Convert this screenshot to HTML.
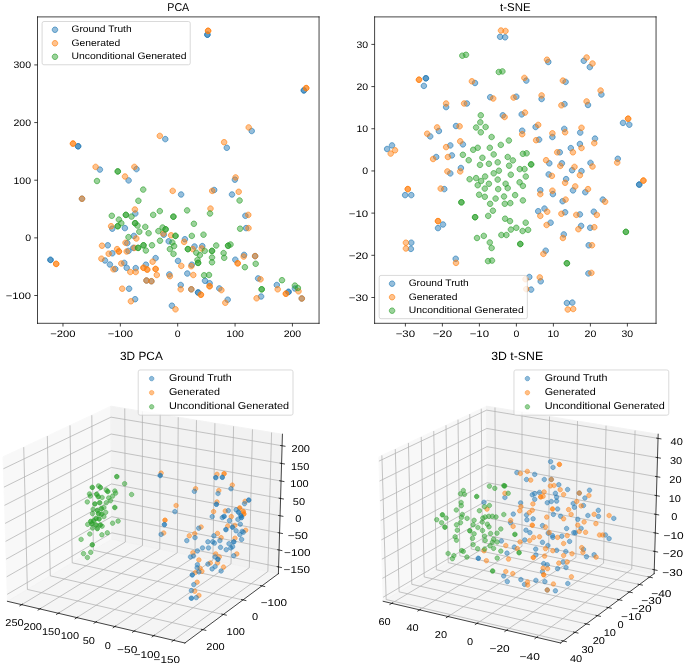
<!DOCTYPE html>
<html><head><meta charset="utf-8"><title>PCA / t-SNE</title>
<style>html,body{margin:0;padding:0;background:#fff;overflow:hidden}svg{display:block;will-change:transform}</style>
</head><body>
<svg width="685" height="665" viewBox="0 0 744.565217 722.826087">
 
 <defs>
  <style type="text/css">*{stroke-linejoin: round; stroke-linecap: butt}</style>
 </defs>
 <g id="figure_1">
  <g id="patch_1">
   <path d="M 0 722.826087 
L 744.565217 722.826087 
L 744.565217 0 
L 0 0 
z
" style="fill: #ffffff"/>
  </g>
  <g id="axes_1">
   <g id="patch_2">
    <path d="M 40.76087 351.413043 
L 346.793478 351.413043 
L 346.793478 18.369565 
L 40.76087 18.369565 
z
" style="fill: #ffffff"/>
   </g>
   <g id="PathCollection_1">
    <defs>
     <path id="m3ec760572e" d="M 0 3 
C 0.795609 3 1.55874 2.683901 2.12132 2.12132 
C 2.683901 1.55874 3 0.795609 3 0 
C 3 -0.795609 2.683901 -1.55874 2.12132 -2.12132 
C 1.55874 -2.683901 0.795609 -3 0 -3 
C -0.795609 -3 -1.55874 -2.683901 -2.12132 -2.12132 
C -2.683901 -1.55874 -3 -0.795609 -3 0 
C -3 0.795609 -2.683901 1.55874 -2.12132 2.12132 
C -1.55874 2.683901 -0.795609 3 0 3 
z
"/>
    </defs>
    <g clip-path="url(#p00e8a8040b)">
     <use href="#m3ec760572e" x="225.434783" y="37.717391" style="fill: #1f77b4; fill-opacity: 0.475; stroke: #1f77b4; stroke-opacity: 0.700; stroke-width: 1.00"/>
     <use href="#m3ec760572e" x="225.434783" y="37.717391" style="fill: #1f77b4; fill-opacity: 0.475; stroke: #1f77b4; stroke-opacity: 0.700; stroke-width: 1.00"/>
     <use href="#m3ec760572e" x="330.326087" y="98.26087" style="fill: #1f77b4; fill-opacity: 0.475; stroke: #1f77b4; stroke-opacity: 0.700; stroke-width: 1.00"/>
     <use href="#m3ec760572e" x="330.326087" y="98.26087" style="fill: #1f77b4; fill-opacity: 0.475; stroke: #1f77b4; stroke-opacity: 0.700; stroke-width: 1.00"/>
     <use href="#m3ec760572e" x="84.891304" y="159.021739" style="fill: #1f77b4; fill-opacity: 0.475; stroke: #1f77b4; stroke-opacity: 0.700; stroke-width: 1.00"/>
     <use href="#m3ec760572e" x="84.891304" y="159.021739" style="fill: #1f77b4; fill-opacity: 0.475; stroke: #1f77b4; stroke-opacity: 0.700; stroke-width: 1.00"/>
     <use href="#m3ec760572e" x="108.586957" y="184.347826" style="fill: #1f77b4; fill-opacity: 0.475; stroke: #1f77b4; stroke-opacity: 0.700; stroke-width: 1.00"/>
     <use href="#m3ec760572e" x="148.369565" y="183.804348" style="fill: #1f77b4; fill-opacity: 0.475; stroke: #1f77b4; stroke-opacity: 0.700; stroke-width: 1.00"/>
     <use href="#m3ec760572e" x="139.782609" y="196.086957" style="fill: #1f77b4; fill-opacity: 0.475; stroke: #1f77b4; stroke-opacity: 0.700; stroke-width: 1.00"/>
     <use href="#m3ec760572e" x="89.130435" y="215.978261" style="fill: #1f77b4; fill-opacity: 0.475; stroke: #1f77b4; stroke-opacity: 0.700; stroke-width: 1.00"/>
     <use href="#m3ec760572e" x="147.065217" y="232.065217" style="fill: #1f77b4; fill-opacity: 0.475; stroke: #1f77b4; stroke-opacity: 0.700; stroke-width: 1.00"/>
     <use href="#m3ec760572e" x="179.673913" y="151.195652" style="fill: #1f77b4; fill-opacity: 0.475; stroke: #1f77b4; stroke-opacity: 0.700; stroke-width: 1.00"/>
     <use href="#m3ec760572e" x="246.521739" y="160.652174" style="fill: #1f77b4; fill-opacity: 0.475; stroke: #1f77b4; stroke-opacity: 0.700; stroke-width: 1.00"/>
     <use href="#m3ec760572e" x="196.847826" y="211.413043" style="fill: #1f77b4; fill-opacity: 0.475; stroke: #1f77b4; stroke-opacity: 0.700; stroke-width: 1.00"/>
     <use href="#m3ec760572e" x="232.826087" y="206.521739" style="fill: #1f77b4; fill-opacity: 0.475; stroke: #1f77b4; stroke-opacity: 0.700; stroke-width: 1.00"/>
     <use href="#m3ec760572e" x="255.326087" y="195.326087" style="fill: #1f77b4; fill-opacity: 0.475; stroke: #1f77b4; stroke-opacity: 0.700; stroke-width: 1.00"/>
     <use href="#m3ec760572e" x="252.173913" y="211.413043" style="fill: #1f77b4; fill-opacity: 0.475; stroke: #1f77b4; stroke-opacity: 0.700; stroke-width: 1.00"/>
     <use href="#m3ec760572e" x="273.586957" y="142.391304" style="fill: #1f77b4; fill-opacity: 0.475; stroke: #1f77b4; stroke-opacity: 0.700; stroke-width: 1.00"/>
     <use href="#m3ec760572e" x="266.73913" y="234.565217" style="fill: #1f77b4; fill-opacity: 0.475; stroke: #1f77b4; stroke-opacity: 0.700; stroke-width: 1.00"/>
     <use href="#m3ec760572e" x="54.891304" y="282.5" style="fill: #1f77b4; fill-opacity: 0.475; stroke: #1f77b4; stroke-opacity: 0.700; stroke-width: 1.00"/>
     <use href="#m3ec760572e" x="54.891304" y="282.5" style="fill: #1f77b4; fill-opacity: 0.475; stroke: #1f77b4; stroke-opacity: 0.700; stroke-width: 1.00"/>
     <use href="#m3ec760572e" x="122.065217" y="248.586957" style="fill: #1f77b4; fill-opacity: 0.475; stroke: #1f77b4; stroke-opacity: 0.700; stroke-width: 1.00"/>
     <use href="#m3ec760572e" x="135.76087" y="247.934783" style="fill: #1f77b4; fill-opacity: 0.475; stroke: #1f77b4; stroke-opacity: 0.700; stroke-width: 1.00"/>
     <use href="#m3ec760572e" x="145.543478" y="256.413043" style="fill: #1f77b4; fill-opacity: 0.475; stroke: #1f77b4; stroke-opacity: 0.700; stroke-width: 1.00"/>
     <use href="#m3ec760572e" x="117.173913" y="266.630435" style="fill: #1f77b4; fill-opacity: 0.475; stroke: #1f77b4; stroke-opacity: 0.700; stroke-width: 1.00"/>
     <use href="#m3ec760572e" x="138.369565" y="264.23913" style="fill: #1f77b4; fill-opacity: 0.475; stroke: #1f77b4; stroke-opacity: 0.700; stroke-width: 1.00"/>
     <use href="#m3ec760572e" x="122.065217" y="275.326087" style="fill: #1f77b4; fill-opacity: 0.475; stroke: #1f77b4; stroke-opacity: 0.700; stroke-width: 1.00"/>
     <use href="#m3ec760572e" x="139.673913" y="272.717391" style="fill: #1f77b4; fill-opacity: 0.475; stroke: #1f77b4; stroke-opacity: 0.700; stroke-width: 1.00"/>
     <use href="#m3ec760572e" x="144.891304" y="269.456522" style="fill: #1f77b4; fill-opacity: 0.475; stroke: #1f77b4; stroke-opacity: 0.700; stroke-width: 1.00"/>
     <use href="#m3ec760572e" x="114.130435" y="283.152174" style="fill: #1f77b4; fill-opacity: 0.475; stroke: #1f77b4; stroke-opacity: 0.700; stroke-width: 1.00"/>
     <use href="#m3ec760572e" x="119.456522" y="287.5" style="fill: #1f77b4; fill-opacity: 0.475; stroke: #1f77b4; stroke-opacity: 0.700; stroke-width: 1.00"/>
     <use href="#m3ec760572e" x="125.326087" y="292.391304" style="fill: #1f77b4; fill-opacity: 0.475; stroke: #1f77b4; stroke-opacity: 0.700; stroke-width: 1.00"/>
     <use href="#m3ec760572e" x="135.108696" y="285.76087" style="fill: #1f77b4; fill-opacity: 0.475; stroke: #1f77b4; stroke-opacity: 0.700; stroke-width: 1.00"/>
     <use href="#m3ec760572e" x="137.717391" y="291.086957" style="fill: #1f77b4; fill-opacity: 0.475; stroke: #1f77b4; stroke-opacity: 0.700; stroke-width: 1.00"/>
     <use href="#m3ec760572e" x="147.5" y="291.413043" style="fill: #1f77b4; fill-opacity: 0.475; stroke: #1f77b4; stroke-opacity: 0.700; stroke-width: 1.00"/>
     <use href="#m3ec760572e" x="158.586957" y="287.717391" style="fill: #1f77b4; fill-opacity: 0.475; stroke: #1f77b4; stroke-opacity: 0.700; stroke-width: 1.00"/>
     <use href="#m3ec760572e" x="169.130435" y="280.543478" style="fill: #1f77b4; fill-opacity: 0.475; stroke: #1f77b4; stroke-opacity: 0.700; stroke-width: 1.00"/>
     <use href="#m3ec760572e" x="178.043478" y="255.108696" style="fill: #1f77b4; fill-opacity: 0.475; stroke: #1f77b4; stroke-opacity: 0.700; stroke-width: 1.00"/>
     <use href="#m3ec760572e" x="183.369565" y="262.282609" style="fill: #1f77b4; fill-opacity: 0.475; stroke: #1f77b4; stroke-opacity: 0.700; stroke-width: 1.00"/>
     <use href="#m3ec760572e" x="200.978261" y="260" style="fill: #1f77b4; fill-opacity: 0.475; stroke: #1f77b4; stroke-opacity: 0.700; stroke-width: 1.00"/>
     <use href="#m3ec760572e" x="211.413043" y="267.934783" style="fill: #1f77b4; fill-opacity: 0.475; stroke: #1f77b4; stroke-opacity: 0.700; stroke-width: 1.00"/>
     <use href="#m3ec760572e" x="219.891304" y="267.5" style="fill: #1f77b4; fill-opacity: 0.475; stroke: #1f77b4; stroke-opacity: 0.700; stroke-width: 1.00"/>
     <use href="#m3ec760572e" x="193.478261" y="283.586957" style="fill: #1f77b4; fill-opacity: 0.475; stroke: #1f77b4; stroke-opacity: 0.700; stroke-width: 1.00"/>
     <use href="#m3ec760572e" x="208.478261" y="287.717391" style="fill: #1f77b4; fill-opacity: 0.475; stroke: #1f77b4; stroke-opacity: 0.700; stroke-width: 1.00"/>
     <use href="#m3ec760572e" x="203.586957" y="297.282609" style="fill: #1f77b4; fill-opacity: 0.475; stroke: #1f77b4; stroke-opacity: 0.700; stroke-width: 1.00"/>
     <use href="#m3ec760572e" x="184.021739" y="298.26087" style="fill: #1f77b4; fill-opacity: 0.475; stroke: #1f77b4; stroke-opacity: 0.700; stroke-width: 1.00"/>
     <use href="#m3ec760572e" x="267.5" y="247.934783" style="fill: #1f77b4; fill-opacity: 0.475; stroke: #1f77b4; stroke-opacity: 0.700; stroke-width: 1.00"/>
     <use href="#m3ec760572e" x="255.76087" y="282.282609" style="fill: #1f77b4; fill-opacity: 0.475; stroke: #1f77b4; stroke-opacity: 0.700; stroke-width: 1.00"/>
     <use href="#m3ec760572e" x="265.326087" y="277.065217" style="fill: #1f77b4; fill-opacity: 0.475; stroke: #1f77b4; stroke-opacity: 0.700; stroke-width: 1.00"/>
     <use href="#m3ec760572e" x="277.282609" y="278.369565" style="fill: #1f77b4; fill-opacity: 0.475; stroke: #1f77b4; stroke-opacity: 0.700; stroke-width: 1.00"/>
     <use href="#m3ec760572e" x="159.23913" y="304.891304" style="fill: #1f77b4; fill-opacity: 0.475; stroke: #1f77b4; stroke-opacity: 0.700; stroke-width: 1.00"/>
     <use href="#m3ec760572e" x="164.565217" y="305.652174" style="fill: #1f77b4; fill-opacity: 0.475; stroke: #1f77b4; stroke-opacity: 0.700; stroke-width: 1.00"/>
     <use href="#m3ec760572e" x="140.326087" y="313.804348" style="fill: #1f77b4; fill-opacity: 0.475; stroke: #1f77b4; stroke-opacity: 0.700; stroke-width: 1.00"/>
     <use href="#m3ec760572e" x="146.847826" y="325.217391" style="fill: #1f77b4; fill-opacity: 0.475; stroke: #1f77b4; stroke-opacity: 0.700; stroke-width: 1.00"/>
     <use href="#m3ec760572e" x="222.826087" y="305.217391" style="fill: #1f77b4; fill-opacity: 0.475; stroke: #1f77b4; stroke-opacity: 0.700; stroke-width: 1.00"/>
     <use href="#m3ec760572e" x="227.826087" y="307.826087" style="fill: #1f77b4; fill-opacity: 0.475; stroke: #1f77b4; stroke-opacity: 0.700; stroke-width: 1.00"/>
     <use href="#m3ec760572e" x="196.413043" y="309.782609" style="fill: #1f77b4; fill-opacity: 0.475; stroke: #1f77b4; stroke-opacity: 0.700; stroke-width: 1.00"/>
     <use href="#m3ec760572e" x="207.934783" y="314.456522" style="fill: #1f77b4; fill-opacity: 0.475; stroke: #1f77b4; stroke-opacity: 0.700; stroke-width: 1.00"/>
     <use href="#m3ec760572e" x="215.326087" y="317.934783" style="fill: #1f77b4; fill-opacity: 0.475; stroke: #1f77b4; stroke-opacity: 0.700; stroke-width: 1.00"/>
     <use href="#m3ec760572e" x="215.326087" y="317.934783" style="fill: #1f77b4; fill-opacity: 0.475; stroke: #1f77b4; stroke-opacity: 0.700; stroke-width: 1.00"/>
     <use href="#m3ec760572e" x="186.847826" y="332.282609" style="fill: #1f77b4; fill-opacity: 0.475; stroke: #1f77b4; stroke-opacity: 0.700; stroke-width: 1.00"/>
     <use href="#m3ec760572e" x="238.369565" y="313.478261" style="fill: #1f77b4; fill-opacity: 0.475; stroke: #1f77b4; stroke-opacity: 0.700; stroke-width: 1.00"/>
     <use href="#m3ec760572e" x="247.5" y="325.76087" style="fill: #1f77b4; fill-opacity: 0.475; stroke: #1f77b4; stroke-opacity: 0.700; stroke-width: 1.00"/>
     <use href="#m3ec760572e" x="280.543478" y="302.608696" style="fill: #1f77b4; fill-opacity: 0.475; stroke: #1f77b4; stroke-opacity: 0.700; stroke-width: 1.00"/>
     <use href="#m3ec760572e" x="283.804348" y="322.282609" style="fill: #1f77b4; fill-opacity: 0.475; stroke: #1f77b4; stroke-opacity: 0.700; stroke-width: 1.00"/>
     <use href="#m3ec760572e" x="300.869565" y="309.782609" style="fill: #1f77b4; fill-opacity: 0.475; stroke: #1f77b4; stroke-opacity: 0.700; stroke-width: 1.00"/>
     <use href="#m3ec760572e" x="313.586957" y="317.282609" style="fill: #1f77b4; fill-opacity: 0.475; stroke: #1f77b4; stroke-opacity: 0.700; stroke-width: 1.00"/>
     <use href="#m3ec760572e" x="313.586957" y="317.282609" style="fill: #1f77b4; fill-opacity: 0.475; stroke: #1f77b4; stroke-opacity: 0.700; stroke-width: 1.00"/>
     <use href="#m3ec760572e" x="320.543478" y="313.586957" style="fill: #1f77b4; fill-opacity: 0.475; stroke: #1f77b4; stroke-opacity: 0.700; stroke-width: 1.00"/>
     <use href="#m3ec760572e" x="328.043478" y="324.456522" style="fill: #1f77b4; fill-opacity: 0.475; stroke: #1f77b4; stroke-opacity: 0.700; stroke-width: 1.00"/>
    </g>
   </g>
   <g id="PathCollection_2">
    <defs>
     <path id="m0b2cd70437" d="M 0 3 
C 0.795609 3 1.55874 2.683901 2.12132 2.12132 
C 2.683901 1.55874 3 0.795609 3 0 
C 3 -0.795609 2.683901 -1.55874 2.12132 -2.12132 
C 1.55874 -2.683901 0.795609 -3 0 -3 
C -0.795609 -3 -1.55874 -2.683901 -2.12132 -2.12132 
C -2.683901 -1.55874 -3 -0.795609 -3 0 
C -3 0.795609 -2.683901 1.55874 -2.12132 2.12132 
C -1.55874 2.683901 -0.795609 3 0 3 
z
"/>
    </defs>
    <g clip-path="url(#p00e8a8040b)">
     <use href="#m0b2cd70437" x="226.195652" y="33.478261" style="fill: #ff7f0e; fill-opacity: 0.475; stroke: #ff7f0e; stroke-opacity: 0.700; stroke-width: 1.00"/>
     <use href="#m0b2cd70437" x="226.195652" y="33.478261" style="fill: #ff7f0e; fill-opacity: 0.475; stroke: #ff7f0e; stroke-opacity: 0.700; stroke-width: 1.00"/>
     <use href="#m0b2cd70437" x="332.826087" y="95.76087" style="fill: #ff7f0e; fill-opacity: 0.475; stroke: #ff7f0e; stroke-opacity: 0.700; stroke-width: 1.00"/>
     <use href="#m0b2cd70437" x="332.826087" y="95.76087" style="fill: #ff7f0e; fill-opacity: 0.475; stroke: #ff7f0e; stroke-opacity: 0.700; stroke-width: 1.00"/>
     <use href="#m0b2cd70437" x="79.347826" y="156.086957" style="fill: #ff7f0e; fill-opacity: 0.475; stroke: #ff7f0e; stroke-opacity: 0.700; stroke-width: 1.00"/>
     <use href="#m0b2cd70437" x="79.347826" y="156.086957" style="fill: #ff7f0e; fill-opacity: 0.475; stroke: #ff7f0e; stroke-opacity: 0.700; stroke-width: 1.00"/>
     <use href="#m0b2cd70437" x="103.913043" y="181.413043" style="fill: #ff7f0e; fill-opacity: 0.475; stroke: #ff7f0e; stroke-opacity: 0.700; stroke-width: 1.00"/>
     <use href="#m0b2cd70437" x="146.086957" y="181.413043" style="fill: #ff7f0e; fill-opacity: 0.475; stroke: #ff7f0e; stroke-opacity: 0.700; stroke-width: 1.00"/>
     <use href="#m0b2cd70437" x="135.869565" y="191.847826" style="fill: #ff7f0e; fill-opacity: 0.475; stroke: #ff7f0e; stroke-opacity: 0.700; stroke-width: 1.00"/>
     <use href="#m0b2cd70437" x="89.130435" y="215.978261" style="fill: #ff7f0e; fill-opacity: 0.475; stroke: #ff7f0e; stroke-opacity: 0.700; stroke-width: 1.00"/>
     <use href="#m0b2cd70437" x="146.630435" y="227.717391" style="fill: #ff7f0e; fill-opacity: 0.475; stroke: #ff7f0e; stroke-opacity: 0.700; stroke-width: 1.00"/>
     <use href="#m0b2cd70437" x="173.695652" y="147.717391" style="fill: #ff7f0e; fill-opacity: 0.475; stroke: #ff7f0e; stroke-opacity: 0.700; stroke-width: 1.00"/>
     <use href="#m0b2cd70437" x="243.586957" y="154.565217" style="fill: #ff7f0e; fill-opacity: 0.475; stroke: #ff7f0e; stroke-opacity: 0.700; stroke-width: 1.00"/>
     <use href="#m0b2cd70437" x="187.717391" y="207.5" style="fill: #ff7f0e; fill-opacity: 0.475; stroke: #ff7f0e; stroke-opacity: 0.700; stroke-width: 1.00"/>
     <use href="#m0b2cd70437" x="230.652174" y="207.5" style="fill: #ff7f0e; fill-opacity: 0.475; stroke: #ff7f0e; stroke-opacity: 0.700; stroke-width: 1.00"/>
     <use href="#m0b2cd70437" x="256.086957" y="192.826087" style="fill: #ff7f0e; fill-opacity: 0.475; stroke: #ff7f0e; stroke-opacity: 0.700; stroke-width: 1.00"/>
     <use href="#m0b2cd70437" x="228.804348" y="226.73913" style="fill: #ff7f0e; fill-opacity: 0.475; stroke: #ff7f0e; stroke-opacity: 0.700; stroke-width: 1.00"/>
     <use href="#m0b2cd70437" x="270.326087" y="138.478261" style="fill: #ff7f0e; fill-opacity: 0.475; stroke: #ff7f0e; stroke-opacity: 0.700; stroke-width: 1.00"/>
     <use href="#m0b2cd70437" x="259.456522" y="208.478261" style="fill: #ff7f0e; fill-opacity: 0.475; stroke: #ff7f0e; stroke-opacity: 0.700; stroke-width: 1.00"/>
     <use href="#m0b2cd70437" x="269.891304" y="233.586957" style="fill: #ff7f0e; fill-opacity: 0.475; stroke: #ff7f0e; stroke-opacity: 0.700; stroke-width: 1.00"/>
     <use href="#m0b2cd70437" x="61.086957" y="286.847826" style="fill: #ff7f0e; fill-opacity: 0.475; stroke: #ff7f0e; stroke-opacity: 0.700; stroke-width: 1.00"/>
     <use href="#m0b2cd70437" x="61.086957" y="286.847826" style="fill: #ff7f0e; fill-opacity: 0.475; stroke: #ff7f0e; stroke-opacity: 0.700; stroke-width: 1.00"/>
     <use href="#m0b2cd70437" x="120.76087" y="245.869565" style="fill: #ff7f0e; fill-opacity: 0.475; stroke: #ff7f0e; stroke-opacity: 0.700; stroke-width: 1.00"/>
     <use href="#m0b2cd70437" x="148.152174" y="259.23913" style="fill: #ff7f0e; fill-opacity: 0.475; stroke: #ff7f0e; stroke-opacity: 0.700; stroke-width: 1.00"/>
     <use href="#m0b2cd70437" x="110.869565" y="267.065217" style="fill: #ff7f0e; fill-opacity: 0.475; stroke: #ff7f0e; stroke-opacity: 0.700; stroke-width: 1.00"/>
     <use href="#m0b2cd70437" x="136.413043" y="263.913043" style="fill: #ff7f0e; fill-opacity: 0.475; stroke: #ff7f0e; stroke-opacity: 0.700; stroke-width: 1.00"/>
     <use href="#m0b2cd70437" x="127.282609" y="270.76087" style="fill: #ff7f0e; fill-opacity: 0.475; stroke: #ff7f0e; stroke-opacity: 0.700; stroke-width: 1.00"/>
     <use href="#m0b2cd70437" x="129.23913" y="273.369565" style="fill: #ff7f0e; fill-opacity: 0.475; stroke: #ff7f0e; stroke-opacity: 0.700; stroke-width: 1.00"/>
     <use href="#m0b2cd70437" x="129.23913" y="273.369565" style="fill: #ff7f0e; fill-opacity: 0.475; stroke: #ff7f0e; stroke-opacity: 0.700; stroke-width: 1.00"/>
     <use href="#m0b2cd70437" x="118.152174" y="275.76087" style="fill: #ff7f0e; fill-opacity: 0.475; stroke: #ff7f0e; stroke-opacity: 0.700; stroke-width: 1.00"/>
     <use href="#m0b2cd70437" x="137.717391" y="273.369565" style="fill: #ff7f0e; fill-opacity: 0.475; stroke: #ff7f0e; stroke-opacity: 0.700; stroke-width: 1.00"/>
     <use href="#m0b2cd70437" x="146.195652" y="269.456522" style="fill: #ff7f0e; fill-opacity: 0.475; stroke: #ff7f0e; stroke-opacity: 0.700; stroke-width: 1.00"/>
     <use href="#m0b2cd70437" x="110.217391" y="281.195652" style="fill: #ff7f0e; fill-opacity: 0.475; stroke: #ff7f0e; stroke-opacity: 0.700; stroke-width: 1.00"/>
     <use href="#m0b2cd70437" x="123.369565" y="292.717391" style="fill: #ff7f0e; fill-opacity: 0.475; stroke: #ff7f0e; stroke-opacity: 0.700; stroke-width: 1.00"/>
     <use href="#m0b2cd70437" x="131.847826" y="286.413043" style="fill: #ff7f0e; fill-opacity: 0.475; stroke: #ff7f0e; stroke-opacity: 0.700; stroke-width: 1.00"/>
     <use href="#m0b2cd70437" x="141.630435" y="295.652174" style="fill: #ff7f0e; fill-opacity: 0.475; stroke: #ff7f0e; stroke-opacity: 0.700; stroke-width: 1.00"/>
     <use href="#m0b2cd70437" x="147.5" y="295.652174" style="fill: #ff7f0e; fill-opacity: 0.475; stroke: #ff7f0e; stroke-opacity: 0.700; stroke-width: 1.00"/>
     <use href="#m0b2cd70437" x="155.978261" y="291.086957" style="fill: #ff7f0e; fill-opacity: 0.475; stroke: #ff7f0e; stroke-opacity: 0.700; stroke-width: 1.00"/>
     <use href="#m0b2cd70437" x="155.978261" y="291.086957" style="fill: #ff7f0e; fill-opacity: 0.475; stroke: #ff7f0e; stroke-opacity: 0.700; stroke-width: 1.00"/>
     <use href="#m0b2cd70437" x="160" y="293.043478" style="fill: #ff7f0e; fill-opacity: 0.475; stroke: #ff7f0e; stroke-opacity: 0.700; stroke-width: 1.00"/>
     <use href="#m0b2cd70437" x="160" y="293.043478" style="fill: #ff7f0e; fill-opacity: 0.475; stroke: #ff7f0e; stroke-opacity: 0.700; stroke-width: 1.00"/>
     <use href="#m0b2cd70437" x="165.869565" y="284.456522" style="fill: #ff7f0e; fill-opacity: 0.475; stroke: #ff7f0e; stroke-opacity: 0.700; stroke-width: 1.00"/>
     <use href="#m0b2cd70437" x="169.130435" y="292.391304" style="fill: #ff7f0e; fill-opacity: 0.475; stroke: #ff7f0e; stroke-opacity: 0.700; stroke-width: 1.00"/>
     <use href="#m0b2cd70437" x="169.130435" y="292.391304" style="fill: #ff7f0e; fill-opacity: 0.475; stroke: #ff7f0e; stroke-opacity: 0.700; stroke-width: 1.00"/>
     <use href="#m0b2cd70437" x="170.434783" y="298.913043" style="fill: #ff7f0e; fill-opacity: 0.475; stroke: #ff7f0e; stroke-opacity: 0.700; stroke-width: 1.00"/>
     <use href="#m0b2cd70437" x="177.391304" y="253.804348" style="fill: #ff7f0e; fill-opacity: 0.475; stroke: #ff7f0e; stroke-opacity: 0.700; stroke-width: 1.00"/>
     <use href="#m0b2cd70437" x="185.978261" y="255.76087" style="fill: #ff7f0e; fill-opacity: 0.475; stroke: #ff7f0e; stroke-opacity: 0.700; stroke-width: 1.00"/>
     <use href="#m0b2cd70437" x="200.108696" y="262.934783" style="fill: #ff7f0e; fill-opacity: 0.475; stroke: #ff7f0e; stroke-opacity: 0.700; stroke-width: 1.00"/>
     <use href="#m0b2cd70437" x="209.456522" y="270.76087" style="fill: #ff7f0e; fill-opacity: 0.475; stroke: #ff7f0e; stroke-opacity: 0.700; stroke-width: 1.00"/>
     <use href="#m0b2cd70437" x="219.23913" y="270.108696" style="fill: #ff7f0e; fill-opacity: 0.475; stroke: #ff7f0e; stroke-opacity: 0.700; stroke-width: 1.00"/>
     <use href="#m0b2cd70437" x="197.065217" y="289.021739" style="fill: #ff7f0e; fill-opacity: 0.475; stroke: #ff7f0e; stroke-opacity: 0.700; stroke-width: 1.00"/>
     <use href="#m0b2cd70437" x="207.934783" y="289.347826" style="fill: #ff7f0e; fill-opacity: 0.475; stroke: #ff7f0e; stroke-opacity: 0.700; stroke-width: 1.00"/>
     <use href="#m0b2cd70437" x="210.108696" y="298.913043" style="fill: #ff7f0e; fill-opacity: 0.475; stroke: #ff7f0e; stroke-opacity: 0.700; stroke-width: 1.00"/>
     <use href="#m0b2cd70437" x="184.673913" y="300.217391" style="fill: #ff7f0e; fill-opacity: 0.475; stroke: #ff7f0e; stroke-opacity: 0.700; stroke-width: 1.00"/>
     <use href="#m0b2cd70437" x="270.108696" y="247.934783" style="fill: #ff7f0e; fill-opacity: 0.475; stroke: #ff7f0e; stroke-opacity: 0.700; stroke-width: 1.00"/>
     <use href="#m0b2cd70437" x="258.369565" y="286.195652" style="fill: #ff7f0e; fill-opacity: 0.475; stroke: #ff7f0e; stroke-opacity: 0.700; stroke-width: 1.00"/>
     <use href="#m0b2cd70437" x="258.369565" y="286.195652" style="fill: #ff7f0e; fill-opacity: 0.475; stroke: #ff7f0e; stroke-opacity: 0.700; stroke-width: 1.00"/>
     <use href="#m0b2cd70437" x="264.891304" y="278.913043" style="fill: #ff7f0e; fill-opacity: 0.475; stroke: #ff7f0e; stroke-opacity: 0.700; stroke-width: 1.00"/>
     <use href="#m0b2cd70437" x="277.282609" y="278.369565" style="fill: #ff7f0e; fill-opacity: 0.475; stroke: #ff7f0e; stroke-opacity: 0.700; stroke-width: 1.00"/>
     <use href="#m0b2cd70437" x="159.23913" y="304.891304" style="fill: #ff7f0e; fill-opacity: 0.475; stroke: #ff7f0e; stroke-opacity: 0.700; stroke-width: 1.00"/>
     <use href="#m0b2cd70437" x="164.565217" y="305.652174" style="fill: #ff7f0e; fill-opacity: 0.475; stroke: #ff7f0e; stroke-opacity: 0.700; stroke-width: 1.00"/>
     <use href="#m0b2cd70437" x="132.826087" y="313.804348" style="fill: #ff7f0e; fill-opacity: 0.475; stroke: #ff7f0e; stroke-opacity: 0.700; stroke-width: 1.00"/>
     <use href="#m0b2cd70437" x="142.282609" y="327.5" style="fill: #ff7f0e; fill-opacity: 0.475; stroke: #ff7f0e; stroke-opacity: 0.700; stroke-width: 1.00"/>
     <use href="#m0b2cd70437" x="227.826087" y="311.086957" style="fill: #ff7f0e; fill-opacity: 0.475; stroke: #ff7f0e; stroke-opacity: 0.700; stroke-width: 1.00"/>
     <use href="#m0b2cd70437" x="227.826087" y="311.086957" style="fill: #ff7f0e; fill-opacity: 0.475; stroke: #ff7f0e; stroke-opacity: 0.700; stroke-width: 1.00"/>
     <use href="#m0b2cd70437" x="196.413043" y="314.456522" style="fill: #ff7f0e; fill-opacity: 0.475; stroke: #ff7f0e; stroke-opacity: 0.700; stroke-width: 1.00"/>
     <use href="#m0b2cd70437" x="207.934783" y="314.456522" style="fill: #ff7f0e; fill-opacity: 0.475; stroke: #ff7f0e; stroke-opacity: 0.700; stroke-width: 1.00"/>
     <use href="#m0b2cd70437" x="218.369565" y="320.326087" style="fill: #ff7f0e; fill-opacity: 0.475; stroke: #ff7f0e; stroke-opacity: 0.700; stroke-width: 1.00"/>
     <use href="#m0b2cd70437" x="218.369565" y="320.326087" style="fill: #ff7f0e; fill-opacity: 0.475; stroke: #ff7f0e; stroke-opacity: 0.700; stroke-width: 1.00"/>
     <use href="#m0b2cd70437" x="190.76087" y="336.195652" style="fill: #ff7f0e; fill-opacity: 0.475; stroke: #ff7f0e; stroke-opacity: 0.700; stroke-width: 1.00"/>
     <use href="#m0b2cd70437" x="240.652174" y="315.326087" style="fill: #ff7f0e; fill-opacity: 0.475; stroke: #ff7f0e; stroke-opacity: 0.700; stroke-width: 1.00"/>
     <use href="#m0b2cd70437" x="244.891304" y="329.130435" style="fill: #ff7f0e; fill-opacity: 0.475; stroke: #ff7f0e; stroke-opacity: 0.700; stroke-width: 1.00"/>
     <use href="#m0b2cd70437" x="283.152174" y="303.586957" style="fill: #ff7f0e; fill-opacity: 0.475; stroke: #ff7f0e; stroke-opacity: 0.700; stroke-width: 1.00"/>
     <use href="#m0b2cd70437" x="278.913043" y="324.23913" style="fill: #ff7f0e; fill-opacity: 0.475; stroke: #ff7f0e; stroke-opacity: 0.700; stroke-width: 1.00"/>
     <use href="#m0b2cd70437" x="301.847826" y="314.456522" style="fill: #ff7f0e; fill-opacity: 0.475; stroke: #ff7f0e; stroke-opacity: 0.700; stroke-width: 1.00"/>
     <use href="#m0b2cd70437" x="310.76087" y="319.23913" style="fill: #ff7f0e; fill-opacity: 0.475; stroke: #ff7f0e; stroke-opacity: 0.700; stroke-width: 1.00"/>
     <use href="#m0b2cd70437" x="310.76087" y="319.23913" style="fill: #ff7f0e; fill-opacity: 0.475; stroke: #ff7f0e; stroke-opacity: 0.700; stroke-width: 1.00"/>
     <use href="#m0b2cd70437" x="324.456522" y="316.630435" style="fill: #ff7f0e; fill-opacity: 0.475; stroke: #ff7f0e; stroke-opacity: 0.700; stroke-width: 1.00"/>
     <use href="#m0b2cd70437" x="328.043478" y="324.456522" style="fill: #ff7f0e; fill-opacity: 0.475; stroke: #ff7f0e; stroke-opacity: 0.700; stroke-width: 1.00"/>
    </g>
   </g>
   <g id="PathCollection_3">
    <defs>
     <path id="m2f730badc8" d="M 0 3 
C 0.795609 3 1.55874 2.683901 2.12132 2.12132 
C 2.683901 1.55874 3 0.795609 3 0 
C 3 -0.795609 2.683901 -1.55874 2.12132 -2.12132 
C 1.55874 -2.683901 0.795609 -3 0 -3 
C -0.795609 -3 -1.55874 -2.683901 -2.12132 -2.12132 
C -2.683901 -1.55874 -3 -0.795609 -3 0 
C -3 0.795609 -2.683901 1.55874 -2.12132 2.12132 
C -1.55874 2.683901 -0.795609 3 0 3 
z
"/>
    </defs>
    <g clip-path="url(#p00e8a8040b)">
     <use href="#m2f730badc8" x="128.043478" y="186.304348" style="fill: #2ca02c; fill-opacity: 0.475; stroke: #2ca02c; stroke-opacity: 0.700; stroke-width: 1.00"/>
     <use href="#m2f730badc8" x="128.043478" y="186.304348" style="fill: #2ca02c; fill-opacity: 0.475; stroke: #2ca02c; stroke-opacity: 0.700; stroke-width: 1.00"/>
     <use href="#m2f730badc8" x="105.434783" y="196.73913" style="fill: #2ca02c; fill-opacity: 0.475; stroke: #2ca02c; stroke-opacity: 0.700; stroke-width: 1.00"/>
     <use href="#m2f730badc8" x="121.521739" y="234.565217" style="fill: #2ca02c; fill-opacity: 0.475; stroke: #2ca02c; stroke-opacity: 0.700; stroke-width: 1.00"/>
     <use href="#m2f730badc8" x="136.847826" y="233.586957" style="fill: #2ca02c; fill-opacity: 0.475; stroke: #2ca02c; stroke-opacity: 0.700; stroke-width: 1.00"/>
     <use href="#m2f730badc8" x="136.847826" y="233.586957" style="fill: #2ca02c; fill-opacity: 0.475; stroke: #2ca02c; stroke-opacity: 0.700; stroke-width: 1.00"/>
     <use href="#m2f730badc8" x="155.652174" y="206.086957" style="fill: #2ca02c; fill-opacity: 0.475; stroke: #2ca02c; stroke-opacity: 0.700; stroke-width: 1.00"/>
     <use href="#m2f730badc8" x="150.434783" y="218.26087" style="fill: #2ca02c; fill-opacity: 0.475; stroke: #2ca02c; stroke-opacity: 0.700; stroke-width: 1.00"/>
     <use href="#m2f730badc8" x="173.695652" y="229.456522" style="fill: #2ca02c; fill-opacity: 0.475; stroke: #2ca02c; stroke-opacity: 0.700; stroke-width: 1.00"/>
     <use href="#m2f730badc8" x="166.521739" y="233.586957" style="fill: #2ca02c; fill-opacity: 0.475; stroke: #2ca02c; stroke-opacity: 0.700; stroke-width: 1.00"/>
     <use href="#m2f730badc8" x="203.369565" y="228.695652" style="fill: #2ca02c; fill-opacity: 0.475; stroke: #2ca02c; stroke-opacity: 0.700; stroke-width: 1.00"/>
     <use href="#m2f730badc8" x="188.478261" y="235.543478" style="fill: #2ca02c; fill-opacity: 0.475; stroke: #2ca02c; stroke-opacity: 0.700; stroke-width: 1.00"/>
     <use href="#m2f730badc8" x="188.478261" y="235.543478" style="fill: #2ca02c; fill-opacity: 0.475; stroke: #2ca02c; stroke-opacity: 0.700; stroke-width: 1.00"/>
     <use href="#m2f730badc8" x="228.26087" y="232.065217" style="fill: #2ca02c; fill-opacity: 0.475; stroke: #2ca02c; stroke-opacity: 0.700; stroke-width: 1.00"/>
     <use href="#m2f730badc8" x="260.434783" y="217.934783" style="fill: #2ca02c; fill-opacity: 0.475; stroke: #2ca02c; stroke-opacity: 0.700; stroke-width: 1.00"/>
     <use href="#m2f730badc8" x="142.934783" y="235.434783" style="fill: #2ca02c; fill-opacity: 0.475; stroke: #2ca02c; stroke-opacity: 0.700; stroke-width: 1.00"/>
     <use href="#m2f730badc8" x="129.23913" y="238.695652" style="fill: #2ca02c; fill-opacity: 0.475; stroke: #2ca02c; stroke-opacity: 0.700; stroke-width: 1.00"/>
     <use href="#m2f730badc8" x="127.934783" y="245.869565" style="fill: #2ca02c; fill-opacity: 0.475; stroke: #2ca02c; stroke-opacity: 0.700; stroke-width: 1.00"/>
     <use href="#m2f730badc8" x="127.934783" y="245.869565" style="fill: #2ca02c; fill-opacity: 0.475; stroke: #2ca02c; stroke-opacity: 0.700; stroke-width: 1.00"/>
     <use href="#m2f730badc8" x="131.847826" y="242.608696" style="fill: #2ca02c; fill-opacity: 0.475; stroke: #2ca02c; stroke-opacity: 0.700; stroke-width: 1.00"/>
     <use href="#m2f730badc8" x="146.847826" y="242.608696" style="fill: #2ca02c; fill-opacity: 0.475; stroke: #2ca02c; stroke-opacity: 0.700; stroke-width: 1.00"/>
     <use href="#m2f730badc8" x="146.847826" y="242.608696" style="fill: #2ca02c; fill-opacity: 0.475; stroke: #2ca02c; stroke-opacity: 0.700; stroke-width: 1.00"/>
     <use href="#m2f730badc8" x="149.456522" y="245.217391" style="fill: #2ca02c; fill-opacity: 0.475; stroke: #2ca02c; stroke-opacity: 0.700; stroke-width: 1.00"/>
     <use href="#m2f730badc8" x="157.934783" y="246.630435" style="fill: #2ca02c; fill-opacity: 0.475; stroke: #2ca02c; stroke-opacity: 0.700; stroke-width: 1.00"/>
     <use href="#m2f730badc8" x="151.413043" y="251.847826" style="fill: #2ca02c; fill-opacity: 0.475; stroke: #2ca02c; stroke-opacity: 0.700; stroke-width: 1.00"/>
     <use href="#m2f730badc8" x="161.521739" y="253.478261" style="fill: #2ca02c; fill-opacity: 0.475; stroke: #2ca02c; stroke-opacity: 0.700; stroke-width: 1.00"/>
     <use href="#m2f730badc8" x="139.673913" y="257.717391" style="fill: #2ca02c; fill-opacity: 0.475; stroke: #2ca02c; stroke-opacity: 0.700; stroke-width: 1.00"/>
     <use href="#m2f730badc8" x="150.108696" y="269.456522" style="fill: #2ca02c; fill-opacity: 0.475; stroke: #2ca02c; stroke-opacity: 0.700; stroke-width: 1.00"/>
     <use href="#m2f730badc8" x="150.108696" y="269.456522" style="fill: #2ca02c; fill-opacity: 0.475; stroke: #2ca02c; stroke-opacity: 0.700; stroke-width: 1.00"/>
     <use href="#m2f730badc8" x="155.978261" y="266.630435" style="fill: #2ca02c; fill-opacity: 0.475; stroke: #2ca02c; stroke-opacity: 0.700; stroke-width: 1.00"/>
     <use href="#m2f730badc8" x="155.978261" y="266.630435" style="fill: #2ca02c; fill-opacity: 0.475; stroke: #2ca02c; stroke-opacity: 0.700; stroke-width: 1.00"/>
     <use href="#m2f730badc8" x="158.586957" y="272.282609" style="fill: #2ca02c; fill-opacity: 0.475; stroke: #2ca02c; stroke-opacity: 0.700; stroke-width: 1.00"/>
     <use href="#m2f730badc8" x="165.217391" y="266.630435" style="fill: #2ca02c; fill-opacity: 0.475; stroke: #2ca02c; stroke-opacity: 0.700; stroke-width: 1.00"/>
     <use href="#m2f730badc8" x="210.76087" y="243.26087" style="fill: #2ca02c; fill-opacity: 0.475; stroke: #2ca02c; stroke-opacity: 0.700; stroke-width: 1.00"/>
     <use href="#m2f730badc8" x="176.73913" y="247.282609" style="fill: #2ca02c; fill-opacity: 0.475; stroke: #2ca02c; stroke-opacity: 0.700; stroke-width: 1.00"/>
     <use href="#m2f730badc8" x="180" y="249.23913" style="fill: #2ca02c; fill-opacity: 0.475; stroke: #2ca02c; stroke-opacity: 0.700; stroke-width: 1.00"/>
     <use href="#m2f730badc8" x="180" y="249.23913" style="fill: #2ca02c; fill-opacity: 0.475; stroke: #2ca02c; stroke-opacity: 0.700; stroke-width: 1.00"/>
     <use href="#m2f730badc8" x="172.173913" y="251.195652" style="fill: #2ca02c; fill-opacity: 0.475; stroke: #2ca02c; stroke-opacity: 0.700; stroke-width: 1.00"/>
     <use href="#m2f730badc8" x="190.76087" y="256.413043" style="fill: #2ca02c; fill-opacity: 0.475; stroke: #2ca02c; stroke-opacity: 0.700; stroke-width: 1.00"/>
     <use href="#m2f730badc8" x="190.76087" y="256.413043" style="fill: #2ca02c; fill-opacity: 0.475; stroke: #2ca02c; stroke-opacity: 0.700; stroke-width: 1.00"/>
     <use href="#m2f730badc8" x="173.913043" y="261.630435" style="fill: #2ca02c; fill-opacity: 0.475; stroke: #2ca02c; stroke-opacity: 0.700; stroke-width: 1.00"/>
     <use href="#m2f730badc8" x="187.282609" y="263.586957" style="fill: #2ca02c; fill-opacity: 0.475; stroke: #2ca02c; stroke-opacity: 0.700; stroke-width: 1.00"/>
     <use href="#m2f730badc8" x="189.23913" y="267.5" style="fill: #2ca02c; fill-opacity: 0.475; stroke: #2ca02c; stroke-opacity: 0.700; stroke-width: 1.00"/>
     <use href="#m2f730badc8" x="184.673913" y="270.76087" style="fill: #2ca02c; fill-opacity: 0.475; stroke: #2ca02c; stroke-opacity: 0.700; stroke-width: 1.00"/>
     <use href="#m2f730badc8" x="188.586957" y="275.978261" style="fill: #2ca02c; fill-opacity: 0.475; stroke: #2ca02c; stroke-opacity: 0.700; stroke-width: 1.00"/>
     <use href="#m2f730badc8" x="208.478261" y="256.413043" style="fill: #2ca02c; fill-opacity: 0.475; stroke: #2ca02c; stroke-opacity: 0.700; stroke-width: 1.00"/>
     <use href="#m2f730badc8" x="221.195652" y="255.108696" style="fill: #2ca02c; fill-opacity: 0.475; stroke: #2ca02c; stroke-opacity: 0.700; stroke-width: 1.00"/>
     <use href="#m2f730badc8" x="204.23913" y="270.76087" style="fill: #2ca02c; fill-opacity: 0.475; stroke: #2ca02c; stroke-opacity: 0.700; stroke-width: 1.00"/>
     <use href="#m2f730badc8" x="204.23913" y="270.76087" style="fill: #2ca02c; fill-opacity: 0.475; stroke: #2ca02c; stroke-opacity: 0.700; stroke-width: 1.00"/>
     <use href="#m2f730badc8" x="222.5" y="272.717391" style="fill: #2ca02c; fill-opacity: 0.475; stroke: #2ca02c; stroke-opacity: 0.700; stroke-width: 1.00"/>
     <use href="#m2f730badc8" x="213.369565" y="274.673913" style="fill: #2ca02c; fill-opacity: 0.475; stroke: #2ca02c; stroke-opacity: 0.700; stroke-width: 1.00"/>
     <use href="#m2f730badc8" x="217.282609" y="277.282609" style="fill: #2ca02c; fill-opacity: 0.475; stroke: #2ca02c; stroke-opacity: 0.700; stroke-width: 1.00"/>
     <use href="#m2f730badc8" x="214.673913" y="282.5" style="fill: #2ca02c; fill-opacity: 0.475; stroke: #2ca02c; stroke-opacity: 0.700; stroke-width: 1.00"/>
     <use href="#m2f730badc8" x="215.326087" y="285.76087" style="fill: #2ca02c; fill-opacity: 0.475; stroke: #2ca02c; stroke-opacity: 0.700; stroke-width: 1.00"/>
     <use href="#m2f730badc8" x="215.326087" y="285.76087" style="fill: #2ca02c; fill-opacity: 0.475; stroke: #2ca02c; stroke-opacity: 0.700; stroke-width: 1.00"/>
     <use href="#m2f730badc8" x="230.434783" y="272.717391" style="fill: #2ca02c; fill-opacity: 0.475; stroke: #2ca02c; stroke-opacity: 0.700; stroke-width: 1.00"/>
     <use href="#m2f730badc8" x="230.434783" y="272.717391" style="fill: #2ca02c; fill-opacity: 0.475; stroke: #2ca02c; stroke-opacity: 0.700; stroke-width: 1.00"/>
     <use href="#m2f730badc8" x="235" y="266.847826" style="fill: #2ca02c; fill-opacity: 0.475; stroke: #2ca02c; stroke-opacity: 0.700; stroke-width: 1.00"/>
     <use href="#m2f730badc8" x="230.434783" y="279.891304" style="fill: #2ca02c; fill-opacity: 0.475; stroke: #2ca02c; stroke-opacity: 0.700; stroke-width: 1.00"/>
     <use href="#m2f730badc8" x="230.434783" y="285.108696" style="fill: #2ca02c; fill-opacity: 0.475; stroke: #2ca02c; stroke-opacity: 0.700; stroke-width: 1.00"/>
     <use href="#m2f730badc8" x="221.847826" y="299.23913" style="fill: #2ca02c; fill-opacity: 0.475; stroke: #2ca02c; stroke-opacity: 0.700; stroke-width: 1.00"/>
     <use href="#m2f730badc8" x="227.173913" y="298.913043" style="fill: #2ca02c; fill-opacity: 0.475; stroke: #2ca02c; stroke-opacity: 0.700; stroke-width: 1.00"/>
     <use href="#m2f730badc8" x="260.978261" y="248.586957" style="fill: #2ca02c; fill-opacity: 0.475; stroke: #2ca02c; stroke-opacity: 0.700; stroke-width: 1.00"/>
     <use href="#m2f730badc8" x="247.934783" y="267.065217" style="fill: #2ca02c; fill-opacity: 0.475; stroke: #2ca02c; stroke-opacity: 0.700; stroke-width: 1.00"/>
     <use href="#m2f730badc8" x="247.934783" y="267.065217" style="fill: #2ca02c; fill-opacity: 0.475; stroke: #2ca02c; stroke-opacity: 0.700; stroke-width: 1.00"/>
     <use href="#m2f730badc8" x="250.543478" y="265.76087" style="fill: #2ca02c; fill-opacity: 0.475; stroke: #2ca02c; stroke-opacity: 0.700; stroke-width: 1.00"/>
     <use href="#m2f730badc8" x="243.043478" y="275.108696" style="fill: #2ca02c; fill-opacity: 0.475; stroke: #2ca02c; stroke-opacity: 0.700; stroke-width: 1.00"/>
     <use href="#m2f730badc8" x="243.695652" y="280.217391" style="fill: #2ca02c; fill-opacity: 0.475; stroke: #2ca02c; stroke-opacity: 0.700; stroke-width: 1.00"/>
     <use href="#m2f730badc8" x="277.934783" y="286.73913" style="fill: #2ca02c; fill-opacity: 0.475; stroke: #2ca02c; stroke-opacity: 0.700; stroke-width: 1.00"/>
     <use href="#m2f730badc8" x="266.195652" y="290.434783" style="fill: #2ca02c; fill-opacity: 0.475; stroke: #2ca02c; stroke-opacity: 0.700; stroke-width: 1.00"/>
     <use href="#m2f730badc8" x="284.456522" y="314.456522" style="fill: #2ca02c; fill-opacity: 0.475; stroke: #2ca02c; stroke-opacity: 0.700; stroke-width: 1.00"/>
     <use href="#m2f730badc8" x="284.456522" y="314.456522" style="fill: #2ca02c; fill-opacity: 0.475; stroke: #2ca02c; stroke-opacity: 0.700; stroke-width: 1.00"/>
     <use href="#m2f730badc8" x="306.521739" y="304.565217" style="fill: #2ca02c; fill-opacity: 0.475; stroke: #2ca02c; stroke-opacity: 0.700; stroke-width: 1.00"/>
     <use href="#m2f730badc8" x="320.543478" y="310.434783" style="fill: #2ca02c; fill-opacity: 0.475; stroke: #2ca02c; stroke-opacity: 0.700; stroke-width: 1.00"/>
     <use href="#m2f730badc8" x="323.804348" y="313.043478" style="fill: #2ca02c; fill-opacity: 0.475; stroke: #2ca02c; stroke-opacity: 0.700; stroke-width: 1.00"/>
    </g>
   </g>
   <g id="matplotlib.axis_1">
    <g id="xtick_1">
     <g id="line2d_1">
      <defs>
       <path id="m1504cfccaf" d="M 0 0 
L 0 3.5 
" style="stroke: #000000; stroke-width: 0.8"/>
      </defs>
      <g>
       <use href="#m1504cfccaf" x="68.445971" y="351.413043" style="stroke: #000000; stroke-width: 0.8"/>
      </g>
     </g>
     <g id="text_1">
      <text x="68.446" y="366.011" style="font-size:10.300px;font-family:'Liberation Sans',sans-serif;text-rendering:geometricPrecision;text-anchor:middle" textLength="27.467" lengthAdjust="spacingAndGlyphs">−200</text>
     </g>
    </g>
    <g id="xtick_2">
     <g id="line2d_2">
      <g>
       <use href="#m1504cfccaf" x="130.799803" y="351.413043" style="stroke: #000000; stroke-width: 0.8"/>
      </g>
     </g>
     <g id="text_2">
      <text x="130.800" y="366.011" style="font-size:10.300px;font-family:'Liberation Sans',sans-serif;text-rendering:geometricPrecision;text-anchor:middle" textLength="27.467" lengthAdjust="spacingAndGlyphs">−100</text>
     </g>
    </g>
    <g id="xtick_3">
     <g id="line2d_3">
      <g>
       <use href="#m1504cfccaf" x="193.153636" y="351.413043" style="stroke: #000000; stroke-width: 0.8"/>
      </g>
     </g>
     <g id="text_3">
      <text x="193.154" y="366.011" style="font-size:10.300px;font-family:'Liberation Sans',sans-serif;text-rendering:geometricPrecision;text-anchor:middle" textLength="6.363" lengthAdjust="spacingAndGlyphs">0</text>
     </g>
    </g>
    <g id="xtick_4">
     <g id="line2d_4">
      <g>
       <use href="#m1504cfccaf" x="255.507468" y="351.413043" style="stroke: #000000; stroke-width: 0.8"/>
      </g>
     </g>
     <g id="text_4">
      <text x="255.507" y="366.011" style="font-size:10.300px;font-family:'Liberation Sans',sans-serif;text-rendering:geometricPrecision;text-anchor:middle" textLength="19.088" lengthAdjust="spacingAndGlyphs">100</text>
     </g>
    </g>
    <g id="xtick_5">
     <g id="line2d_5">
      <g>
       <use href="#m1504cfccaf" x="317.8613" y="351.413043" style="stroke: #000000; stroke-width: 0.8"/>
      </g>
     </g>
     <g id="text_5">
      <text x="317.861" y="366.011" style="font-size:10.300px;font-family:'Liberation Sans',sans-serif;text-rendering:geometricPrecision;text-anchor:middle" textLength="19.088" lengthAdjust="spacingAndGlyphs">200</text>
     </g>
    </g>
   </g>
   <g id="matplotlib.axis_2">
    <g id="ytick_1">
     <g id="line2d_6">
      <defs>
       <path id="m5d545ce8f8" d="M 0 0 
L -3.5 0 
" style="stroke: #000000; stroke-width: 0.8"/>
      </defs>
      <g>
       <use href="#m5d545ce8f8" x="40.76087" y="321.210418" style="stroke: #000000; stroke-width: 0.8"/>
      </g>
     </g>
     <g id="text_6">
      <text x="33.761" y="325.010" style="font-size:10.300px;font-family:'Liberation Sans',sans-serif;text-rendering:geometricPrecision;text-anchor:end" textLength="27.467" lengthAdjust="spacingAndGlyphs">−100</text>
     </g>
    </g>
    <g id="ytick_2">
     <g id="line2d_7">
      <g>
       <use href="#m5d545ce8f8" x="40.76087" y="258.549368" style="stroke: #000000; stroke-width: 0.8"/>
      </g>
     </g>
     <g id="text_7">
      <text x="33.761" y="262.349" style="font-size:10.300px;font-family:'Liberation Sans',sans-serif;text-rendering:geometricPrecision;text-anchor:end" textLength="6.363" lengthAdjust="spacingAndGlyphs">0</text>
     </g>
    </g>
    <g id="ytick_3">
     <g id="line2d_8">
      <g>
       <use href="#m5d545ce8f8" x="40.76087" y="195.888319" style="stroke: #000000; stroke-width: 0.8"/>
      </g>
     </g>
     <g id="text_8">
      <text x="33.761" y="199.688" style="font-size:10.300px;font-family:'Liberation Sans',sans-serif;text-rendering:geometricPrecision;text-anchor:end" textLength="19.088" lengthAdjust="spacingAndGlyphs">100</text>
     </g>
    </g>
    <g id="ytick_4">
     <g id="line2d_9">
      <g>
       <use href="#m5d545ce8f8" x="40.76087" y="133.227269" style="stroke: #000000; stroke-width: 0.8"/>
      </g>
     </g>
     <g id="text_9">
      <text x="33.761" y="137.026" style="font-size:10.300px;font-family:'Liberation Sans',sans-serif;text-rendering:geometricPrecision;text-anchor:end" textLength="19.088" lengthAdjust="spacingAndGlyphs">200</text>
     </g>
    </g>
    <g id="ytick_5">
     <g id="line2d_10">
      <g>
       <use href="#m5d545ce8f8" x="40.76087" y="70.566219" style="stroke: #000000; stroke-width: 0.8"/>
      </g>
     </g>
     <g id="text_10">
      <text x="33.761" y="74.365" style="font-size:10.300px;font-family:'Liberation Sans',sans-serif;text-rendering:geometricPrecision;text-anchor:end" textLength="19.088" lengthAdjust="spacingAndGlyphs">300</text>
     </g>
    </g>
   </g>
   <g id="patch_3">
    <path d="M 40.76087 351.413043 
L 40.76087 18.369565 
" style="fill: none; stroke: #000000; stroke-width: 0.8; stroke-linejoin: miter; stroke-linecap: square"/>
   </g>
   <g id="patch_4">
    <path d="M 346.793478 351.413043 
L 346.793478 18.369565 
" style="fill: none; stroke: #000000; stroke-width: 0.8; stroke-linejoin: miter; stroke-linecap: square"/>
   </g>
   <g id="patch_5">
    <path d="M 40.76087 351.413043 
L 346.793478 351.413043 
" style="fill: none; stroke: #000000; stroke-width: 0.8; stroke-linejoin: miter; stroke-linecap: square"/>
   </g>
   <g id="patch_6">
    <path d="M 40.76087 18.369565 
L 346.793478 18.369565 
" style="fill: none; stroke: #000000; stroke-width: 0.8; stroke-linejoin: miter; stroke-linecap: square"/>
   </g>
   <g id="text_11">
    <text x="193.777" y="12.370" style="font-size:12.360px;font-family:'Liberation Sans',sans-serif;text-rendering:geometricPrecision;text-anchor:middle" textLength="23.824" lengthAdjust="spacingAndGlyphs">PCA</text>
   </g>
   <g id="legend_1">
    <g id="patch_7">
     <path d="M 47.76087 70.40394 
L 204.790557 70.40394 
Q 206.790557 70.40394 206.790557 68.40394 
L 206.790557 25.369565 
Q 206.790557 23.369565 204.790557 23.369565 
L 47.76087 23.369565 
Q 45.76087 23.369565 45.76087 25.369565 
L 45.76087 68.40394 
Q 45.76087 70.40394 47.76087 70.40394 
z
" style="fill: #ffffff; opacity: 0.8; stroke: #cccccc; stroke-linejoin: miter"/>
    </g>
    <g id="PathCollection_4">
     <g>
      <use href="#m3ec760572e" x="59.76087" y="32.343003" style="fill: #1f77b4; fill-opacity: 0.475; stroke: #1f77b4; stroke-opacity: 0.700; stroke-width: 1.00"/>
     </g>
    </g>
    <g id="text_12">
     <text x="77.761" y="34.968" style="font-size:10.300px;font-family:'Liberation Sans',sans-serif;text-rendering:geometricPrecision;text-anchor:start" textLength="65.294" lengthAdjust="spacingAndGlyphs">Ground Truth</text>
    </g>
    <g id="PathCollection_5">
     <g>
      <use href="#m0b2cd70437" x="59.76087" y="47.021128" style="fill: #ff7f0e; fill-opacity: 0.475; stroke: #ff7f0e; stroke-opacity: 0.700; stroke-width: 1.00"/>
     </g>
    </g>
    <g id="text_13">
     <text x="77.761" y="49.646" style="font-size:10.300px;font-family:'Liberation Sans',sans-serif;text-rendering:geometricPrecision;text-anchor:start" textLength="53.053" lengthAdjust="spacingAndGlyphs">Generated</text>
    </g>
    <g id="PathCollection_6">
     <g>
      <use href="#m2f730badc8" x="59.76087" y="61.699253" style="fill: #2ca02c; fill-opacity: 0.475; stroke: #2ca02c; stroke-opacity: 0.700; stroke-width: 1.00"/>
     </g>
    </g>
    <g id="text_14">
     <text x="77.761" y="64.324" style="font-size:10.300px;font-family:'Liberation Sans',sans-serif;text-rendering:geometricPrecision;text-anchor:start" textLength="125.030" lengthAdjust="spacingAndGlyphs">Unconditional Generated</text>
    </g>
   </g>
  </g>
  <g id="axes_2">
   <g id="patch_8">
    <path d="M 407.173913 351.413043 
L 713.108696 351.413043 
L 713.108696 18.369565 
L 407.173913 18.369565 
z
" style="fill: #ffffff"/>
   </g>
   <g id="PathCollection_7">
    <g clip-path="url(#pc8015aed4d)">
     <use href="#m3ec760572e" x="462.934783" y="85.108696" style="fill: #1f77b4; fill-opacity: 0.475; stroke: #1f77b4; stroke-opacity: 0.700; stroke-width: 1.00"/>
     <use href="#m3ec760572e" x="462.934783" y="85.108696" style="fill: #1f77b4; fill-opacity: 0.475; stroke: #1f77b4; stroke-opacity: 0.700; stroke-width: 1.00"/>
     <use href="#m3ec760572e" x="460.76087" y="93.369565" style="fill: #1f77b4; fill-opacity: 0.475; stroke: #1f77b4; stroke-opacity: 0.700; stroke-width: 1.00"/>
     <use href="#m3ec760572e" x="516.304348" y="90.217391" style="fill: #1f77b4; fill-opacity: 0.475; stroke: #1f77b4; stroke-opacity: 0.700; stroke-width: 1.00"/>
     <use href="#m3ec760572e" x="484.891304" y="116.413043" style="fill: #1f77b4; fill-opacity: 0.475; stroke: #1f77b4; stroke-opacity: 0.700; stroke-width: 1.00"/>
     <use href="#m3ec760572e" x="507.5" y="112.5" style="fill: #1f77b4; fill-opacity: 0.475; stroke: #1f77b4; stroke-opacity: 0.700; stroke-width: 1.00"/>
     <use href="#m3ec760572e" x="543.586957" y="40" style="fill: #1f77b4; fill-opacity: 0.475; stroke: #1f77b4; stroke-opacity: 0.700; stroke-width: 1.00"/>
     <use href="#m3ec760572e" x="549.021739" y="40.543478" style="fill: #1f77b4; fill-opacity: 0.475; stroke: #1f77b4; stroke-opacity: 0.700; stroke-width: 1.00"/>
     <use href="#m3ec760572e" x="572.065217" y="87.608696" style="fill: #1f77b4; fill-opacity: 0.475; stroke: #1f77b4; stroke-opacity: 0.700; stroke-width: 1.00"/>
     <use href="#m3ec760572e" x="595.978261" y="67.391304" style="fill: #1f77b4; fill-opacity: 0.475; stroke: #1f77b4; stroke-opacity: 0.700; stroke-width: 1.00"/>
     <use href="#m3ec760572e" x="614.782609" y="89.021739" style="fill: #1f77b4; fill-opacity: 0.475; stroke: #1f77b4; stroke-opacity: 0.700; stroke-width: 1.00"/>
     <use href="#m3ec760572e" x="532.826087" y="105.652174" style="fill: #1f77b4; fill-opacity: 0.475; stroke: #1f77b4; stroke-opacity: 0.700; stroke-width: 1.00"/>
     <use href="#m3ec760572e" x="561.195652" y="105.108696" style="fill: #1f77b4; fill-opacity: 0.475; stroke: #1f77b4; stroke-opacity: 0.700; stroke-width: 1.00"/>
     <use href="#m3ec760572e" x="588.695652" y="107.608696" style="fill: #1f77b4; fill-opacity: 0.475; stroke: #1f77b4; stroke-opacity: 0.700; stroke-width: 1.00"/>
     <use href="#m3ec760572e" x="613.586957" y="113.152174" style="fill: #1f77b4; fill-opacity: 0.475; stroke: #1f77b4; stroke-opacity: 0.700; stroke-width: 1.00"/>
     <use href="#m3ec760572e" x="546.521739" y="125.326087" style="fill: #1f77b4; fill-opacity: 0.475; stroke: #1f77b4; stroke-opacity: 0.700; stroke-width: 1.00"/>
     <use href="#m3ec760572e" x="567.065217" y="124.347826" style="fill: #1f77b4; fill-opacity: 0.475; stroke: #1f77b4; stroke-opacity: 0.700; stroke-width: 1.00"/>
     <use href="#m3ec760572e" x="634.565217" y="66.086957" style="fill: #1f77b4; fill-opacity: 0.475; stroke: #1f77b4; stroke-opacity: 0.700; stroke-width: 1.00"/>
     <use href="#m3ec760572e" x="641.086957" y="72.934783" style="fill: #1f77b4; fill-opacity: 0.475; stroke: #1f77b4; stroke-opacity: 0.700; stroke-width: 1.00"/>
     <use href="#m3ec760572e" x="653.695652" y="102.717391" style="fill: #1f77b4; fill-opacity: 0.475; stroke: #1f77b4; stroke-opacity: 0.700; stroke-width: 1.00"/>
     <use href="#m3ec760572e" x="639.130435" y="114.130435" style="fill: #1f77b4; fill-opacity: 0.475; stroke: #1f77b4; stroke-opacity: 0.700; stroke-width: 1.00"/>
     <use href="#m3ec760572e" x="420.76087" y="161.956522" style="fill: #1f77b4; fill-opacity: 0.475; stroke: #1f77b4; stroke-opacity: 0.700; stroke-width: 1.00"/>
     <use href="#m3ec760572e" x="426.086957" y="158.043478" style="fill: #1f77b4; fill-opacity: 0.475; stroke: #1f77b4; stroke-opacity: 0.700; stroke-width: 1.00"/>
     <use href="#m3ec760572e" x="467.608696" y="148.26087" style="fill: #1f77b4; fill-opacity: 0.475; stroke: #1f77b4; stroke-opacity: 0.700; stroke-width: 1.00"/>
     <use href="#m3ec760572e" x="477.065217" y="142.391304" style="fill: #1f77b4; fill-opacity: 0.475; stroke: #1f77b4; stroke-opacity: 0.700; stroke-width: 1.00"/>
     <use href="#m3ec760572e" x="495.652174" y="136.956522" style="fill: #1f77b4; fill-opacity: 0.475; stroke: #1f77b4; stroke-opacity: 0.700; stroke-width: 1.00"/>
     <use href="#m3ec760572e" x="503.152174" y="156.956522" style="fill: #1f77b4; fill-opacity: 0.475; stroke: #1f77b4; stroke-opacity: 0.700; stroke-width: 1.00"/>
     <use href="#m3ec760572e" x="489.456522" y="158.043478" style="fill: #1f77b4; fill-opacity: 0.475; stroke: #1f77b4; stroke-opacity: 0.700; stroke-width: 1.00"/>
     <use href="#m3ec760572e" x="474.130435" y="170.652174" style="fill: #1f77b4; fill-opacity: 0.475; stroke: #1f77b4; stroke-opacity: 0.700; stroke-width: 1.00"/>
     <use href="#m3ec760572e" x="491.195652" y="168.913043" style="fill: #1f77b4; fill-opacity: 0.475; stroke: #1f77b4; stroke-opacity: 0.700; stroke-width: 1.00"/>
     <use href="#m3ec760572e" x="489.456522" y="188.478261" style="fill: #1f77b4; fill-opacity: 0.475; stroke: #1f77b4; stroke-opacity: 0.700; stroke-width: 1.00"/>
     <use href="#m3ec760572e" x="500.978261" y="182.608696" style="fill: #1f77b4; fill-opacity: 0.475; stroke: #1f77b4; stroke-opacity: 0.700; stroke-width: 1.00"/>
     <use href="#m3ec760572e" x="482.934783" y="205.543478" style="fill: #1f77b4; fill-opacity: 0.475; stroke: #1f77b4; stroke-opacity: 0.700; stroke-width: 1.00"/>
     <use href="#m3ec760572e" x="440.326087" y="212.065217" style="fill: #1f77b4; fill-opacity: 0.475; stroke: #1f77b4; stroke-opacity: 0.700; stroke-width: 1.00"/>
     <use href="#m3ec760572e" x="447.065217" y="212.065217" style="fill: #1f77b4; fill-opacity: 0.475; stroke: #1f77b4; stroke-opacity: 0.700; stroke-width: 1.00"/>
     <use href="#m3ec760572e" x="567.608696" y="142.065217" style="fill: #1f77b4; fill-opacity: 0.475; stroke: #1f77b4; stroke-opacity: 0.700; stroke-width: 1.00"/>
     <use href="#m3ec760572e" x="582.173913" y="138.043478" style="fill: #1f77b4; fill-opacity: 0.475; stroke: #1f77b4; stroke-opacity: 0.700; stroke-width: 1.00"/>
     <use href="#m3ec760572e" x="613.369565" y="140.108696" style="fill: #1f77b4; fill-opacity: 0.475; stroke: #1f77b4; stroke-opacity: 0.700; stroke-width: 1.00"/>
     <use href="#m3ec760572e" x="600.434783" y="148.913043" style="fill: #1f77b4; fill-opacity: 0.475; stroke: #1f77b4; stroke-opacity: 0.700; stroke-width: 1.00"/>
     <use href="#m3ec760572e" x="585.978261" y="151.73913" style="fill: #1f77b4; fill-opacity: 0.475; stroke: #1f77b4; stroke-opacity: 0.700; stroke-width: 1.00"/>
     <use href="#m3ec760572e" x="608.478261" y="165.543478" style="fill: #1f77b4; fill-opacity: 0.475; stroke: #1f77b4; stroke-opacity: 0.700; stroke-width: 1.00"/>
     <use href="#m3ec760572e" x="620.434783" y="160.978261" style="fill: #1f77b4; fill-opacity: 0.475; stroke: #1f77b4; stroke-opacity: 0.700; stroke-width: 1.00"/>
     <use href="#m3ec760572e" x="597.065217" y="177.5" style="fill: #1f77b4; fill-opacity: 0.475; stroke: #1f77b4; stroke-opacity: 0.700; stroke-width: 1.00"/>
     <use href="#m3ec760572e" x="610.76087" y="177.5" style="fill: #1f77b4; fill-opacity: 0.475; stroke: #1f77b4; stroke-opacity: 0.700; stroke-width: 1.00"/>
     <use href="#m3ec760572e" x="596.413043" y="189.565217" style="fill: #1f77b4; fill-opacity: 0.475; stroke: #1f77b4; stroke-opacity: 0.700; stroke-width: 1.00"/>
     <use href="#m3ec760572e" x="615.326087" y="194.673913" style="fill: #1f77b4; fill-opacity: 0.475; stroke: #1f77b4; stroke-opacity: 0.700; stroke-width: 1.00"/>
     <use href="#m3ec760572e" x="587.282609" y="206.73913" style="fill: #1f77b4; fill-opacity: 0.475; stroke: #1f77b4; stroke-opacity: 0.700; stroke-width: 1.00"/>
     <use href="#m3ec760572e" x="600.978261" y="210.978261" style="fill: #1f77b4; fill-opacity: 0.475; stroke: #1f77b4; stroke-opacity: 0.700; stroke-width: 1.00"/>
     <use href="#m3ec760572e" x="611.521739" y="218.695652" style="fill: #1f77b4; fill-opacity: 0.475; stroke: #1f77b4; stroke-opacity: 0.700; stroke-width: 1.00"/>
     <use href="#m3ec760572e" x="585" y="229.565217" style="fill: #1f77b4; fill-opacity: 0.475; stroke: #1f77b4; stroke-opacity: 0.700; stroke-width: 1.00"/>
     <use href="#m3ec760572e" x="591.847826" y="226.73913" style="fill: #1f77b4; fill-opacity: 0.475; stroke: #1f77b4; stroke-opacity: 0.700; stroke-width: 1.00"/>
     <use href="#m3ec760572e" x="614.23913" y="230.76087" style="fill: #1f77b4; fill-opacity: 0.475; stroke: #1f77b4; stroke-opacity: 0.700; stroke-width: 1.00"/>
     <use href="#m3ec760572e" x="677.173913" y="133.586957" style="fill: #1f77b4; fill-opacity: 0.475; stroke: #1f77b4; stroke-opacity: 0.700; stroke-width: 1.00"/>
     <use href="#m3ec760572e" x="684.021739" y="135.543478" style="fill: #1f77b4; fill-opacity: 0.475; stroke: #1f77b4; stroke-opacity: 0.700; stroke-width: 1.00"/>
     <use href="#m3ec760572e" x="630.652174" y="144.130435" style="fill: #1f77b4; fill-opacity: 0.475; stroke: #1f77b4; stroke-opacity: 0.700; stroke-width: 1.00"/>
     <use href="#m3ec760572e" x="646.73913" y="150.652174" style="fill: #1f77b4; fill-opacity: 0.475; stroke: #1f77b4; stroke-opacity: 0.700; stroke-width: 1.00"/>
     <use href="#m3ec760572e" x="630.326087" y="156.521739" style="fill: #1f77b4; fill-opacity: 0.475; stroke: #1f77b4; stroke-opacity: 0.700; stroke-width: 1.00"/>
     <use href="#m3ec760572e" x="671.521739" y="172.608696" style="fill: #1f77b4; fill-opacity: 0.475; stroke: #1f77b4; stroke-opacity: 0.700; stroke-width: 1.00"/>
     <use href="#m3ec760572e" x="641.847826" y="177.065217" style="fill: #1f77b4; fill-opacity: 0.475; stroke: #1f77b4; stroke-opacity: 0.700; stroke-width: 1.00"/>
     <use href="#m3ec760572e" x="621.847826" y="185" style="fill: #1f77b4; fill-opacity: 0.475; stroke: #1f77b4; stroke-opacity: 0.700; stroke-width: 1.00"/>
     <use href="#m3ec760572e" x="632.065217" y="185.978261" style="fill: #1f77b4; fill-opacity: 0.475; stroke: #1f77b4; stroke-opacity: 0.700; stroke-width: 1.00"/>
     <use href="#m3ec760572e" x="622.826087" y="206.956522" style="fill: #1f77b4; fill-opacity: 0.475; stroke: #1f77b4; stroke-opacity: 0.700; stroke-width: 1.00"/>
     <use href="#m3ec760572e" x="636.195652" y="208.913043" style="fill: #1f77b4; fill-opacity: 0.475; stroke: #1f77b4; stroke-opacity: 0.700; stroke-width: 1.00"/>
     <use href="#m3ec760572e" x="694.782609" y="200.652174" style="fill: #1f77b4; fill-opacity: 0.475; stroke: #1f77b4; stroke-opacity: 0.700; stroke-width: 1.00"/>
     <use href="#m3ec760572e" x="694.782609" y="200.652174" style="fill: #1f77b4; fill-opacity: 0.475; stroke: #1f77b4; stroke-opacity: 0.700; stroke-width: 1.00"/>
     <use href="#m3ec760572e" x="655.217391" y="216.956522" style="fill: #1f77b4; fill-opacity: 0.475; stroke: #1f77b4; stroke-opacity: 0.700; stroke-width: 1.00"/>
     <use href="#m3ec760572e" x="630.326087" y="233.043478" style="fill: #1f77b4; fill-opacity: 0.475; stroke: #1f77b4; stroke-opacity: 0.700; stroke-width: 1.00"/>
     <use href="#m3ec760572e" x="645.434783" y="230.108696" style="fill: #1f77b4; fill-opacity: 0.475; stroke: #1f77b4; stroke-opacity: 0.700; stroke-width: 1.00"/>
     <use href="#m3ec760572e" x="481.521739" y="244.021739" style="fill: #1f77b4; fill-opacity: 0.475; stroke: #1f77b4; stroke-opacity: 0.700; stroke-width: 1.00"/>
     <use href="#m3ec760572e" x="476.086957" y="247.934783" style="fill: #1f77b4; fill-opacity: 0.475; stroke: #1f77b4; stroke-opacity: 0.700; stroke-width: 1.00"/>
     <use href="#m3ec760572e" x="447.065217" y="263.804348" style="fill: #1f77b4; fill-opacity: 0.475; stroke: #1f77b4; stroke-opacity: 0.700; stroke-width: 1.00"/>
     <use href="#m3ec760572e" x="446.630435" y="270.543478" style="fill: #1f77b4; fill-opacity: 0.475; stroke: #1f77b4; stroke-opacity: 0.700; stroke-width: 1.00"/>
     <use href="#m3ec760572e" x="495.326087" y="281.304348" style="fill: #1f77b4; fill-opacity: 0.475; stroke: #1f77b4; stroke-opacity: 0.700; stroke-width: 1.00"/>
     <use href="#m3ec760572e" x="598.478261" y="242.065217" style="fill: #1f77b4; fill-opacity: 0.475; stroke: #1f77b4; stroke-opacity: 0.700; stroke-width: 1.00"/>
     <use href="#m3ec760572e" x="612.826087" y="254.782609" style="fill: #1f77b4; fill-opacity: 0.475; stroke: #1f77b4; stroke-opacity: 0.700; stroke-width: 1.00"/>
     <use href="#m3ec760572e" x="593.152174" y="272.5" style="fill: #1f77b4; fill-opacity: 0.475; stroke: #1f77b4; stroke-opacity: 0.700; stroke-width: 1.00"/>
     <use href="#m3ec760572e" x="575.326087" y="301.086957" style="fill: #1f77b4; fill-opacity: 0.475; stroke: #1f77b4; stroke-opacity: 0.700; stroke-width: 1.00"/>
     <use href="#m3ec760572e" x="587.717391" y="305.76087" style="fill: #1f77b4; fill-opacity: 0.475; stroke: #1f77b4; stroke-opacity: 0.700; stroke-width: 1.00"/>
     <use href="#m3ec760572e" x="577.282609" y="314.782609" style="fill: #1f77b4; fill-opacity: 0.475; stroke: #1f77b4; stroke-opacity: 0.700; stroke-width: 1.00"/>
     <use href="#m3ec760572e" x="616.195652" y="329.347826" style="fill: #1f77b4; fill-opacity: 0.475; stroke: #1f77b4; stroke-opacity: 0.700; stroke-width: 1.00"/>
     <use href="#m3ec760572e" x="622.065217" y="328.913043" style="fill: #1f77b4; fill-opacity: 0.475; stroke: #1f77b4; stroke-opacity: 0.700; stroke-width: 1.00"/>
     <use href="#m3ec760572e" x="631.630435" y="245.543478" style="fill: #1f77b4; fill-opacity: 0.475; stroke: #1f77b4; stroke-opacity: 0.700; stroke-width: 1.00"/>
     <use href="#m3ec760572e" x="641.521739" y="247.608696" style="fill: #1f77b4; fill-opacity: 0.475; stroke: #1f77b4; stroke-opacity: 0.700; stroke-width: 1.00"/>
     <use href="#m3ec760572e" x="639.891304" y="266.630435" style="fill: #1f77b4; fill-opacity: 0.475; stroke: #1f77b4; stroke-opacity: 0.700; stroke-width: 1.00"/>
     <use href="#m3ec760572e" x="639.565217" y="297.173913" style="fill: #1f77b4; fill-opacity: 0.475; stroke: #1f77b4; stroke-opacity: 0.700; stroke-width: 1.00"/>
    </g>
   </g>
   <g id="PathCollection_8">
    <g clip-path="url(#pc8015aed4d)">
     <use href="#m0b2cd70437" x="455.434783" y="86.630435" style="fill: #ff7f0e; fill-opacity: 0.475; stroke: #ff7f0e; stroke-opacity: 0.700; stroke-width: 1.00"/>
     <use href="#m0b2cd70437" x="455.434783" y="86.630435" style="fill: #ff7f0e; fill-opacity: 0.475; stroke: #ff7f0e; stroke-opacity: 0.700; stroke-width: 1.00"/>
     <use href="#m0b2cd70437" x="512.934783" y="88.369565" style="fill: #ff7f0e; fill-opacity: 0.475; stroke: #ff7f0e; stroke-opacity: 0.700; stroke-width: 1.00"/>
     <use href="#m0b2cd70437" x="484.891304" y="112.5" style="fill: #ff7f0e; fill-opacity: 0.475; stroke: #ff7f0e; stroke-opacity: 0.700; stroke-width: 1.00"/>
     <use href="#m0b2cd70437" x="504.456522" y="112.5" style="fill: #ff7f0e; fill-opacity: 0.475; stroke: #ff7f0e; stroke-opacity: 0.700; stroke-width: 1.00"/>
     <use href="#m0b2cd70437" x="544.565217" y="33.152174" style="fill: #ff7f0e; fill-opacity: 0.475; stroke: #ff7f0e; stroke-opacity: 0.700; stroke-width: 1.00"/>
     <use href="#m0b2cd70437" x="549.456522" y="33.695652" style="fill: #ff7f0e; fill-opacity: 0.475; stroke: #ff7f0e; stroke-opacity: 0.700; stroke-width: 1.00"/>
     <use href="#m0b2cd70437" x="570" y="84.673913" style="fill: #ff7f0e; fill-opacity: 0.475; stroke: #ff7f0e; stroke-opacity: 0.700; stroke-width: 1.00"/>
     <use href="#m0b2cd70437" x="594.565217" y="64.891304" style="fill: #ff7f0e; fill-opacity: 0.475; stroke: #ff7f0e; stroke-opacity: 0.700; stroke-width: 1.00"/>
     <use href="#m0b2cd70437" x="611.847826" y="87.608696" style="fill: #ff7f0e; fill-opacity: 0.475; stroke: #ff7f0e; stroke-opacity: 0.700; stroke-width: 1.00"/>
     <use href="#m0b2cd70437" x="536.086957" y="107.065217" style="fill: #ff7f0e; fill-opacity: 0.475; stroke: #ff7f0e; stroke-opacity: 0.700; stroke-width: 1.00"/>
     <use href="#m0b2cd70437" x="558.26087" y="106.086957" style="fill: #ff7f0e; fill-opacity: 0.475; stroke: #ff7f0e; stroke-opacity: 0.700; stroke-width: 1.00"/>
     <use href="#m0b2cd70437" x="588.695652" y="103.695652" style="fill: #ff7f0e; fill-opacity: 0.475; stroke: #ff7f0e; stroke-opacity: 0.700; stroke-width: 1.00"/>
     <use href="#m0b2cd70437" x="610.217391" y="114.456522" style="fill: #ff7f0e; fill-opacity: 0.475; stroke: #ff7f0e; stroke-opacity: 0.700; stroke-width: 1.00"/>
     <use href="#m0b2cd70437" x="548.478261" y="127.173913" style="fill: #ff7f0e; fill-opacity: 0.475; stroke: #ff7f0e; stroke-opacity: 0.700; stroke-width: 1.00"/>
     <use href="#m0b2cd70437" x="570.652174" y="122.391304" style="fill: #ff7f0e; fill-opacity: 0.475; stroke: #ff7f0e; stroke-opacity: 0.700; stroke-width: 1.00"/>
     <use href="#m0b2cd70437" x="637.608696" y="62.5" style="fill: #ff7f0e; fill-opacity: 0.475; stroke: #ff7f0e; stroke-opacity: 0.700; stroke-width: 1.00"/>
     <use href="#m0b2cd70437" x="644.021739" y="69.021739" style="fill: #ff7f0e; fill-opacity: 0.475; stroke: #ff7f0e; stroke-opacity: 0.700; stroke-width: 1.00"/>
     <use href="#m0b2cd70437" x="652.826087" y="98.369565" style="fill: #ff7f0e; fill-opacity: 0.475; stroke: #ff7f0e; stroke-opacity: 0.700; stroke-width: 1.00"/>
     <use href="#m0b2cd70437" x="637.608696" y="110.217391" style="fill: #ff7f0e; fill-opacity: 0.475; stroke: #ff7f0e; stroke-opacity: 0.700; stroke-width: 1.00"/>
     <use href="#m0b2cd70437" x="429.347826" y="163.369565" style="fill: #ff7f0e; fill-opacity: 0.475; stroke: #ff7f0e; stroke-opacity: 0.700; stroke-width: 1.00"/>
     <use href="#m0b2cd70437" x="424.673913" y="166.956522" style="fill: #ff7f0e; fill-opacity: 0.475; stroke: #ff7f0e; stroke-opacity: 0.700; stroke-width: 1.00"/>
     <use href="#m0b2cd70437" x="464.347826" y="145.326087" style="fill: #ff7f0e; fill-opacity: 0.475; stroke: #ff7f0e; stroke-opacity: 0.700; stroke-width: 1.00"/>
     <use href="#m0b2cd70437" x="475.108696" y="138.478261" style="fill: #ff7f0e; fill-opacity: 0.475; stroke: #ff7f0e; stroke-opacity: 0.700; stroke-width: 1.00"/>
     <use href="#m0b2cd70437" x="499.565217" y="137.282609" style="fill: #ff7f0e; fill-opacity: 0.475; stroke: #ff7f0e; stroke-opacity: 0.700; stroke-width: 1.00"/>
     <use href="#m0b2cd70437" x="500.217391" y="153.586957" style="fill: #ff7f0e; fill-opacity: 0.475; stroke: #ff7f0e; stroke-opacity: 0.700; stroke-width: 1.00"/>
     <use href="#m0b2cd70437" x="484.891304" y="159.891304" style="fill: #ff7f0e; fill-opacity: 0.475; stroke: #ff7f0e; stroke-opacity: 0.700; stroke-width: 1.00"/>
     <use href="#m0b2cd70437" x="470.76087" y="172.826087" style="fill: #ff7f0e; fill-opacity: 0.475; stroke: #ff7f0e; stroke-opacity: 0.700; stroke-width: 1.00"/>
     <use href="#m0b2cd70437" x="486.847826" y="170.652174" style="fill: #ff7f0e; fill-opacity: 0.475; stroke: #ff7f0e; stroke-opacity: 0.700; stroke-width: 1.00"/>
     <use href="#m0b2cd70437" x="486.304348" y="186.304348" style="fill: #ff7f0e; fill-opacity: 0.475; stroke: #ff7f0e; stroke-opacity: 0.700; stroke-width: 1.00"/>
     <use href="#m0b2cd70437" x="500.217391" y="186.304348" style="fill: #ff7f0e; fill-opacity: 0.475; stroke: #ff7f0e; stroke-opacity: 0.700; stroke-width: 1.00"/>
     <use href="#m0b2cd70437" x="479.021739" y="205" style="fill: #ff7f0e; fill-opacity: 0.475; stroke: #ff7f0e; stroke-opacity: 0.700; stroke-width: 1.00"/>
     <use href="#m0b2cd70437" x="443.26087" y="205.543478" style="fill: #ff7f0e; fill-opacity: 0.475; stroke: #ff7f0e; stroke-opacity: 0.700; stroke-width: 1.00"/>
     <use href="#m0b2cd70437" x="443.26087" y="205.543478" style="fill: #ff7f0e; fill-opacity: 0.475; stroke: #ff7f0e; stroke-opacity: 0.700; stroke-width: 1.00"/>
     <use href="#m0b2cd70437" x="567.608696" y="145.869565" style="fill: #ff7f0e; fill-opacity: 0.475; stroke: #ff7f0e; stroke-opacity: 0.700; stroke-width: 1.00"/>
     <use href="#m0b2cd70437" x="585" y="135.76087" style="fill: #ff7f0e; fill-opacity: 0.475; stroke: #ff7f0e; stroke-opacity: 0.700; stroke-width: 1.00"/>
     <use href="#m0b2cd70437" x="614.23913" y="143.804348" style="fill: #ff7f0e; fill-opacity: 0.475; stroke: #ff7f0e; stroke-opacity: 0.700; stroke-width: 1.00"/>
     <use href="#m0b2cd70437" x="600.434783" y="144.891304" style="fill: #ff7f0e; fill-opacity: 0.475; stroke: #ff7f0e; stroke-opacity: 0.700; stroke-width: 1.00"/>
     <use href="#m0b2cd70437" x="582.717391" y="152.391304" style="fill: #ff7f0e; fill-opacity: 0.475; stroke: #ff7f0e; stroke-opacity: 0.700; stroke-width: 1.00"/>
     <use href="#m0b2cd70437" x="605.652174" y="165.543478" style="fill: #ff7f0e; fill-opacity: 0.475; stroke: #ff7f0e; stroke-opacity: 0.700; stroke-width: 1.00"/>
     <use href="#m0b2cd70437" x="622.717391" y="165.543478" style="fill: #ff7f0e; fill-opacity: 0.475; stroke: #ff7f0e; stroke-opacity: 0.700; stroke-width: 1.00"/>
     <use href="#m0b2cd70437" x="593.586957" y="174.130435" style="fill: #ff7f0e; fill-opacity: 0.475; stroke: #ff7f0e; stroke-opacity: 0.700; stroke-width: 1.00"/>
     <use href="#m0b2cd70437" x="609.021739" y="180.326087" style="fill: #ff7f0e; fill-opacity: 0.475; stroke: #ff7f0e; stroke-opacity: 0.700; stroke-width: 1.00"/>
     <use href="#m0b2cd70437" x="599.891304" y="191.195652" style="fill: #ff7f0e; fill-opacity: 0.475; stroke: #ff7f0e; stroke-opacity: 0.700; stroke-width: 1.00"/>
     <use href="#m0b2cd70437" x="614.23913" y="198.695652" style="fill: #ff7f0e; fill-opacity: 0.475; stroke: #ff7f0e; stroke-opacity: 0.700; stroke-width: 1.00"/>
     <use href="#m0b2cd70437" x="587.282609" y="210.978261" style="fill: #ff7f0e; fill-opacity: 0.475; stroke: #ff7f0e; stroke-opacity: 0.700; stroke-width: 1.00"/>
     <use href="#m0b2cd70437" x="600.434783" y="207.282609" style="fill: #ff7f0e; fill-opacity: 0.475; stroke: #ff7f0e; stroke-opacity: 0.700; stroke-width: 1.00"/>
     <use href="#m0b2cd70437" x="614.782609" y="216.956522" style="fill: #ff7f0e; fill-opacity: 0.475; stroke: #ff7f0e; stroke-opacity: 0.700; stroke-width: 1.00"/>
     <use href="#m0b2cd70437" x="594.782609" y="230.108696" style="fill: #ff7f0e; fill-opacity: 0.475; stroke: #ff7f0e; stroke-opacity: 0.700; stroke-width: 1.00"/>
     <use href="#m0b2cd70437" x="587.282609" y="234.673913" style="fill: #ff7f0e; fill-opacity: 0.475; stroke: #ff7f0e; stroke-opacity: 0.700; stroke-width: 1.00"/>
     <use href="#m0b2cd70437" x="610.217391" y="232.391304" style="fill: #ff7f0e; fill-opacity: 0.475; stroke: #ff7f0e; stroke-opacity: 0.700; stroke-width: 1.00"/>
     <use href="#m0b2cd70437" x="682.717391" y="129.021739" style="fill: #ff7f0e; fill-opacity: 0.475; stroke: #ff7f0e; stroke-opacity: 0.700; stroke-width: 1.00"/>
     <use href="#m0b2cd70437" x="682.717391" y="129.021739" style="fill: #ff7f0e; fill-opacity: 0.475; stroke: #ff7f0e; stroke-opacity: 0.700; stroke-width: 1.00"/>
     <use href="#m0b2cd70437" x="632.065217" y="138.913043" style="fill: #ff7f0e; fill-opacity: 0.475; stroke: #ff7f0e; stroke-opacity: 0.700; stroke-width: 1.00"/>
     <use href="#m0b2cd70437" x="645.978261" y="155.543478" style="fill: #ff7f0e; fill-opacity: 0.475; stroke: #ff7f0e; stroke-opacity: 0.700; stroke-width: 1.00"/>
     <use href="#m0b2cd70437" x="632.065217" y="160.869565" style="fill: #ff7f0e; fill-opacity: 0.475; stroke: #ff7f0e; stroke-opacity: 0.700; stroke-width: 1.00"/>
     <use href="#m0b2cd70437" x="670.869565" y="176.73913" style="fill: #ff7f0e; fill-opacity: 0.475; stroke: #ff7f0e; stroke-opacity: 0.700; stroke-width: 1.00"/>
     <use href="#m0b2cd70437" x="644.021739" y="180.978261" style="fill: #ff7f0e; fill-opacity: 0.475; stroke: #ff7f0e; stroke-opacity: 0.700; stroke-width: 1.00"/>
     <use href="#m0b2cd70437" x="624.456522" y="181.413043" style="fill: #ff7f0e; fill-opacity: 0.475; stroke: #ff7f0e; stroke-opacity: 0.700; stroke-width: 1.00"/>
     <use href="#m0b2cd70437" x="630.326087" y="190.434783" style="fill: #ff7f0e; fill-opacity: 0.475; stroke: #ff7f0e; stroke-opacity: 0.700; stroke-width: 1.00"/>
     <use href="#m0b2cd70437" x="625.217391" y="202.608696" style="fill: #ff7f0e; fill-opacity: 0.475; stroke: #ff7f0e; stroke-opacity: 0.700; stroke-width: 1.00"/>
     <use href="#m0b2cd70437" x="639.130435" y="205.543478" style="fill: #ff7f0e; fill-opacity: 0.475; stroke: #ff7f0e; stroke-opacity: 0.700; stroke-width: 1.00"/>
     <use href="#m0b2cd70437" x="699.347826" y="196.304348" style="fill: #ff7f0e; fill-opacity: 0.475; stroke: #ff7f0e; stroke-opacity: 0.700; stroke-width: 1.00"/>
     <use href="#m0b2cd70437" x="699.347826" y="196.304348" style="fill: #ff7f0e; fill-opacity: 0.475; stroke: #ff7f0e; stroke-opacity: 0.700; stroke-width: 1.00"/>
     <use href="#m0b2cd70437" x="657.717391" y="219.23913" style="fill: #ff7f0e; fill-opacity: 0.475; stroke: #ff7f0e; stroke-opacity: 0.700; stroke-width: 1.00"/>
     <use href="#m0b2cd70437" x="626.413043" y="233.586957" style="fill: #ff7f0e; fill-opacity: 0.475; stroke: #ff7f0e; stroke-opacity: 0.700; stroke-width: 1.00"/>
     <use href="#m0b2cd70437" x="648.695652" y="233.586957" style="fill: #ff7f0e; fill-opacity: 0.475; stroke: #ff7f0e; stroke-opacity: 0.700; stroke-width: 1.00"/>
     <use href="#m0b2cd70437" x="476.086957" y="240.326087" style="fill: #ff7f0e; fill-opacity: 0.475; stroke: #ff7f0e; stroke-opacity: 0.700; stroke-width: 1.00"/>
     <use href="#m0b2cd70437" x="476.086957" y="240.326087" style="fill: #ff7f0e; fill-opacity: 0.475; stroke: #ff7f0e; stroke-opacity: 0.700; stroke-width: 1.00"/>
     <use href="#m0b2cd70437" x="441.195652" y="263.804348" style="fill: #ff7f0e; fill-opacity: 0.475; stroke: #ff7f0e; stroke-opacity: 0.700; stroke-width: 1.00"/>
     <use href="#m0b2cd70437" x="441.195652" y="270.108696" style="fill: #ff7f0e; fill-opacity: 0.475; stroke: #ff7f0e; stroke-opacity: 0.700; stroke-width: 1.00"/>
     <use href="#m0b2cd70437" x="495.652174" y="285.76087" style="fill: #ff7f0e; fill-opacity: 0.475; stroke: #ff7f0e; stroke-opacity: 0.700; stroke-width: 1.00"/>
     <use href="#m0b2cd70437" x="594.130435" y="244.565217" style="fill: #ff7f0e; fill-opacity: 0.475; stroke: #ff7f0e; stroke-opacity: 0.700; stroke-width: 1.00"/>
     <use href="#m0b2cd70437" x="611.847826" y="258.695652" style="fill: #ff7f0e; fill-opacity: 0.475; stroke: #ff7f0e; stroke-opacity: 0.700; stroke-width: 1.00"/>
     <use href="#m0b2cd70437" x="590.652174" y="275.978261" style="fill: #ff7f0e; fill-opacity: 0.475; stroke: #ff7f0e; stroke-opacity: 0.700; stroke-width: 1.00"/>
     <use href="#m0b2cd70437" x="571.195652" y="303.478261" style="fill: #ff7f0e; fill-opacity: 0.475; stroke: #ff7f0e; stroke-opacity: 0.700; stroke-width: 1.00"/>
     <use href="#m0b2cd70437" x="586.73913" y="301.521739" style="fill: #ff7f0e; fill-opacity: 0.475; stroke: #ff7f0e; stroke-opacity: 0.700; stroke-width: 1.00"/>
     <use href="#m0b2cd70437" x="572.065217" y="314.23913" style="fill: #ff7f0e; fill-opacity: 0.475; stroke: #ff7f0e; stroke-opacity: 0.700; stroke-width: 1.00"/>
     <use href="#m0b2cd70437" x="617.173913" y="336.413043" style="fill: #ff7f0e; fill-opacity: 0.475; stroke: #ff7f0e; stroke-opacity: 0.700; stroke-width: 1.00"/>
     <use href="#m0b2cd70437" x="623.043478" y="335.869565" style="fill: #ff7f0e; fill-opacity: 0.475; stroke: #ff7f0e; stroke-opacity: 0.700; stroke-width: 1.00"/>
     <use href="#m0b2cd70437" x="628.695652" y="249.130435" style="fill: #ff7f0e; fill-opacity: 0.475; stroke: #ff7f0e; stroke-opacity: 0.700; stroke-width: 1.00"/>
     <use href="#m0b2cd70437" x="645.978261" y="246.956522" style="fill: #ff7f0e; fill-opacity: 0.475; stroke: #ff7f0e; stroke-opacity: 0.700; stroke-width: 1.00"/>
     <use href="#m0b2cd70437" x="643.478261" y="266.630435" style="fill: #ff7f0e; fill-opacity: 0.475; stroke: #ff7f0e; stroke-opacity: 0.700; stroke-width: 1.00"/>
     <use href="#m0b2cd70437" x="642.826087" y="296.630435" style="fill: #ff7f0e; fill-opacity: 0.475; stroke: #ff7f0e; stroke-opacity: 0.700; stroke-width: 1.00"/>
    </g>
   </g>
   <g id="PathCollection_9">
    <g clip-path="url(#pc8015aed4d)">
     <use href="#m2f730badc8" x="502.5" y="60.543478" style="fill: #2ca02c; fill-opacity: 0.475; stroke: #2ca02c; stroke-opacity: 0.700; stroke-width: 1.00"/>
     <use href="#m2f730badc8" x="506.521739" y="59.565217" style="fill: #2ca02c; fill-opacity: 0.475; stroke: #2ca02c; stroke-opacity: 0.700; stroke-width: 1.00"/>
     <use href="#m2f730badc8" x="542.173913" y="78.26087" style="fill: #2ca02c; fill-opacity: 0.475; stroke: #2ca02c; stroke-opacity: 0.700; stroke-width: 1.00"/>
     <use href="#m2f730badc8" x="546.086957" y="77.608696" style="fill: #2ca02c; fill-opacity: 0.475; stroke: #2ca02c; stroke-opacity: 0.700; stroke-width: 1.00"/>
     <use href="#m2f730badc8" x="522.608696" y="125.326087" style="fill: #2ca02c; fill-opacity: 0.475; stroke: #2ca02c; stroke-opacity: 0.700; stroke-width: 1.00"/>
     <use href="#m2f730badc8" x="503.152174" y="168.26087" style="fill: #2ca02c; fill-opacity: 0.475; stroke: #2ca02c; stroke-opacity: 0.700; stroke-width: 1.00"/>
     <use href="#m2f730badc8" x="509.456522" y="174.130435" style="fill: #2ca02c; fill-opacity: 0.475; stroke: #2ca02c; stroke-opacity: 0.700; stroke-width: 1.00"/>
     <use href="#m2f730badc8" x="514.347826" y="162.826087" style="fill: #2ca02c; fill-opacity: 0.475; stroke: #2ca02c; stroke-opacity: 0.700; stroke-width: 1.00"/>
     <use href="#m2f730badc8" x="510.434783" y="194.782609" style="fill: #2ca02c; fill-opacity: 0.475; stroke: #2ca02c; stroke-opacity: 0.700; stroke-width: 1.00"/>
     <use href="#m2f730badc8" x="501.521739" y="219.891304" style="fill: #2ca02c; fill-opacity: 0.475; stroke: #2ca02c; stroke-opacity: 0.700; stroke-width: 1.00"/>
     <use href="#m2f730badc8" x="501.521739" y="219.891304" style="fill: #2ca02c; fill-opacity: 0.475; stroke: #2ca02c; stroke-opacity: 0.700; stroke-width: 1.00"/>
     <use href="#m2f730badc8" x="522.065217" y="132.934783" style="fill: #2ca02c; fill-opacity: 0.475; stroke: #2ca02c; stroke-opacity: 0.700; stroke-width: 1.00"/>
     <use href="#m2f730badc8" x="517.5" y="138.586957" style="fill: #2ca02c; fill-opacity: 0.475; stroke: #2ca02c; stroke-opacity: 0.700; stroke-width: 1.00"/>
     <use href="#m2f730badc8" x="527.826087" y="138.043478" style="fill: #2ca02c; fill-opacity: 0.475; stroke: #2ca02c; stroke-opacity: 0.700; stroke-width: 1.00"/>
     <use href="#m2f730badc8" x="522.608696" y="143.804348" style="fill: #2ca02c; fill-opacity: 0.475; stroke: #2ca02c; stroke-opacity: 0.700; stroke-width: 1.00"/>
     <use href="#m2f730badc8" x="534.347826" y="148.913043" style="fill: #2ca02c; fill-opacity: 0.475; stroke: #2ca02c; stroke-opacity: 0.700; stroke-width: 1.00"/>
     <use href="#m2f730badc8" x="553.152174" y="152.717391" style="fill: #2ca02c; fill-opacity: 0.475; stroke: #2ca02c; stroke-opacity: 0.700; stroke-width: 1.00"/>
     <use href="#m2f730badc8" x="544.347826" y="157.5" style="fill: #2ca02c; fill-opacity: 0.475; stroke: #2ca02c; stroke-opacity: 0.700; stroke-width: 1.00"/>
     <use href="#m2f730badc8" x="519.23913" y="160.652174" style="fill: #2ca02c; fill-opacity: 0.475; stroke: #2ca02c; stroke-opacity: 0.700; stroke-width: 1.00"/>
     <use href="#m2f730badc8" x="532.391304" y="160.652174" style="fill: #2ca02c; fill-opacity: 0.475; stroke: #2ca02c; stroke-opacity: 0.700; stroke-width: 1.00"/>
     <use href="#m2f730badc8" x="536.630435" y="167.826087" style="fill: #2ca02c; fill-opacity: 0.475; stroke: #2ca02c; stroke-opacity: 0.700; stroke-width: 1.00"/>
     <use href="#m2f730badc8" x="524.347826" y="171.521739" style="fill: #2ca02c; fill-opacity: 0.475; stroke: #2ca02c; stroke-opacity: 0.700; stroke-width: 1.00"/>
     <use href="#m2f730badc8" x="551.847826" y="170.652174" style="fill: #2ca02c; fill-opacity: 0.475; stroke: #2ca02c; stroke-opacity: 0.700; stroke-width: 1.00"/>
     <use href="#m2f730badc8" x="557.5" y="174.347826" style="fill: #2ca02c; fill-opacity: 0.475; stroke: #2ca02c; stroke-opacity: 0.700; stroke-width: 1.00"/>
     <use href="#m2f730badc8" x="521.73913" y="179.23913" style="fill: #2ca02c; fill-opacity: 0.475; stroke: #2ca02c; stroke-opacity: 0.700; stroke-width: 1.00"/>
     <use href="#m2f730badc8" x="531.413043" y="178.043478" style="fill: #2ca02c; fill-opacity: 0.475; stroke: #2ca02c; stroke-opacity: 0.700; stroke-width: 1.00"/>
     <use href="#m2f730badc8" x="540.978261" y="176.413043" style="fill: #2ca02c; fill-opacity: 0.475; stroke: #2ca02c; stroke-opacity: 0.700; stroke-width: 1.00"/>
     <use href="#m2f730badc8" x="553.369565" y="180.108696" style="fill: #2ca02c; fill-opacity: 0.475; stroke: #2ca02c; stroke-opacity: 0.700; stroke-width: 1.00"/>
     <use href="#m2f730badc8" x="568.369565" y="167.173913" style="fill: #2ca02c; fill-opacity: 0.475; stroke: #2ca02c; stroke-opacity: 0.700; stroke-width: 1.00"/>
     <use href="#m2f730badc8" x="572.391304" y="166.630435" style="fill: #2ca02c; fill-opacity: 0.475; stroke: #2ca02c; stroke-opacity: 0.700; stroke-width: 1.00"/>
     <use href="#m2f730badc8" x="577.282609" y="178.695652" style="fill: #2ca02c; fill-opacity: 0.475; stroke: #2ca02c; stroke-opacity: 0.700; stroke-width: 1.00"/>
     <use href="#m2f730badc8" x="577.282609" y="178.695652" style="fill: #2ca02c; fill-opacity: 0.475; stroke: #2ca02c; stroke-opacity: 0.700; stroke-width: 1.00"/>
     <use href="#m2f730badc8" x="565" y="183.804348" style="fill: #2ca02c; fill-opacity: 0.475; stroke: #2ca02c; stroke-opacity: 0.700; stroke-width: 1.00"/>
     <use href="#m2f730badc8" x="536.630435" y="188.369565" style="fill: #2ca02c; fill-opacity: 0.475; stroke: #2ca02c; stroke-opacity: 0.700; stroke-width: 1.00"/>
     <use href="#m2f730badc8" x="542.282609" y="185.543478" style="fill: #2ca02c; fill-opacity: 0.475; stroke: #2ca02c; stroke-opacity: 0.700; stroke-width: 1.00"/>
     <use href="#m2f730badc8" x="555.217391" y="189.891304" style="fill: #2ca02c; fill-opacity: 0.475; stroke: #2ca02c; stroke-opacity: 0.700; stroke-width: 1.00"/>
     <use href="#m2f730badc8" x="517.5" y="193.586957" style="fill: #2ca02c; fill-opacity: 0.475; stroke: #2ca02c; stroke-opacity: 0.700; stroke-width: 1.00"/>
     <use href="#m2f730badc8" x="522.934783" y="196.73913" style="fill: #2ca02c; fill-opacity: 0.475; stroke: #2ca02c; stroke-opacity: 0.700; stroke-width: 1.00"/>
     <use href="#m2f730badc8" x="527.282609" y="191.847826" style="fill: #2ca02c; fill-opacity: 0.475; stroke: #2ca02c; stroke-opacity: 0.700; stroke-width: 1.00"/>
     <use href="#m2f730badc8" x="519.23913" y="201.304348" style="fill: #2ca02c; fill-opacity: 0.475; stroke: #2ca02c; stroke-opacity: 0.700; stroke-width: 1.00"/>
     <use href="#m2f730badc8" x="526.956522" y="205" style="fill: #2ca02c; fill-opacity: 0.475; stroke: #2ca02c; stroke-opacity: 0.700; stroke-width: 1.00"/>
     <use href="#m2f730badc8" x="531.413043" y="199.782609" style="fill: #2ca02c; fill-opacity: 0.475; stroke: #2ca02c; stroke-opacity: 0.700; stroke-width: 1.00"/>
     <use href="#m2f730badc8" x="540.978261" y="195.217391" style="fill: #2ca02c; fill-opacity: 0.475; stroke: #2ca02c; stroke-opacity: 0.700; stroke-width: 1.00"/>
     <use href="#m2f730badc8" x="541.521739" y="205.543478" style="fill: #2ca02c; fill-opacity: 0.475; stroke: #2ca02c; stroke-opacity: 0.700; stroke-width: 1.00"/>
     <use href="#m2f730badc8" x="549.565217" y="199.782609" style="fill: #2ca02c; fill-opacity: 0.475; stroke: #2ca02c; stroke-opacity: 0.700; stroke-width: 1.00"/>
     <use href="#m2f730badc8" x="551.847826" y="204.456522" style="fill: #2ca02c; fill-opacity: 0.475; stroke: #2ca02c; stroke-opacity: 0.700; stroke-width: 1.00"/>
     <use href="#m2f730badc8" x="564.782609" y="198.152174" style="fill: #2ca02c; fill-opacity: 0.475; stroke: #2ca02c; stroke-opacity: 0.700; stroke-width: 1.00"/>
     <use href="#m2f730badc8" x="568.369565" y="202.065217" style="fill: #2ca02c; fill-opacity: 0.475; stroke: #2ca02c; stroke-opacity: 0.700; stroke-width: 1.00"/>
     <use href="#m2f730badc8" x="520.76087" y="211.630435" style="fill: #2ca02c; fill-opacity: 0.475; stroke: #2ca02c; stroke-opacity: 0.700; stroke-width: 1.00"/>
     <use href="#m2f730badc8" x="526.956522" y="213.913043" style="fill: #2ca02c; fill-opacity: 0.475; stroke: #2ca02c; stroke-opacity: 0.700; stroke-width: 1.00"/>
     <use href="#m2f730badc8" x="538.695652" y="215.869565" style="fill: #2ca02c; fill-opacity: 0.475; stroke: #2ca02c; stroke-opacity: 0.700; stroke-width: 1.00"/>
     <use href="#m2f730badc8" x="547.826087" y="213.586957" style="fill: #2ca02c; fill-opacity: 0.475; stroke: #2ca02c; stroke-opacity: 0.700; stroke-width: 1.00"/>
     <use href="#m2f730badc8" x="559.891304" y="212.065217" style="fill: #2ca02c; fill-opacity: 0.475; stroke: #2ca02c; stroke-opacity: 0.700; stroke-width: 1.00"/>
     <use href="#m2f730badc8" x="532.717391" y="221.521739" style="fill: #2ca02c; fill-opacity: 0.475; stroke: #2ca02c; stroke-opacity: 0.700; stroke-width: 1.00"/>
     <use href="#m2f730badc8" x="548.695652" y="221.521739" style="fill: #2ca02c; fill-opacity: 0.475; stroke: #2ca02c; stroke-opacity: 0.700; stroke-width: 1.00"/>
     <use href="#m2f730badc8" x="554.673913" y="220.76087" style="fill: #2ca02c; fill-opacity: 0.475; stroke: #2ca02c; stroke-opacity: 0.700; stroke-width: 1.00"/>
     <use href="#m2f730badc8" x="568.369565" y="217.826087" style="fill: #2ca02c; fill-opacity: 0.475; stroke: #2ca02c; stroke-opacity: 0.700; stroke-width: 1.00"/>
     <use href="#m2f730badc8" x="535.76087" y="229.021739" style="fill: #2ca02c; fill-opacity: 0.475; stroke: #2ca02c; stroke-opacity: 0.700; stroke-width: 1.00"/>
     <use href="#m2f730badc8" x="516.413043" y="236.086957" style="fill: #2ca02c; fill-opacity: 0.475; stroke: #2ca02c; stroke-opacity: 0.700; stroke-width: 1.00"/>
     <use href="#m2f730badc8" x="516.413043" y="236.086957" style="fill: #2ca02c; fill-opacity: 0.475; stroke: #2ca02c; stroke-opacity: 0.700; stroke-width: 1.00"/>
     <use href="#m2f730badc8" x="530.652174" y="234.673913" style="fill: #2ca02c; fill-opacity: 0.475; stroke: #2ca02c; stroke-opacity: 0.700; stroke-width: 1.00"/>
     <use href="#m2f730badc8" x="570.108696" y="183.804348" style="fill: #2ca02c; fill-opacity: 0.475; stroke: #2ca02c; stroke-opacity: 0.700; stroke-width: 1.00"/>
     <use href="#m2f730badc8" x="571.521739" y="191.847826" style="fill: #2ca02c; fill-opacity: 0.475; stroke: #2ca02c; stroke-opacity: 0.700; stroke-width: 1.00"/>
     <use href="#m2f730badc8" x="549.021739" y="237.717391" style="fill: #2ca02c; fill-opacity: 0.475; stroke: #2ca02c; stroke-opacity: 0.700; stroke-width: 1.00"/>
     <use href="#m2f730badc8" x="554.347826" y="240.326087" style="fill: #2ca02c; fill-opacity: 0.475; stroke: #2ca02c; stroke-opacity: 0.700; stroke-width: 1.00"/>
     <use href="#m2f730badc8" x="571.413043" y="242.065217" style="fill: #2ca02c; fill-opacity: 0.475; stroke: #2ca02c; stroke-opacity: 0.700; stroke-width: 1.00"/>
     <use href="#m2f730badc8" x="555.326087" y="249.565217" style="fill: #2ca02c; fill-opacity: 0.475; stroke: #2ca02c; stroke-opacity: 0.700; stroke-width: 1.00"/>
     <use href="#m2f730badc8" x="561.195652" y="247.608696" style="fill: #2ca02c; fill-opacity: 0.475; stroke: #2ca02c; stroke-opacity: 0.700; stroke-width: 1.00"/>
     <use href="#m2f730badc8" x="568.043478" y="251.086957" style="fill: #2ca02c; fill-opacity: 0.475; stroke: #2ca02c; stroke-opacity: 0.700; stroke-width: 1.00"/>
     <use href="#m2f730badc8" x="574.021739" y="249.891304" style="fill: #2ca02c; fill-opacity: 0.475; stroke: #2ca02c; stroke-opacity: 0.700; stroke-width: 1.00"/>
     <use href="#m2f730badc8" x="518.478261" y="258.695652" style="fill: #2ca02c; fill-opacity: 0.475; stroke: #2ca02c; stroke-opacity: 0.700; stroke-width: 1.00"/>
     <use href="#m2f730badc8" x="525.869565" y="256.413043" style="fill: #2ca02c; fill-opacity: 0.475; stroke: #2ca02c; stroke-opacity: 0.700; stroke-width: 1.00"/>
     <use href="#m2f730badc8" x="545" y="255.434783" style="fill: #2ca02c; fill-opacity: 0.475; stroke: #2ca02c; stroke-opacity: 0.700; stroke-width: 1.00"/>
     <use href="#m2f730badc8" x="550.434783" y="255.434783" style="fill: #2ca02c; fill-opacity: 0.475; stroke: #2ca02c; stroke-opacity: 0.700; stroke-width: 1.00"/>
     <use href="#m2f730badc8" x="532.391304" y="263.586957" style="fill: #2ca02c; fill-opacity: 0.475; stroke: #2ca02c; stroke-opacity: 0.700; stroke-width: 1.00"/>
     <use href="#m2f730badc8" x="534.347826" y="269.565217" style="fill: #2ca02c; fill-opacity: 0.475; stroke: #2ca02c; stroke-opacity: 0.700; stroke-width: 1.00"/>
     <use href="#m2f730badc8" x="565.543478" y="265.217391" style="fill: #2ca02c; fill-opacity: 0.475; stroke: #2ca02c; stroke-opacity: 0.700; stroke-width: 1.00"/>
     <use href="#m2f730badc8" x="565.543478" y="265.217391" style="fill: #2ca02c; fill-opacity: 0.475; stroke: #2ca02c; stroke-opacity: 0.700; stroke-width: 1.00"/>
     <use href="#m2f730badc8" x="530.434783" y="283.804348" style="fill: #2ca02c; fill-opacity: 0.475; stroke: #2ca02c; stroke-opacity: 0.700; stroke-width: 1.00"/>
     <use href="#m2f730badc8" x="534.782609" y="283.26087" style="fill: #2ca02c; fill-opacity: 0.475; stroke: #2ca02c; stroke-opacity: 0.700; stroke-width: 1.00"/>
     <use href="#m2f730badc8" x="616.195652" y="286.195652" style="fill: #2ca02c; fill-opacity: 0.475; stroke: #2ca02c; stroke-opacity: 0.700; stroke-width: 1.00"/>
     <use href="#m2f730badc8" x="616.195652" y="286.195652" style="fill: #2ca02c; fill-opacity: 0.475; stroke: #2ca02c; stroke-opacity: 0.700; stroke-width: 1.00"/>
     <use href="#m2f730badc8" x="680.326087" y="252.065217" style="fill: #2ca02c; fill-opacity: 0.475; stroke: #2ca02c; stroke-opacity: 0.700; stroke-width: 1.00"/>
     <use href="#m2f730badc8" x="680.326087" y="252.065217" style="fill: #2ca02c; fill-opacity: 0.475; stroke: #2ca02c; stroke-opacity: 0.700; stroke-width: 1.00"/>
    </g>
   </g>
   <g id="matplotlib.axis_3">
    <g id="xtick_6">
     <g id="line2d_11">
      <g>
       <use href="#m1504cfccaf" x="440.634901" y="351.413043" style="stroke: #000000; stroke-width: 0.8"/>
      </g>
     </g>
     <g id="text_15">
      <text x="440.635" y="366.011" style="font-size:10.300px;font-family:'Liberation Sans',sans-serif;text-rendering:geometricPrecision;text-anchor:middle" textLength="21.105" lengthAdjust="spacingAndGlyphs">−30</text>
     </g>
    </g>
    <g id="xtick_7">
     <g id="line2d_12">
      <g>
       <use href="#m1504cfccaf" x="480.852436" y="351.413043" style="stroke: #000000; stroke-width: 0.8"/>
      </g>
     </g>
     <g id="text_16">
      <text x="480.852" y="366.011" style="font-size:10.300px;font-family:'Liberation Sans',sans-serif;text-rendering:geometricPrecision;text-anchor:middle" textLength="21.105" lengthAdjust="spacingAndGlyphs">−20</text>
     </g>
    </g>
    <g id="xtick_8">
     <g id="line2d_13">
      <g>
       <use href="#m1504cfccaf" x="521.06997" y="351.413043" style="stroke: #000000; stroke-width: 0.8"/>
      </g>
     </g>
     <g id="text_17">
      <text x="521.070" y="366.011" style="font-size:10.300px;font-family:'Liberation Sans',sans-serif;text-rendering:geometricPrecision;text-anchor:middle" textLength="21.105" lengthAdjust="spacingAndGlyphs">−10</text>
     </g>
    </g>
    <g id="xtick_9">
     <g id="line2d_14">
      <g>
       <use href="#m1504cfccaf" x="561.287504" y="351.413043" style="stroke: #000000; stroke-width: 0.8"/>
      </g>
     </g>
     <g id="text_18">
      <text x="561.288" y="366.011" style="font-size:10.300px;font-family:'Liberation Sans',sans-serif;text-rendering:geometricPrecision;text-anchor:middle" textLength="6.363" lengthAdjust="spacingAndGlyphs">0</text>
     </g>
    </g>
    <g id="xtick_10">
     <g id="line2d_15">
      <g>
       <use href="#m1504cfccaf" x="601.505038" y="351.413043" style="stroke: #000000; stroke-width: 0.8"/>
      </g>
     </g>
     <g id="text_19">
      <text x="601.505" y="366.011" style="font-size:10.300px;font-family:'Liberation Sans',sans-serif;text-rendering:geometricPrecision;text-anchor:middle" textLength="12.725" lengthAdjust="spacingAndGlyphs">10</text>
     </g>
    </g>
    <g id="xtick_11">
     <g id="line2d_16">
      <g>
       <use href="#m1504cfccaf" x="641.722572" y="351.413043" style="stroke: #000000; stroke-width: 0.8"/>
      </g>
     </g>
     <g id="text_20">
      <text x="641.723" y="366.011" style="font-size:10.300px;font-family:'Liberation Sans',sans-serif;text-rendering:geometricPrecision;text-anchor:middle" textLength="12.725" lengthAdjust="spacingAndGlyphs">20</text>
     </g>
    </g>
    <g id="xtick_12">
     <g id="line2d_17">
      <g>
       <use href="#m1504cfccaf" x="681.940107" y="351.413043" style="stroke: #000000; stroke-width: 0.8"/>
      </g>
     </g>
     <g id="text_21">
      <text x="681.940" y="366.011" style="font-size:10.300px;font-family:'Liberation Sans',sans-serif;text-rendering:geometricPrecision;text-anchor:middle" textLength="12.725" lengthAdjust="spacingAndGlyphs">30</text>
     </g>
    </g>
   </g>
   <g id="matplotlib.axis_4">
    <g id="ytick_6">
     <g id="line2d_18">
      <g>
       <use href="#m5d545ce8f8" x="407.173913" y="323.353764" style="stroke: #000000; stroke-width: 0.8"/>
      </g>
     </g>
     <g id="text_22">
      <text x="400.174" y="327.153" style="font-size:10.300px;font-family:'Liberation Sans',sans-serif;text-rendering:geometricPrecision;text-anchor:end" textLength="21.105" lengthAdjust="spacingAndGlyphs">−30</text>
     </g>
    </g>
    <g id="ytick_7">
     <g id="line2d_19">
      <g>
       <use href="#m5d545ce8f8" x="407.173913" y="277.505267" style="stroke: #000000; stroke-width: 0.8"/>
      </g>
     </g>
     <g id="text_23">
      <text x="400.174" y="281.304" style="font-size:10.300px;font-family:'Liberation Sans',sans-serif;text-rendering:geometricPrecision;text-anchor:end" textLength="21.105" lengthAdjust="spacingAndGlyphs">−20</text>
     </g>
    </g>
    <g id="ytick_8">
     <g id="line2d_20">
      <g>
       <use href="#m5d545ce8f8" x="407.173913" y="231.656771" style="stroke: #000000; stroke-width: 0.8"/>
      </g>
     </g>
     <g id="text_24">
      <text x="400.174" y="235.456" style="font-size:10.300px;font-family:'Liberation Sans',sans-serif;text-rendering:geometricPrecision;text-anchor:end" textLength="21.105" lengthAdjust="spacingAndGlyphs">−10</text>
     </g>
    </g>
    <g id="ytick_9">
     <g id="line2d_21">
      <g>
       <use href="#m5d545ce8f8" x="407.173913" y="185.808274" style="stroke: #000000; stroke-width: 0.8"/>
      </g>
     </g>
     <g id="text_25">
      <text x="400.174" y="189.607" style="font-size:10.300px;font-family:'Liberation Sans',sans-serif;text-rendering:geometricPrecision;text-anchor:end" textLength="6.363" lengthAdjust="spacingAndGlyphs">0</text>
     </g>
    </g>
    <g id="ytick_10">
     <g id="line2d_22">
      <g>
       <use href="#m5d545ce8f8" x="407.173913" y="139.959778" style="stroke: #000000; stroke-width: 0.8"/>
      </g>
     </g>
     <g id="text_26">
      <text x="400.174" y="143.759" style="font-size:10.300px;font-family:'Liberation Sans',sans-serif;text-rendering:geometricPrecision;text-anchor:end" textLength="12.725" lengthAdjust="spacingAndGlyphs">10</text>
     </g>
    </g>
    <g id="ytick_11">
     <g id="line2d_23">
      <g>
       <use href="#m5d545ce8f8" x="407.173913" y="94.111281" style="stroke: #000000; stroke-width: 0.8"/>
      </g>
     </g>
     <g id="text_27">
      <text x="400.174" y="97.910" style="font-size:10.300px;font-family:'Liberation Sans',sans-serif;text-rendering:geometricPrecision;text-anchor:end" textLength="12.725" lengthAdjust="spacingAndGlyphs">20</text>
     </g>
    </g>
    <g id="ytick_12">
     <g id="line2d_24">
      <g>
       <use href="#m5d545ce8f8" x="407.173913" y="48.262785" style="stroke: #000000; stroke-width: 0.8"/>
      </g>
     </g>
     <g id="text_28">
      <text x="400.174" y="52.062" style="font-size:10.300px;font-family:'Liberation Sans',sans-serif;text-rendering:geometricPrecision;text-anchor:end" textLength="12.725" lengthAdjust="spacingAndGlyphs">30</text>
     </g>
    </g>
   </g>
   <g id="patch_9">
    <path d="M 407.173913 351.413043 
L 407.173913 18.369565 
" style="fill: none; stroke: #000000; stroke-width: 0.8; stroke-linejoin: miter; stroke-linecap: square"/>
   </g>
   <g id="patch_10">
    <path d="M 713.108696 351.413043 
L 713.108696 18.369565 
" style="fill: none; stroke: #000000; stroke-width: 0.8; stroke-linejoin: miter; stroke-linecap: square"/>
   </g>
   <g id="patch_11">
    <path d="M 407.173913 351.413043 
L 713.108696 351.413043 
" style="fill: none; stroke: #000000; stroke-width: 0.8; stroke-linejoin: miter; stroke-linecap: square"/>
   </g>
   <g id="patch_12">
    <path d="M 407.173913 18.369565 
L 713.108696 18.369565 
" style="fill: none; stroke: #000000; stroke-width: 0.8; stroke-linejoin: miter; stroke-linecap: square"/>
   </g>
   <g id="text_29">
    <text x="560.141" y="12.370" style="font-size:12.360px;font-family:'Liberation Sans',sans-serif;text-rendering:geometricPrecision;text-anchor:middle" textLength="33.212" lengthAdjust="spacingAndGlyphs">t-SNE</text>
   </g>
   <g id="legend_2">
    <g id="patch_13">
     <path d="M 414.173913 346.413043 
L 571.203601 346.413043 
Q 573.203601 346.413043 573.203601 344.413043 
L 573.203601 301.378668 
Q 573.203601 299.378668 571.203601 299.378668 
L 414.173913 299.378668 
Q 412.173913 299.378668 412.173913 301.378668 
L 412.173913 344.413043 
Q 412.173913 346.413043 414.173913 346.413043 
z
" style="fill: #ffffff; opacity: 0.8; stroke: #cccccc; stroke-linejoin: miter"/>
    </g>
    <g id="PathCollection_10">
     <g>
      <use href="#m3ec760572e" x="426.173913" y="308.352106" style="fill: #1f77b4; fill-opacity: 0.475; stroke: #1f77b4; stroke-opacity: 0.700; stroke-width: 1.00"/>
     </g>
    </g>
    <g id="text_30">
     <text x="444.174" y="310.977" style="font-size:10.300px;font-family:'Liberation Sans',sans-serif;text-rendering:geometricPrecision;text-anchor:start" textLength="65.294" lengthAdjust="spacingAndGlyphs">Ground Truth</text>
    </g>
    <g id="PathCollection_11">
     <g>
      <use href="#m0b2cd70437" x="426.173913" y="323.030231" style="fill: #ff7f0e; fill-opacity: 0.475; stroke: #ff7f0e; stroke-opacity: 0.700; stroke-width: 1.00"/>
     </g>
    </g>
    <g id="text_31">
     <text x="444.174" y="325.655" style="font-size:10.300px;font-family:'Liberation Sans',sans-serif;text-rendering:geometricPrecision;text-anchor:start" textLength="53.053" lengthAdjust="spacingAndGlyphs">Generated</text>
    </g>
    <g id="PathCollection_12">
     <g>
      <use href="#m2f730badc8" x="426.173913" y="337.708356" style="fill: #2ca02c; fill-opacity: 0.475; stroke: #2ca02c; stroke-opacity: 0.700; stroke-width: 1.00"/>
     </g>
    </g>
    <g id="text_32">
     <text x="444.174" y="340.333" style="font-size:10.300px;font-family:'Liberation Sans',sans-serif;text-rendering:geometricPrecision;text-anchor:start" textLength="125.030" lengthAdjust="spacingAndGlyphs">Unconditional Generated</text>
    </g>
   </g>
  </g>
  <g id="patch_14">
   <path d="M -16.305363 736.935482 
L 323.727853 736.935482 
L 323.727853 396.902266 
L -16.305363 396.902266 
z
" style="fill: #ffffff"/>
  </g>
  <g id="pane3d_1">
   <g id="patch_15">
    <path d="M 121.623889 586.131788 
L 8.073297 653.601051 
L 3.315502 496.563869 
L 120.56824 441.490277 
" style="fill: #f2f2f2; opacity: 0.5; stroke: #f2f2f2; stroke-linejoin: miter"/>
   </g>
  </g>
  <g id="pane3d_2">
   <g id="patch_16">
    <path d="M 302.600032 623.545218 
L 121.623889 586.131788 
L 120.56824 441.490277 
L 306.98359 471.991803 
" style="fill: #e6e6e6; opacity: 0.5; stroke: #e6e6e6; stroke-linejoin: miter"/>
   </g>
  </g>
  <g id="pane3d_3">
   <g id="patch_17">
    <path d="M 302.600032 623.545218 
L 121.623889 586.131788 
L 8.073297 653.601051 
L 200.959339 698.894739 
" style="fill: #ececec; opacity: 0.5; stroke: #ececec; stroke-linejoin: miter"/>
   </g>
  </g>
  <g id="grid3d_1">
   <g id="Line3DCollection_1">
    <path d="M 188.70098 696.016219 
L 291.155239 621.179221 
L 295.177638 470.060097 
" style="fill: none; stroke: #b0b0b0; stroke-width: 0.8"/>
    <path d="M 167.149939 690.955583 
L 271.015938 617.015798 
L 274.408451 466.661815 
" style="fill: none; stroke: #b0b0b0; stroke-width: 0.8"/>
    <path d="M 145.868941 685.958358 
L 251.105731 612.899735 
L 253.882592 463.303347 
" style="fill: none; stroke: #b0b0b0; stroke-width: 0.8"/>
    <path d="M 124.852943 681.023361 
L 231.420729 608.83023 
L 233.59581 459.983997 
" style="fill: none; stroke: #b0b0b0; stroke-width: 0.8"/>
    <path d="M 104.097025 676.149436 
L 211.957135 604.806496 
L 213.543952 456.703086 
" style="fill: none; stroke: #b0b0b0; stroke-width: 0.8"/>
    <path d="M 83.596389 671.335457 
L 192.711233 600.827766 
L 193.722961 453.459949 
" style="fill: none; stroke: #b0b0b0; stroke-width: 0.8"/>
    <path d="M 63.346354 666.580324 
L 173.679391 596.893289 
L 174.128872 450.253938 
" style="fill: none; stroke: #b0b0b0; stroke-width: 0.8"/>
    <path d="M 43.342354 661.882965 
L 154.858058 593.002331 
L 154.757812 447.08442 
" style="fill: none; stroke: #b0b0b0; stroke-width: 0.8"/>
    <path d="M 23.57993 657.242334 
L 136.243761 589.154173 
L 135.605994 443.950774 
" style="fill: none; stroke: #b0b0b0; stroke-width: 0.8"/>
   </g>
  </g>
  <g id="grid3d_2">
   <g id="Line3DCollection_2">
    <path d="M 99.790983 451.249351 
L 101.456147 598.115016 
L 284.625763 636.870123 
" style="fill: none; stroke: #b0b0b0; stroke-width: 0.8"/>
    <path d="M 76.107194 462.373623 
L 78.491614 611.760037 
L 264.117915 652.073251 
" style="fill: none; stroke: #b0b0b0; stroke-width: 0.8"/>
    <path d="M 51.459718 473.950539 
L 54.620299 625.943847 
L 242.753904 667.911081 
" style="fill: none; stroke: #b0b0b0; stroke-width: 0.8"/>
    <path d="M 25.788515 486.008299 
L 29.787415 640.699 
L 220.478971 684.424206 
" style="fill: none; stroke: #b0b0b0; stroke-width: 0.8"/>
   </g>
  </g>
  <g id="grid3d_3">
   <g id="Line3DCollection_3">
    <path d="M 302.811317 616.240429 
L 121.572932 579.149821 
L 7.844247 646.040957 
" style="fill: none; stroke: #b0b0b0; stroke-width: 0.8"/>
    <path d="M 303.343582 597.838346 
L 121.444595 561.565628 
L 7.267106 626.991673 
" style="fill: none; stroke: #b0b0b0; stroke-width: 0.8"/>
    <path d="M 303.879783 579.300199 
L 121.315359 543.858136 
L 6.685521 607.795689 
" style="fill: none; stroke: #b0b0b0; stroke-width: 0.8"/>
    <path d="M 304.419963 560.624473 
L 121.185214 526.026043 
L 6.099439 588.451303 
" style="fill: none; stroke: #b0b0b0; stroke-width: 0.8"/>
    <path d="M 304.964167 541.809631 
L 121.05415 508.06803 
L 5.508809 568.956787 
" style="fill: none; stroke: #b0b0b0; stroke-width: 0.8"/>
    <path d="M 305.512439 522.854112 
L 120.922157 489.982758 
L 4.913577 549.310387 
" style="fill: none; stroke: #b0b0b0; stroke-width: 0.8"/>
    <path d="M 306.064827 503.756333 
L 120.789225 471.768869 
L 4.313689 529.510321 
" style="fill: none; stroke: #b0b0b0; stroke-width: 0.8"/>
    <path d="M 306.621376 484.514686 
L 120.655344 453.424987 
L 3.709091 509.554779 
" style="fill: none; stroke: #b0b0b0; stroke-width: 0.8"/>
   </g>
  </g>
  <g id="axis3d_1">
   <g id="line2d_25">
    <path d="M 8.073297 653.601051 
L 200.959339 698.894739 
" style="fill: none; stroke: #000000; stroke-width: 0.8; stroke-linecap: square"/>
   </g>
   <g id="xtick_13">
    <g id="line2d_26">
     <path d="M 189.604146 695.356507 
L 186.890182 697.338904 
" style="fill: none; stroke: #000000; stroke-width: 0.8; stroke-linecap: square"/>
    </g>
    <g id="t3d_x_1">
     <text x="181.266" y="720.278" style="font-size:10.763px;font-family:'Liberation Sans',sans-serif;text-rendering:geometricPrecision;text-anchor:middle" textLength="28.703" lengthAdjust="spacingAndGlyphs">−150</text>
    </g>
   </g>
   <g id="xtick_14">
    <g id="line2d_27">
     <path d="M 168.065017 690.30416 
L 165.315288 692.261628 
" style="fill: none; stroke: #000000; stroke-width: 0.8; stroke-linecap: square"/>
    </g>
    <g id="t3d_x_2">
     <text x="159.664" y="715.094" style="font-size:10.763px;font-family:'Liberation Sans',sans-serif;text-rendering:geometricPrecision;text-anchor:middle" textLength="28.703" lengthAdjust="spacingAndGlyphs">−100</text>
    </g>
   </g>
   <g id="xtick_15">
    <g id="line2d_28">
     <path d="M 146.795563 685.315069 
L 144.011176 687.248076 
" style="fill: none; stroke: #000000; stroke-width: 0.8; stroke-linecap: square"/>
    </g>
    <g id="t3d_x_3">
     <text x="138.333" y="709.976" style="font-size:10.763px;font-family:'Liberation Sans',sans-serif;text-rendering:geometricPrecision;text-anchor:middle" textLength="22.054" lengthAdjust="spacingAndGlyphs">−50</text>
    </g>
   </g>
   <g id="xtick_16">
    <g id="line2d_29">
     <path d="M 125.79075 680.388054 
L 122.97278 682.297056 
" style="fill: none; stroke: #000000; stroke-width: 0.8; stroke-linecap: square"/>
    </g>
    <g id="t3d_x_4">
     <text x="117.270" y="704.921" style="font-size:10.763px;font-family:'Liberation Sans',sans-serif;text-rendering:geometricPrecision;text-anchor:middle" textLength="6.649" lengthAdjust="spacingAndGlyphs">0</text>
    </g>
   </g>
   <g id="xtick_17">
    <g id="line2d_30">
     <path d="M 105.045671 675.521964 
L 102.19516 677.407405 
" style="fill: none; stroke: #000000; stroke-width: 0.8; stroke-linecap: square"/>
    </g>
    <g id="t3d_x_5">
     <text x="96.468" y="699.930" style="font-size:10.763px;font-family:'Liberation Sans',sans-serif;text-rendering:geometricPrecision;text-anchor:middle" textLength="13.298" lengthAdjust="spacingAndGlyphs">50</text>
    </g>
   </g>
   <g id="xtick_18">
    <g id="line2d_31">
     <path d="M 84.555538 670.715676 
L 81.673497 672.577989 
" style="fill: none; stroke: #000000; stroke-width: 0.8; stroke-linecap: square"/>
    </g>
    <g id="t3d_x_6">
     <text x="75.923" y="695.000" style="font-size:10.763px;font-family:'Liberation Sans',sans-serif;text-rendering:geometricPrecision;text-anchor:middle" textLength="19.946" lengthAdjust="spacingAndGlyphs">100</text>
    </g>
   </g>
   <g id="xtick_19">
    <g id="line2d_32">
     <path d="M 64.315679 665.968093 
L 61.40309 667.807702 
" style="fill: none; stroke: #000000; stroke-width: 0.8; stroke-linecap: square"/>
    </g>
    <g id="t3d_x_7">
     <text x="55.631" y="690.130" style="font-size:10.763px;font-family:'Liberation Sans',sans-serif;text-rendering:geometricPrecision;text-anchor:middle" textLength="19.946" lengthAdjust="spacingAndGlyphs">150</text>
    </g>
   </g>
   <g id="xtick_20">
    <g id="line2d_33">
     <path d="M 44.321536 661.278147 
L 41.379354 663.095464 
" style="fill: none; stroke: #000000; stroke-width: 0.8; stroke-linecap: square"/>
    </g>
    <g id="t3d_x_8">
     <text x="35.586" y="685.321" style="font-size:10.763px;font-family:'Liberation Sans',sans-serif;text-rendering:geometricPrecision;text-anchor:middle" textLength="19.946" lengthAdjust="spacingAndGlyphs">200</text>
    </g>
   </g>
   <g id="xtick_21">
    <g id="line2d_34">
     <path d="M 24.568664 656.644794 
L 21.597812 658.440223 
" style="fill: none; stroke: #000000; stroke-width: 0.8; stroke-linecap: square"/>
    </g>
    <g id="t3d_x_9">
     <text x="15.784" y="680.569" style="font-size:10.763px;font-family:'Liberation Sans',sans-serif;text-rendering:geometricPrecision;text-anchor:middle" textLength="19.946" lengthAdjust="spacingAndGlyphs">250</text>
    </g>
   </g>
  </g>
  <g id="axis3d_2">
   <g id="line2d_35">
    <path d="M 302.600032 623.545218 
L 200.959339 698.894739 
" style="fill: none; stroke: #000000; stroke-width: 0.8; stroke-linecap: square"/>
   </g>
   <g id="xtick_22">
    <g id="line2d_36">
     <path d="M 283.080507 636.543177 
L 287.720358 637.524878 
" style="fill: none; stroke: #000000; stroke-width: 0.8; stroke-linecap: square"/>
    </g>
    <g id="t3d_y_10">
     <text x="297.654" y="658.380" style="font-size:10.763px;font-family:'Liberation Sans',sans-serif;text-rendering:geometricPrecision;text-anchor:middle" textLength="28.703" lengthAdjust="spacingAndGlyphs">−100</text>
    </g>
   </g>
   <g id="xtick_23">
    <g id="line2d_37">
     <path d="M 262.550279 651.732801 
L 267.257414 652.755068 
" style="fill: none; stroke: #000000; stroke-width: 0.8; stroke-linecap: square"/>
    </g>
    <g id="t3d_y_11">
     <text x="277.365" y="673.862" style="font-size:10.763px;font-family:'Liberation Sans',sans-serif;text-rendering:geometricPrecision;text-anchor:middle" textLength="6.649" lengthAdjust="spacingAndGlyphs">0</text>
    </g>
   </g>
   <g id="xtick_24">
    <g id="line2d_38">
     <path d="M 241.163346 667.556273 
L 245.939397 668.621673 
" style="fill: none; stroke: #000000; stroke-width: 0.8; stroke-linecap: square"/>
    </g>
    <g id="t3d_y_12">
     <text x="256.227" y="689.991" style="font-size:10.763px;font-family:'Liberation Sans',sans-serif;text-rendering:geometricPrecision;text-anchor:middle" textLength="19.946" lengthAdjust="spacingAndGlyphs">100</text>
    </g>
   </g>
   <g id="xtick_25">
    <g id="line2d_39">
     <path d="M 218.864941 684.054112 
L 223.711569 685.165435 
" style="fill: none; stroke: #000000; stroke-width: 0.8; stroke-linecap: square"/>
    </g>
    <g id="t3d_y_13">
     <text x="234.186" y="706.809" style="font-size:10.763px;font-family:'Liberation Sans',sans-serif;text-rendering:geometricPrecision;text-anchor:middle" textLength="19.946" lengthAdjust="spacingAndGlyphs">200</text>
    </g>
   </g>
  </g>
  <g id="axis3d_3">
   <g id="line2d_40">
    <path d="M 302.600032 623.545218 
L 306.98359 471.991803 
" style="fill: none; stroke: #000000; stroke-width: 0.8; stroke-linecap: square"/>
   </g>
   <g id="xtick_26">
    <g id="line2d_41">
     <path d="M 301.283656 615.927791 
L 305.870609 616.866516 
" style="fill: none; stroke: #000000; stroke-width: 0.8; stroke-linecap: square"/>
    </g>
    <g id="t3d_z_14">
     <text x="322.573" y="622.653" style="font-size:10.763px;font-family:'Liberation Sans',sans-serif;text-rendering:geometricPrecision;text-anchor:middle" textLength="28.703" lengthAdjust="spacingAndGlyphs">−150</text>
    </g>
   </g>
   <g id="xtick_27">
    <g id="line2d_42">
     <path d="M 301.810065 597.532546 
L 306.414615 598.450745 
" style="fill: none; stroke: #000000; stroke-width: 0.8; stroke-linecap: square"/>
    </g>
    <g id="t3d_z_15">
     <text x="323.171" y="604.292" style="font-size:10.763px;font-family:'Liberation Sans',sans-serif;text-rendering:geometricPrecision;text-anchor:middle" textLength="28.703" lengthAdjust="spacingAndGlyphs">−100</text>
    </g>
   </g>
   <g id="xtick_28">
    <g id="line2d_43">
     <path d="M 302.340365 579.001345 
L 306.962647 579.89869 
" style="fill: none; stroke: #000000; stroke-width: 0.8; stroke-linecap: square"/>
    </g>
    <g id="t3d_z_16">
     <text x="323.774" y="585.795" style="font-size:10.763px;font-family:'Liberation Sans',sans-serif;text-rendering:geometricPrecision;text-anchor:middle" textLength="22.054" lengthAdjust="spacingAndGlyphs">−50</text>
    </g>
   </g>
   <g id="xtick_29">
    <g id="line2d_44">
     <path d="M 302.874599 560.332678 
L 307.51475 561.208832 
" style="fill: none; stroke: #000000; stroke-width: 0.8; stroke-linecap: square"/>
    </g>
    <g id="t3d_z_17">
     <text x="324.381" y="567.161" style="font-size:10.763px;font-family:'Liberation Sans',sans-serif;text-rendering:geometricPrecision;text-anchor:middle" textLength="6.649" lengthAdjust="spacingAndGlyphs">0</text>
    </g>
   </g>
   <g id="xtick_30">
    <g id="line2d_45">
     <path d="M 303.412811 541.525007 
L 308.070969 542.37963 
" style="fill: none; stroke: #000000; stroke-width: 0.8; stroke-linecap: square"/>
    </g>
    <g id="t3d_z_18">
     <text x="324.992" y="548.389" style="font-size:10.763px;font-family:'Liberation Sans',sans-serif;text-rendering:geometricPrecision;text-anchor:middle" textLength="13.298" lengthAdjust="spacingAndGlyphs">50</text>
    </g>
   </g>
   <g id="xtick_31">
    <g id="line2d_46">
     <path d="M 303.955045 522.576776 
L 308.63135 523.40952 
" style="fill: none; stroke: #000000; stroke-width: 0.8; stroke-linecap: square"/>
    </g>
    <g id="t3d_z_19">
     <text x="325.609" y="529.476" style="font-size:10.763px;font-family:'Liberation Sans',sans-serif;text-rendering:geometricPrecision;text-anchor:middle" textLength="19.946" lengthAdjust="spacingAndGlyphs">100</text>
    </g>
   </g>
   <g id="xtick_32">
    <g id="line2d_47">
     <path d="M 304.501347 503.486401 
L 309.195941 504.296914 
" style="fill: none; stroke: #000000; stroke-width: 0.8; stroke-linecap: square"/>
    </g>
    <g id="t3d_z_20">
     <text x="326.230" y="510.422" style="font-size:10.763px;font-family:'Liberation Sans',sans-serif;text-rendering:geometricPrecision;text-anchor:middle" textLength="19.946" lengthAdjust="spacingAndGlyphs">150</text>
    </g>
   </g>
   <g id="xtick_33">
    <g id="line2d_48">
     <path d="M 305.051762 484.252279 
L 309.764788 485.0402 
" style="fill: none; stroke: #000000; stroke-width: 0.8; stroke-linecap: square"/>
    </g>
    <g id="t3d_z_21">
     <text x="326.855" y="491.225" style="font-size:10.763px;font-family:'Liberation Sans',sans-serif;text-rendering:geometricPrecision;text-anchor:middle" textLength="19.946" lengthAdjust="spacingAndGlyphs">200</text>
    </g>
   </g>
  </g>
  <g id="axes_3">
   <g id="text_33">
    <text x="153.711" y="390.902" style="font-size:12.916px;font-family:'Liberation Sans',sans-serif;text-rendering:geometricPrecision;text-anchor:middle" textLength="46.516" lengthAdjust="spacingAndGlyphs">3D PCA</text>
   </g>
   <g id="legend_3">
    <g id="patch_18">
     <path d="M 152.31683 451.278188 
L 316.412853 451.278188 
Q 318.502853 451.278188 318.502853 449.188188 
L 318.502853 404.217266 
Q 318.502853 402.127266 316.412853 402.127266 
L 152.31683 402.127266 
Q 150.22683 402.127266 150.22683 404.217266 
L 150.22683 449.188188 
Q 150.22683 451.278188 152.31683 451.278188 
z
" style="fill: #ffffff; opacity: 0.8; stroke: #cccccc; stroke-linejoin: miter"/>
    </g>
    <g id="PathCollection_13">
     <defs>
      <path id="m33d249efb2" d="M 0 2.44949 
C 0.649612 2.44949 1.272706 2.191396 1.732051 1.732051 
C 2.191396 1.272706 2.44949 0.649612 2.44949 0 
C 2.44949 -0.649612 2.191396 -1.272706 1.732051 -1.732051 
C 1.272706 -2.191396 0.649612 -2.44949 0 -2.44949 
C -0.649612 -2.44949 -1.272706 -2.191396 -1.732051 -1.732051 
C -2.191396 -1.272706 -2.44949 -0.649612 -2.44949 0 
C -2.44949 0.649612 -2.191396 1.272706 -1.732051 1.732051 
C -1.272706 2.191396 -0.649612 2.44949 0 2.44949 
z
"/>
     </defs>
     <g>
      <use href="#m33d249efb2" x="164.85683" y="411.504508" style="fill: #1f77b4; fill-opacity: 0.500; stroke: #1f77b4; stroke-opacity: 0.600; stroke-width: 0.80"/>
     </g>
    </g>
    <g id="text_34">
     <text x="183.667" y="414.248" style="font-size:10.763px;font-family:'Liberation Sans',sans-serif;text-rendering:geometricPrecision;text-anchor:start" textLength="68.232" lengthAdjust="spacingAndGlyphs">Ground Truth</text>
    </g>
    <g id="PathCollection_14">
     <defs>
      <path id="ma6496d7aa1" d="M 0 2.44949 
C 0.649612 2.44949 1.272706 2.191396 1.732051 1.732051 
C 2.191396 1.272706 2.44949 0.649612 2.44949 0 
C 2.44949 -0.649612 2.191396 -1.272706 1.732051 -1.732051 
C 1.272706 -2.191396 0.649612 -2.44949 0 -2.44949 
C -0.649612 -2.44949 -1.272706 -2.191396 -1.732051 -1.732051 
C -2.191396 -1.272706 -2.44949 -0.649612 -2.44949 0 
C -2.44949 0.649612 -2.191396 1.272706 -1.732051 1.732051 
C -1.272706 2.191396 -0.649612 2.44949 0 2.44949 
z
"/>
     </defs>
     <g>
      <use href="#ma6496d7aa1" x="164.85683" y="426.843149" style="fill: #ff7f0e; fill-opacity: 0.500; stroke: #ff7f0e; stroke-opacity: 0.600; stroke-width: 0.80"/>
     </g>
    </g>
    <g id="text_35">
     <text x="183.667" y="429.586" style="font-size:10.763px;font-family:'Liberation Sans',sans-serif;text-rendering:geometricPrecision;text-anchor:start" textLength="55.441" lengthAdjust="spacingAndGlyphs">Generated</text>
    </g>
    <g id="PathCollection_15">
     <defs>
      <path id="m347166228d" d="M 0 2.44949 
C 0.649612 2.44949 1.272706 2.191396 1.732051 1.732051 
C 2.191396 1.272706 2.44949 0.649612 2.44949 0 
C 2.44949 -0.649612 2.191396 -1.272706 1.732051 -1.732051 
C 1.272706 -2.191396 0.649612 -2.44949 0 -2.44949 
C -0.649612 -2.44949 -1.272706 -2.191396 -1.732051 -1.732051 
C -2.191396 -1.272706 -2.44949 -0.649612 -2.44949 0 
C -2.44949 0.649612 -2.191396 1.272706 -1.732051 1.732051 
C -1.272706 2.191396 -0.649612 2.44949 0 2.44949 
z
"/>
     </defs>
     <g>
      <use href="#m347166228d" x="164.85683" y="442.18179" style="fill: #2ca02c; fill-opacity: 0.500; stroke: #2ca02c; stroke-opacity: 0.600; stroke-width: 0.80"/>
     </g>
    </g>
    <g id="text_36">
     <text x="183.667" y="444.925" style="font-size:10.763px;font-family:'Liberation Sans',sans-serif;text-rendering:geometricPrecision;text-anchor:start" textLength="130.656" lengthAdjust="spacingAndGlyphs">Unconditional Generated</text>
    </g>
   </g>
  </g>
  <g id="patch_19">
   <path d="M 392.11855 736.935482 
L 732.151766 736.935482 
L 732.151766 396.902266 
L 392.11855 396.902266 
z
" style="fill: #ffffff"/>
  </g>
  <g id="pane3d_4">
   <g id="patch_20">
    <path d="M 530.047802 586.131788 
L 416.49721 653.601051 
L 411.739415 496.563869 
L 528.992153 441.490277 
" style="fill: #f2f2f2; opacity: 0.5; stroke: #f2f2f2; stroke-linejoin: miter"/>
   </g>
  </g>
  <g id="pane3d_5">
   <g id="patch_21">
    <path d="M 711.023945 623.545218 
L 530.047802 586.131788 
L 528.992153 441.490277 
L 715.407503 471.991803 
" style="fill: #e6e6e6; opacity: 0.5; stroke: #e6e6e6; stroke-linejoin: miter"/>
   </g>
  </g>
  <g id="pane3d_6">
   <g id="patch_22">
    <path d="M 711.023945 623.545218 
L 530.047802 586.131788 
L 416.49721 653.601051 
L 609.383252 698.894739 
" style="fill: #ececec; opacity: 0.5; stroke: #ececec; stroke-linejoin: miter"/>
   </g>
  </g>
  <g id="grid3d_4">
   <g id="Line3DCollection_4">
    <path d="M 583.306362 692.771338 
L 686.668554 618.510197 
L 690.286328 467.881443 
" style="fill: none; stroke: #b0b0b0; stroke-width: 0.8"/>
    <path d="M 550.594166 685.089829 
L 656.066841 612.183865 
L 658.737345 462.719357 
" style="fill: none; stroke: #b0b0b0; stroke-width: 0.8"/>
    <path d="M 518.504632 677.554533 
L 625.994445 605.96696 
L 627.750232 457.649204 
" style="fill: none; stroke: #b0b0b0; stroke-width: 0.8"/>
    <path d="M 487.020148 670.161316 
L 596.437749 599.856667 
L 597.310109 452.668551 
" style="fill: none; stroke: #b0b0b0; stroke-width: 0.8"/>
    <path d="M 456.123763 662.906197 
L 567.383602 593.850266 
L 567.402622 447.775048 
" style="fill: none; stroke: #b0b0b0; stroke-width: 0.8"/>
    <path d="M 425.799152 655.785342 
L 538.819295 587.94513 
L 538.01391 442.966429 
" style="fill: none; stroke: #b0b0b0; stroke-width: 0.8"/>
   </g>
  </g>
  <g id="grid3d_5">
   <g id="Line3DCollection_5">
    <path d="M 523.112037 444.252167 
L 524.338145 589.524341 
L 705.938687 627.315084 
" style="fill: none; stroke: #b0b0b0; stroke-width: 0.8"/>
    <path d="M 510.616844 450.121157 
L 512.210519 596.730309 
L 695.128388 635.329106 
" style="fill: none; stroke: #b0b0b0; stroke-width: 0.8"/>
    <path d="M 497.852557 456.11654 
L 499.82921 604.08701 
L 684.079416 643.520066 
" style="fill: none; stroke: #b0b0b0; stroke-width: 0.8"/>
    <path d="M 484.810388 462.242445 
L 487.186173 611.599225 
L 672.783777 651.893887 
" style="fill: none; stroke: #b0b0b0; stroke-width: 0.8"/>
    <path d="M 471.481161 468.503181 
L 474.273021 619.271935 
L 661.233118 660.456763 
" style="fill: none; stroke: #b0b0b0; stroke-width: 0.8"/>
    <path d="M 457.855296 474.903247 
L 461.081004 627.110342 
L 649.418704 669.215168 
" style="fill: none; stroke: #b0b0b0; stroke-width: 0.8"/>
    <path d="M 443.922778 481.447349 
L 447.60099 635.11987 
L 637.331396 678.175879 
" style="fill: none; stroke: #b0b0b0; stroke-width: 0.8"/>
    <path d="M 429.673136 488.140403 
L 433.823443 643.306185 
L 624.96163 687.345985 
" style="fill: none; stroke: #b0b0b0; stroke-width: 0.8"/>
    <path d="M 415.09542 494.987554 
L 419.738404 651.675205 
L 612.299388 696.732913 
" style="fill: none; stroke: #b0b0b0; stroke-width: 0.8"/>
   </g>
  </g>
  <g id="grid3d_6">
   <g id="Line3DCollection_6">
    <path d="M 711.146042 619.323943 
L 530.018354 582.096937 
L 416.364851 649.232352 
" style="fill: none; stroke: #b0b0b0; stroke-width: 0.8"/>
    <path d="M 711.72204 599.409872 
L 529.879466 563.067047 
L 415.740314 628.618696 
" style="fill: none; stroke: #b0b0b0; stroke-width: 0.8"/>
    <path d="M 712.302651 579.336312 
L 529.739524 543.892624 
L 415.110567 607.833089 
" style="fill: none; stroke: #b0b0b0; stroke-width: 0.8"/>
    <path d="M 712.887931 559.101338 
L 529.598515 524.572014 
L 414.475545 586.873371 
" style="fill: none; stroke: #b0b0b0; stroke-width: 0.8"/>
    <path d="M 713.477936 538.702997 
L 529.456427 505.103539 
L 413.835182 565.737345 
" style="fill: none; stroke: #b0b0b0; stroke-width: 0.8"/>
    <path d="M 714.072724 518.139301 
L 529.313247 485.485496 
L 413.189409 544.422778 
" style="fill: none; stroke: #b0b0b0; stroke-width: 0.8"/>
    <path d="M 714.672353 497.408232 
L 529.168963 465.716153 
L 412.538158 522.927397 
" style="fill: none; stroke: #b0b0b0; stroke-width: 0.8"/>
    <path d="M 715.276883 476.507738 
L 529.023562 445.793755 
L 411.881359 501.248892 
" style="fill: none; stroke: #b0b0b0; stroke-width: 0.8"/>
   </g>
  </g>
  <g id="axis3d_4">
   <g id="line2d_49">
    <path d="M 416.49721 653.601051 
L 609.383252 698.894739 
" style="fill: none; stroke: #000000; stroke-width: 0.8; stroke-linecap: square"/>
   </g>
   <g id="xtick_34">
    <g id="line2d_50">
     <path d="M 584.217192 692.116948 
L 581.480218 694.083342 
" style="fill: none; stroke: #000000; stroke-width: 0.8; stroke-linecap: square"/>
    </g>
    <g id="t3d_x_22">
     <text x="575.838" y="716.954" style="font-size:10.763px;font-family:'Liberation Sans',sans-serif;text-rendering:geometricPrecision;text-anchor:middle" textLength="22.054" lengthAdjust="spacingAndGlyphs">−40</text>
    </g>
   </g>
   <g id="xtick_35">
    <g id="line2d_51">
     <path d="M 551.522771 684.447948 
L 548.732428 686.37672 
" style="fill: none; stroke: #000000; stroke-width: 0.8; stroke-linecap: square"/>
    </g>
    <g id="t3d_x_23">
     <text x="543.050" y="709.086" style="font-size:10.763px;font-family:'Liberation Sans',sans-serif;text-rendering:geometricPrecision;text-anchor:middle" textLength="22.054" lengthAdjust="spacingAndGlyphs">−20</text>
    </g>
   </g>
   <g id="xtick_36">
    <g id="line2d_52">
     <path d="M 519.450174 676.924807 
L 516.60898 678.817026 
" style="fill: none; stroke: #000000; stroke-width: 0.8; stroke-linecap: square"/>
    </g>
    <g id="t3d_x_24">
     <text x="510.889" y="701.369" style="font-size:10.763px;font-family:'Liberation Sans',sans-serif;text-rendering:geometricPrecision;text-anchor:middle" textLength="6.649" lengthAdjust="spacingAndGlyphs">0</text>
    </g>
   </g>
   <g id="xtick_37">
    <g id="line2d_53">
     <path d="M 487.981828 669.543403 
L 485.092189 671.400098 
" style="fill: none; stroke: #000000; stroke-width: 0.8; stroke-linecap: square"/>
    </g>
    <g id="t3d_x_25">
     <text x="479.336" y="693.797" style="font-size:10.763px;font-family:'Liberation Sans',sans-serif;text-rendering:geometricPrecision;text-anchor:middle" textLength="13.298" lengthAdjust="spacingAndGlyphs">20</text>
    </g>
   </g>
   <g id="xtick_38">
    <g id="line2d_54">
     <path d="M 457.100815 662.299768 
L 454.16503 664.121929 
" style="fill: none; stroke: #000000; stroke-width: 0.8; stroke-linecap: square"/>
    </g>
    <g id="t3d_x_26">
     <text x="448.376" y="686.368" style="font-size:10.763px;font-family:'Liberation Sans',sans-serif;text-rendering:geometricPrecision;text-anchor:middle" textLength="13.298" lengthAdjust="spacingAndGlyphs">40</text>
    </g>
   </g>
   <g id="xtick_39">
    <g id="line2d_55">
     <path d="M 426.790845 655.190079 
L 423.811109 656.978663 
" style="fill: none; stroke: #000000; stroke-width: 0.8; stroke-linecap: square"/>
    </g>
    <g id="t3d_x_27">
     <text x="417.991" y="679.077" style="font-size:10.763px;font-family:'Liberation Sans',sans-serif;text-rendering:geometricPrecision;text-anchor:middle" textLength="13.298" lengthAdjust="spacingAndGlyphs">60</text>
    </g>
   </g>
  </g>
  <g id="axis3d_5">
   <g id="line2d_56">
    <path d="M 711.023945 623.545218 
L 609.383252 698.894739 
" style="fill: none; stroke: #000000; stroke-width: 0.8; stroke-linecap: square"/>
   </g>
   <g id="xtick_40">
    <g id="line2d_57">
     <path d="M 704.407686 626.996485 
L 709.004683 627.953112 
" style="fill: none; stroke: #000000; stroke-width: 0.8; stroke-linecap: square"/>
    </g>
    <g id="t3d_y_28">
     <text x="718.829" y="648.651" style="font-size:10.763px;font-family:'Liberation Sans',sans-serif;text-rendering:geometricPrecision;text-anchor:middle" textLength="22.054" lengthAdjust="spacingAndGlyphs">−40</text>
    </g>
   </g>
   <g id="xtick_41">
    <g id="line2d_58">
     <path d="M 693.585421 635.003514 
L 698.21839 635.981149 
" style="fill: none; stroke: #000000; stroke-width: 0.8; stroke-linecap: square"/>
    </g>
    <g id="t3d_y_29">
     <text x="708.135" y="656.811" style="font-size:10.763px;font-family:'Liberation Sans',sans-serif;text-rendering:geometricPrecision;text-anchor:middle" textLength="22.054" lengthAdjust="spacingAndGlyphs">−30</text>
    </g>
   </g>
   <g id="xtick_42">
    <g id="line2d_59">
     <path d="M 682.524325 643.187247 
L 687.193742 644.186591 
" style="fill: none; stroke: #000000; stroke-width: 0.8; stroke-linecap: square"/>
    </g>
    <g id="t3d_y_30">
     <text x="697.203" y="665.152" style="font-size:10.763px;font-family:'Liberation Sans',sans-serif;text-rendering:geometricPrecision;text-anchor:middle" textLength="22.054" lengthAdjust="spacingAndGlyphs">−20</text>
    </g>
   </g>
   <g id="xtick_43">
    <g id="line2d_60">
     <path d="M 671.216402 651.553598 
L 675.92275 652.575382 
" style="fill: none; stroke: #000000; stroke-width: 0.8; stroke-linecap: square"/>
    </g>
    <g id="t3d_y_31">
     <text x="686.028" y="673.680" style="font-size:10.763px;font-family:'Liberation Sans',sans-serif;text-rendering:geometricPrecision;text-anchor:middle" textLength="22.054" lengthAdjust="spacingAndGlyphs">−10</text>
    </g>
   </g>
   <g id="xtick_44">
    <g id="line2d_61">
     <path d="M 659.653298 660.108749 
L 664.397062 661.153738 
" style="fill: none; stroke: #000000; stroke-width: 0.8; stroke-linecap: square"/>
    </g>
    <g id="t3d_y_32">
     <text x="674.600" y="682.400" style="font-size:10.763px;font-family:'Liberation Sans',sans-serif;text-rendering:geometricPrecision;text-anchor:middle" textLength="6.649" lengthAdjust="spacingAndGlyphs">0</text>
    </g>
   </g>
   <g id="xtick_45">
    <g id="line2d_62">
     <path d="M 647.826276 668.859165 
L 652.607949 669.928157 
" style="fill: none; stroke: #000000; stroke-width: 0.8; stroke-linecap: square"/>
    </g>
    <g id="t3d_y_33">
     <text x="662.910" y="691.319" style="font-size:10.763px;font-family:'Liberation Sans',sans-serif;text-rendering:geometricPrecision;text-anchor:middle" textLength="13.298" lengthAdjust="spacingAndGlyphs">10</text>
    </g>
   </g>
   <g id="xtick_46">
    <g id="line2d_63">
     <path d="M 635.726197 677.811606 
L 640.546273 678.905439 
" style="fill: none; stroke: #000000; stroke-width: 0.8; stroke-linecap: square"/>
    </g>
    <g id="t3d_y_34">
     <text x="650.950" y="700.446" style="font-size:10.763px;font-family:'Liberation Sans',sans-serif;text-rendering:geometricPrecision;text-anchor:middle" textLength="13.298" lengthAdjust="spacingAndGlyphs">20</text>
    </g>
   </g>
   <g id="xtick_47">
    <g id="line2d_64">
     <path d="M 623.343492 686.973152 
L 628.202472 688.092701 
" style="fill: none; stroke: #000000; stroke-width: 0.8; stroke-linecap: square"/>
    </g>
    <g id="t3d_y_35">
     <text x="638.710" y="709.785" style="font-size:10.763px;font-family:'Liberation Sans',sans-serif;text-rendering:geometricPrecision;text-anchor:middle" textLength="13.298" lengthAdjust="spacingAndGlyphs">30</text>
    </g>
   </g>
   <g id="xtick_48">
    <g id="line2d_65">
     <path d="M 610.668145 696.351216 
L 615.56653 697.497398 
" style="fill: none; stroke: #000000; stroke-width: 0.8; stroke-linecap: square"/>
    </g>
    <g id="t3d_y_36">
     <text x="626.180" y="719.346" style="font-size:10.763px;font-family:'Liberation Sans',sans-serif;text-rendering:geometricPrecision;text-anchor:middle" textLength="13.298" lengthAdjust="spacingAndGlyphs">40</text>
    </g>
   </g>
  </g>
  <g id="axis3d_6">
   <g id="line2d_66">
    <path d="M 711.023945 623.545218 
L 715.407503 471.991803 
" style="fill: none; stroke: #000000; stroke-width: 0.8; stroke-linecap: square"/>
   </g>
   <g id="xtick_49">
    <g id="line2d_67">
     <path d="M 709.619362 619.010166 
L 714.203367 619.952313 
" style="fill: none; stroke: #000000; stroke-width: 0.8; stroke-linecap: square"/>
    </g>
    <g id="t3d_z_37">
     <text x="730.896" y="625.730" style="font-size:10.763px;font-family:'Liberation Sans',sans-serif;text-rendering:geometricPrecision;text-anchor:middle" textLength="22.054" lengthAdjust="spacingAndGlyphs">−30</text>
    </g>
   </g>
   <g id="xtick_50">
    <g id="line2d_68">
     <path d="M 710.189023 599.103486 
L 714.79207 600.023445 
" style="fill: none; stroke: #000000; stroke-width: 0.8; stroke-linecap: square"/>
    </g>
    <g id="t3d_z_38">
     <text x="731.544" y="605.860" style="font-size:10.763px;font-family:'Liberation Sans',sans-serif;text-rendering:geometricPrecision;text-anchor:middle" textLength="22.054" lengthAdjust="spacingAndGlyphs">−20</text>
    </g>
   </g>
   <g id="xtick_51">
    <g id="line2d_69">
     <path d="M 710.763245 579.037444 
L 715.385492 579.93483 
" style="fill: none; stroke: #000000; stroke-width: 0.8; stroke-linecap: square"/>
    </g>
    <g id="t3d_z_39">
     <text x="732.196" y="585.831" style="font-size:10.763px;font-family:'Liberation Sans',sans-serif;text-rendering:geometricPrecision;text-anchor:middle" textLength="22.054" lengthAdjust="spacingAndGlyphs">−10</text>
    </g>
   </g>
   <g id="xtick_52">
    <g id="line2d_70">
     <path d="M 711.342083 558.810121 
L 715.983691 559.684539 
" style="fill: none; stroke: #000000; stroke-width: 0.8; stroke-linecap: square"/>
    </g>
    <g id="t3d_z_40">
     <text x="732.854" y="565.641" style="font-size:10.763px;font-family:'Liberation Sans',sans-serif;text-rendering:geometricPrecision;text-anchor:middle" textLength="6.649" lengthAdjust="spacingAndGlyphs">0</text>
    </g>
   </g>
   <g id="xtick_53">
    <g id="line2d_71">
     <path d="M 711.925591 538.419563 
L 716.586723 539.270613 
" style="fill: none; stroke: #000000; stroke-width: 0.8; stroke-linecap: square"/>
    </g>
    <g id="t3d_z_41">
     <text x="733.517" y="545.289" style="font-size:10.763px;font-family:'Liberation Sans',sans-serif;text-rendering:geometricPrecision;text-anchor:middle" textLength="13.298" lengthAdjust="spacingAndGlyphs">10</text>
    </g>
   </g>
   <g id="xtick_54">
    <g id="line2d_72">
     <path d="M 712.513828 517.863787 
L 717.194647 518.69106 
" style="fill: none; stroke: #000000; stroke-width: 0.8; stroke-linecap: square"/>
    </g>
    <g id="t3d_z_42">
     <text x="734.186" y="524.772" style="font-size:10.763px;font-family:'Liberation Sans',sans-serif;text-rendering:geometricPrecision;text-anchor:middle" textLength="13.298" lengthAdjust="spacingAndGlyphs">20</text>
    </g>
   </g>
   <g id="xtick_55">
    <g id="line2d_73">
     <path d="M 713.10685 497.140776 
L 717.807524 497.943856 
" style="fill: none; stroke: #000000; stroke-width: 0.8; stroke-linecap: square"/>
    </g>
    <g id="t3d_z_43">
     <text x="734.860" y="504.089" style="font-size:10.763px;font-family:'Liberation Sans',sans-serif;text-rendering:geometricPrecision;text-anchor:middle" textLength="13.298" lengthAdjust="spacingAndGlyphs">30</text>
    </g>
   </g>
   <g id="xtick_56">
    <g id="line2d_74">
     <path d="M 713.704717 476.248481 
L 718.425415 477.026945 
" style="fill: none; stroke: #000000; stroke-width: 0.8; stroke-linecap: square"/>
    </g>
    <g id="t3d_z_44">
     <text x="735.539" y="483.237" style="font-size:10.763px;font-family:'Liberation Sans',sans-serif;text-rendering:geometricPrecision;text-anchor:middle" textLength="13.298" lengthAdjust="spacingAndGlyphs">40</text>
    </g>
   </g>
  </g>
  <g id="axes_4">
   <g id="text_37">
    <text x="562.135" y="390.902" style="font-size:12.916px;font-family:'Liberation Sans',sans-serif;text-rendering:geometricPrecision;text-anchor:middle" textLength="56.326" lengthAdjust="spacingAndGlyphs">3D t-SNE</text>
   </g>
   <g id="legend_4">
    <g id="patch_23">
     <path d="M 560.740743 451.278188 
L 724.836766 451.278188 
Q 726.926766 451.278188 726.926766 449.188188 
L 726.926766 404.217266 
Q 726.926766 402.127266 724.836766 402.127266 
L 560.740743 402.127266 
Q 558.650743 402.127266 558.650743 404.217266 
L 558.650743 449.188188 
Q 558.650743 451.278188 560.740743 451.278188 
z
" style="fill: #ffffff; opacity: 0.8; stroke: #cccccc; stroke-linejoin: miter"/>
    </g>
    <g id="PathCollection_16">
     <g>
      <use href="#m33d249efb2" x="573.280743" y="411.504508" style="fill: #1f77b4; fill-opacity: 0.500; stroke: #1f77b4; stroke-opacity: 0.600; stroke-width: 0.80"/>
     </g>
    </g>
    <g id="text_38">
     <text x="592.091" y="414.248" style="font-size:10.763px;font-family:'Liberation Sans',sans-serif;text-rendering:geometricPrecision;text-anchor:start" textLength="68.232" lengthAdjust="spacingAndGlyphs">Ground Truth</text>
    </g>
    <g id="PathCollection_17">
     <g>
      <use href="#ma6496d7aa1" x="573.280743" y="426.843149" style="fill: #ff7f0e; fill-opacity: 0.500; stroke: #ff7f0e; stroke-opacity: 0.600; stroke-width: 0.80"/>
     </g>
    </g>
    <g id="text_39">
     <text x="592.091" y="429.586" style="font-size:10.763px;font-family:'Liberation Sans',sans-serif;text-rendering:geometricPrecision;text-anchor:start" textLength="55.441" lengthAdjust="spacingAndGlyphs">Generated</text>
    </g>
    <g id="PathCollection_18">
     <g>
      <use href="#m347166228d" x="573.280743" y="442.18179" style="fill: #2ca02c; fill-opacity: 0.500; stroke: #2ca02c; stroke-opacity: 0.600; stroke-width: 0.80"/>
     </g>
    </g>
    <g id="text_40">
     <text x="592.091" y="444.925" style="font-size:10.763px;font-family:'Liberation Sans',sans-serif;text-rendering:geometricPrecision;text-anchor:start" textLength="130.656" lengthAdjust="spacingAndGlyphs">Unconditional Generated</text>
    </g>
   </g>
  </g>
  <g id="axes_5">
   <g id="PathCollection_19">
    <defs>
     <path id="C0_0_be2a2684d0" d="M 0 2.44949 
C 0.649612 2.44949 1.272706 2.191396 1.732051 1.732051 
C 2.191396 1.272706 2.44949 0.649612 2.44949 -0 
C 2.44949 -0.649612 2.191396 -1.272706 1.732051 -1.732051 
C 1.272706 -2.191396 0.649612 -2.44949 0 -2.44949 
C -0.649612 -2.44949 -1.272706 -2.191396 -1.732051 -1.732051 
C -2.191396 -1.272706 -2.44949 -0.649612 -2.44949 0 
C -2.44949 0.649612 -2.191396 1.272706 -1.732051 1.732051 
C -1.272706 2.191396 -0.649612 2.44949 0 2.44949 
z
"/>
    </defs>
    <use href="#C0_0_be2a2684d0" x="175.108696" y="514.23913" style="fill: #ff7f0e; fill-opacity: 0.500; stroke: #ff7f0e; stroke-opacity: 0.600; stroke-width: 0.80"/>
    <use href="#C0_0_be2a2684d0" x="235.869565" y="515.543478" style="fill: #ff7f0e; fill-opacity: 0.500; stroke: #ff7f0e; stroke-opacity: 0.600; stroke-width: 0.80"/>
    <use href="#C0_0_be2a2684d0" x="212.608696" y="531.195652" style="fill: #ff7f0e; fill-opacity: 0.500; stroke: #ff7f0e; stroke-opacity: 0.600; stroke-width: 0.80"/>
    <use href="#C0_0_be2a2684d0" x="237.826087" y="533.152174" style="fill: #ff7f0e; fill-opacity: 0.500; stroke: #ff7f0e; stroke-opacity: 0.600; stroke-width: 0.80"/>
    <use href="#C0_0_be2a2684d0" x="191.413043" y="549.456522" style="fill: #ff7f0e; fill-opacity: 0.500; stroke: #ff7f0e; stroke-opacity: 0.600; stroke-width: 0.80"/>
    <use href="#C0_0_be2a2684d0" x="235.869565" y="545.543478" style="fill: #ff7f0e; fill-opacity: 0.500; stroke: #ff7f0e; stroke-opacity: 0.600; stroke-width: 0.80"/>
    <use href="#C0_0_be2a2684d0" x="232.173913" y="556.086957" style="fill: #ff7f0e; fill-opacity: 0.500; stroke: #ff7f0e; stroke-opacity: 0.600; stroke-width: 0.80"/>
    <use href="#C0_0_be2a2684d0" x="179.347826" y="565.434783" style="fill: #ff7f0e; fill-opacity: 0.750; stroke: #ff7f0e; stroke-opacity: 0.900; stroke-width: 0.80"/>
    <use href="#C0_0_be2a2684d0" x="218.586957" y="572.826087" style="fill: #ff7f0e; fill-opacity: 0.500; stroke: #ff7f0e; stroke-opacity: 0.600; stroke-width: 0.80"/>
    <use href="#C0_0_be2a2684d0" x="243.586957" y="514.891304" style="fill: #ff7f0e; fill-opacity: 0.750; stroke: #ff7f0e; stroke-opacity: 0.900; stroke-width: 0.80"/>
    <use href="#C0_0_be2a2684d0" x="252.5" y="527.282609" style="fill: #ff7f0e; fill-opacity: 0.500; stroke: #ff7f0e; stroke-opacity: 0.600; stroke-width: 0.80"/>
    <use href="#C0_0_be2a2684d0" x="266.413043" y="544.891304" style="fill: #ff7f0e; fill-opacity: 0.500; stroke: #ff7f0e; stroke-opacity: 0.600; stroke-width: 0.80"/>
    <use href="#C0_0_be2a2684d0" x="244.891304" y="555.434783" style="fill: #ff7f0e; fill-opacity: 0.500; stroke: #ff7f0e; stroke-opacity: 0.600; stroke-width: 0.80"/>
    <use href="#C0_0_be2a2684d0" x="260.543478" y="552.173913" style="fill: #ff7f0e; fill-opacity: 0.750; stroke: #ff7f0e; stroke-opacity: 0.900; stroke-width: 0.80"/>
    <use href="#C0_0_be2a2684d0" x="264.456522" y="556.086957" style="fill: #ff7f0e; fill-opacity: 0.750; stroke: #ff7f0e; stroke-opacity: 0.900; stroke-width: 0.80"/>
    <use href="#C0_0_be2a2684d0" x="265.108696" y="558.695652" style="fill: #ff7f0e; fill-opacity: 0.750; stroke: #ff7f0e; stroke-opacity: 0.900; stroke-width: 0.80"/>
    <use href="#C0_0_be2a2684d0" x="251.413043" y="561.521739" style="fill: #ff7f0e; fill-opacity: 0.500; stroke: #ff7f0e; stroke-opacity: 0.600; stroke-width: 0.80"/>
    <use href="#C0_0_be2a2684d0" x="255.326087" y="571.086957" style="fill: #ff7f0e; fill-opacity: 0.500; stroke: #ff7f0e; stroke-opacity: 0.600; stroke-width: 0.80"/>
    <use href="#C0_0_be2a2684d0" x="247.5" y="571.73913" style="fill: #ff7f0e; fill-opacity: 0.500; stroke: #ff7f0e; stroke-opacity: 0.600; stroke-width: 0.80"/>
    <use href="#C0_0_be2a2684d0" x="267.065217" y="576.304348" style="fill: #ff7f0e; fill-opacity: 0.500; stroke: #ff7f0e; stroke-opacity: 0.600; stroke-width: 0.80"/>
    <use href="#C0_0_be2a2684d0" x="205.76087" y="582.391304" style="fill: #ff7f0e; fill-opacity: 0.500; stroke: #ff7f0e; stroke-opacity: 0.600; stroke-width: 0.80"/>
    <use href="#C0_0_be2a2684d0" x="211.630435" y="580.108696" style="fill: #ff7f0e; fill-opacity: 0.500; stroke: #ff7f0e; stroke-opacity: 0.600; stroke-width: 0.80"/>
    <use href="#C0_0_be2a2684d0" x="236.413043" y="579.782609" style="fill: #ff7f0e; fill-opacity: 0.500; stroke: #ff7f0e; stroke-opacity: 0.600; stroke-width: 0.80"/>
    <use href="#C0_0_be2a2684d0" x="240.326087" y="584.347826" style="fill: #ff7f0e; fill-opacity: 0.500; stroke: #ff7f0e; stroke-opacity: 0.600; stroke-width: 0.80"/>
    <use href="#C0_0_be2a2684d0" x="255.434783" y="585" style="fill: #ff7f0e; fill-opacity: 0.500; stroke: #ff7f0e; stroke-opacity: 0.600; stroke-width: 0.80"/>
    <use href="#C0_0_be2a2684d0" x="209.673913" y="600.76087" style="fill: #ff7f0e; fill-opacity: 0.500; stroke: #ff7f0e; stroke-opacity: 0.600; stroke-width: 0.80"/>
    <use href="#C0_0_be2a2684d0" x="216.195652" y="608.586957" style="fill: #ff7f0e; fill-opacity: 0.500; stroke: #ff7f0e; stroke-opacity: 0.600; stroke-width: 0.80"/>
    <use href="#C0_0_be2a2684d0" x="234.456522" y="602.065217" style="fill: #ff7f0e; fill-opacity: 0.500; stroke: #ff7f0e; stroke-opacity: 0.600; stroke-width: 0.80"/>
    <use href="#C0_0_be2a2684d0" x="238.369565" y="605.326087" style="fill: #ff7f0e; fill-opacity: 0.500; stroke: #ff7f0e; stroke-opacity: 0.600; stroke-width: 0.80"/>
    <use href="#C0_0_be2a2684d0" x="236.413043" y="611.847826" style="fill: #ff7f0e; fill-opacity: 0.500; stroke: #ff7f0e; stroke-opacity: 0.600; stroke-width: 0.80"/>
    <use href="#C0_0_be2a2684d0" x="257.391304" y="602.065217" style="fill: #ff7f0e; fill-opacity: 0.500; stroke: #ff7f0e; stroke-opacity: 0.600; stroke-width: 0.80"/>
    <use href="#C0_0_be2a2684d0" x="228.586957" y="611.847826" style="fill: #ff7f0e; fill-opacity: 0.500; stroke: #ff7f0e; stroke-opacity: 0.600; stroke-width: 0.80"/>
    <use href="#C0_0_be2a2684d0" x="242.934783" y="616.413043" style="fill: #ff7f0e; fill-opacity: 0.500; stroke: #ff7f0e; stroke-opacity: 0.600; stroke-width: 0.80"/>
    <use href="#C0_0_be2a2684d0" x="217.5" y="617.717391" style="fill: #ff7f0e; fill-opacity: 0.500; stroke: #ff7f0e; stroke-opacity: 0.600; stroke-width: 0.80"/>
    <use href="#C0_0_be2a2684d0" x="219.456522" y="620.978261" style="fill: #ff7f0e; fill-opacity: 0.500; stroke: #ff7f0e; stroke-opacity: 0.600; stroke-width: 0.80"/>
    <use href="#C0_0_be2a2684d0" x="212.282609" y="622.282609" style="fill: #ff7f0e; fill-opacity: 0.500; stroke: #ff7f0e; stroke-opacity: 0.600; stroke-width: 0.80"/>
    <use href="#C0_0_be2a2684d0" x="214.23913" y="632.826087" style="fill: #ff7f0e; fill-opacity: 0.500; stroke: #ff7f0e; stroke-opacity: 0.600; stroke-width: 0.80"/>
    <use href="#C0_0_be2a2684d0" x="211.630435" y="642.608696" style="fill: #ff7f0e; fill-opacity: 0.500; stroke: #ff7f0e; stroke-opacity: 0.600; stroke-width: 0.80"/>
    <use href="#C0_0_be2a2684d0" x="216.195652" y="647.173913" style="fill: #ff7f0e; fill-opacity: 0.500; stroke: #ff7f0e; stroke-opacity: 0.600; stroke-width: 0.80"/>
    <use href="#C0_0_be2a2684d0" x="177.934783" y="579.347826" style="fill: #ff7f0e; fill-opacity: 0.500; stroke: #ff7f0e; stroke-opacity: 0.600; stroke-width: 0.80"/>
   </g>
   <g id="PathCollection_20">
    <defs>
     <path id="C1_0_be2a2684d0" d="M 0 2.44949 
C 0.649612 2.44949 1.272706 2.191396 1.732051 1.732051 
C 2.191396 1.272706 2.44949 0.649612 2.44949 -0 
C 2.44949 -0.649612 2.191396 -1.272706 1.732051 -1.732051 
C 1.272706 -2.191396 0.649612 -2.44949 0 -2.44949 
C -0.649612 -2.44949 -1.272706 -2.191396 -1.732051 -1.732051 
C -2.191396 -1.272706 -2.44949 -0.649612 -2.44949 0 
C -2.44949 0.649612 -2.191396 1.272706 -1.732051 1.732051 
C -1.272706 2.191396 -0.649612 2.44949 0 2.44949 
z
"/>
    </defs>
    <use href="#C1_0_be2a2684d0" x="174.130435" y="516.847826" style="fill: #1f77b4; fill-opacity: 0.750; stroke: #1f77b4; stroke-opacity: 0.900; stroke-width: 0.80"/>
    <use href="#C1_0_be2a2684d0" x="234.565217" y="519.130435" style="fill: #1f77b4; fill-opacity: 0.750; stroke: #1f77b4; stroke-opacity: 0.900; stroke-width: 0.80"/>
    <use href="#C1_0_be2a2684d0" x="211.304348" y="534.021739" style="fill: #1f77b4; fill-opacity: 0.500; stroke: #1f77b4; stroke-opacity: 0.600; stroke-width: 0.80"/>
    <use href="#C1_0_be2a2684d0" x="236.956522" y="536.413043" style="fill: #1f77b4; fill-opacity: 0.500; stroke: #1f77b4; stroke-opacity: 0.600; stroke-width: 0.80"/>
    <use href="#C1_0_be2a2684d0" x="190.108696" y="556.086957" style="fill: #1f77b4; fill-opacity: 0.500; stroke: #1f77b4; stroke-opacity: 0.600; stroke-width: 0.80"/>
    <use href="#C1_0_be2a2684d0" x="235.217391" y="548.152174" style="fill: #1f77b4; fill-opacity: 0.750; stroke: #1f77b4; stroke-opacity: 0.900; stroke-width: 0.80"/>
    <use href="#C1_0_be2a2684d0" x="230.652174" y="561.521739" style="fill: #1f77b4; fill-opacity: 0.500; stroke: #1f77b4; stroke-opacity: 0.600; stroke-width: 0.80"/>
    <use href="#C1_0_be2a2684d0" x="178.695652" y="570.217391" style="fill: #1f77b4; fill-opacity: 0.750; stroke: #1f77b4; stroke-opacity: 0.900; stroke-width: 0.80"/>
    <use href="#C1_0_be2a2684d0" x="215.978261" y="574.130435" style="fill: #1f77b4; fill-opacity: 0.500; stroke: #1f77b4; stroke-opacity: 0.600; stroke-width: 0.80"/>
    <use href="#C1_0_be2a2684d0" x="241.630435" y="518.804348" style="fill: #1f77b4; fill-opacity: 0.750; stroke: #1f77b4; stroke-opacity: 0.900; stroke-width: 0.80"/>
    <use href="#C1_0_be2a2684d0" x="251.086957" y="531.195652" style="fill: #1f77b4; fill-opacity: 0.500; stroke: #1f77b4; stroke-opacity: 0.600; stroke-width: 0.80"/>
    <use href="#C1_0_be2a2684d0" x="270.326087" y="543.586957" style="fill: #1f77b4; fill-opacity: 0.750; stroke: #1f77b4; stroke-opacity: 0.900; stroke-width: 0.80"/>
    <use href="#C1_0_be2a2684d0" x="265.76087" y="547.5" style="fill: #1f77b4; fill-opacity: 0.500; stroke: #1f77b4; stroke-opacity: 0.600; stroke-width: 0.80"/>
    <use href="#C1_0_be2a2684d0" x="248.152174" y="555" style="fill: #1f77b4; fill-opacity: 0.500; stroke: #1f77b4; stroke-opacity: 0.600; stroke-width: 0.80"/>
    <use href="#C1_0_be2a2684d0" x="256.630435" y="554.130435" style="fill: #1f77b4; fill-opacity: 0.500; stroke: #1f77b4; stroke-opacity: 0.600; stroke-width: 0.80"/>
    <use href="#C1_0_be2a2684d0" x="259.23913" y="556.73913" style="fill: #1f77b4; fill-opacity: 0.750; stroke: #1f77b4; stroke-opacity: 0.900; stroke-width: 0.80"/>
    <use href="#C1_0_be2a2684d0" x="261.847826" y="560.652174" style="fill: #1f77b4; fill-opacity: 0.750; stroke: #1f77b4; stroke-opacity: 0.900; stroke-width: 0.80"/>
    <use href="#C1_0_be2a2684d0" x="262.5" y="562.608696" style="fill: #1f77b4; fill-opacity: 0.750; stroke: #1f77b4; stroke-opacity: 0.900; stroke-width: 0.80"/>
    <use href="#C1_0_be2a2684d0" x="258.586957" y="564.565217" style="fill: #1f77b4; fill-opacity: 0.500; stroke: #1f77b4; stroke-opacity: 0.600; stroke-width: 0.80"/>
    <use href="#C1_0_be2a2684d0" x="243.586957" y="561.304348" style="fill: #1f77b4; fill-opacity: 0.750; stroke: #1f77b4; stroke-opacity: 0.900; stroke-width: 0.80"/>
    <use href="#C1_0_be2a2684d0" x="241.630435" y="562.608696" style="fill: #1f77b4; fill-opacity: 0.500; stroke: #1f77b4; stroke-opacity: 0.600; stroke-width: 0.80"/>
    <use href="#C1_0_be2a2684d0" x="249.456522" y="565.869565" style="fill: #1f77b4; fill-opacity: 0.500; stroke: #1f77b4; stroke-opacity: 0.600; stroke-width: 0.80"/>
    <use href="#C1_0_be2a2684d0" x="252.717391" y="573.043478" style="fill: #1f77b4; fill-opacity: 0.750; stroke: #1f77b4; stroke-opacity: 0.900; stroke-width: 0.80"/>
    <use href="#C1_0_be2a2684d0" x="261.195652" y="569.782609" style="fill: #1f77b4; fill-opacity: 0.500; stroke: #1f77b4; stroke-opacity: 0.600; stroke-width: 0.80"/>
    <use href="#C1_0_be2a2684d0" x="245.543478" y="575.652174" style="fill: #1f77b4; fill-opacity: 0.750; stroke: #1f77b4; stroke-opacity: 0.900; stroke-width: 0.80"/>
    <use href="#C1_0_be2a2684d0" x="256.630435" y="576.956522" style="fill: #1f77b4; fill-opacity: 0.500; stroke: #1f77b4; stroke-opacity: 0.600; stroke-width: 0.80"/>
    <use href="#C1_0_be2a2684d0" x="263.152174" y="577.608696" style="fill: #1f77b4; fill-opacity: 0.500; stroke: #1f77b4; stroke-opacity: 0.600; stroke-width: 0.80"/>
    <use href="#C1_0_be2a2684d0" x="203.043478" y="587.608696" style="fill: #1f77b4; fill-opacity: 0.500; stroke: #1f77b4; stroke-opacity: 0.600; stroke-width: 0.80"/>
    <use href="#C1_0_be2a2684d0" x="211.956522" y="584.347826" style="fill: #1f77b4; fill-opacity: 0.500; stroke: #1f77b4; stroke-opacity: 0.600; stroke-width: 0.80"/>
    <use href="#C1_0_be2a2684d0" x="225.978261" y="588.913043" style="fill: #1f77b4; fill-opacity: 0.500; stroke: #1f77b4; stroke-opacity: 0.600; stroke-width: 0.80"/>
    <use href="#C1_0_be2a2684d0" x="232.5" y="582.391304" style="fill: #1f77b4; fill-opacity: 0.500; stroke: #1f77b4; stroke-opacity: 0.600; stroke-width: 0.80"/>
    <use href="#C1_0_be2a2684d0" x="231.195652" y="588.913043" style="fill: #1f77b4; fill-opacity: 0.500; stroke: #1f77b4; stroke-opacity: 0.600; stroke-width: 0.80"/>
    <use href="#C1_0_be2a2684d0" x="233.152174" y="590.326087" style="fill: #1f77b4; fill-opacity: 0.500; stroke: #1f77b4; stroke-opacity: 0.600; stroke-width: 0.80"/>
    <use href="#C1_0_be2a2684d0" x="239.021739" y="587.608696" style="fill: #1f77b4; fill-opacity: 0.500; stroke: #1f77b4; stroke-opacity: 0.600; stroke-width: 0.80"/>
    <use href="#C1_0_be2a2684d0" x="248.913043" y="590.978261" style="fill: #1f77b4; fill-opacity: 0.500; stroke: #1f77b4; stroke-opacity: 0.600; stroke-width: 0.80"/>
    <use href="#C1_0_be2a2684d0" x="254.130435" y="588.913043" style="fill: #1f77b4; fill-opacity: 0.750; stroke: #1f77b4; stroke-opacity: 0.900; stroke-width: 0.80"/>
    <use href="#C1_0_be2a2684d0" x="262.608696" y="586.304348" style="fill: #1f77b4; fill-opacity: 0.500; stroke: #1f77b4; stroke-opacity: 0.600; stroke-width: 0.80"/>
    <use href="#C1_0_be2a2684d0" x="260.652174" y="581.086957" style="fill: #1f77b4; fill-opacity: 0.500; stroke: #1f77b4; stroke-opacity: 0.600; stroke-width: 0.80"/>
    <use href="#C1_0_be2a2684d0" x="264.565217" y="578.478261" style="fill: #1f77b4; fill-opacity: 0.500; stroke: #1f77b4; stroke-opacity: 0.600; stroke-width: 0.80"/>
    <use href="#C1_0_be2a2684d0" x="252.826087" y="594.23913" style="fill: #1f77b4; fill-opacity: 0.500; stroke: #1f77b4; stroke-opacity: 0.600; stroke-width: 0.80"/>
    <use href="#C1_0_be2a2684d0" x="250.869565" y="595.543478" style="fill: #1f77b4; fill-opacity: 0.500; stroke: #1f77b4; stroke-opacity: 0.600; stroke-width: 0.80"/>
    <use href="#C1_0_be2a2684d0" x="245.869565" y="597.5" style="fill: #1f77b4; fill-opacity: 0.500; stroke: #1f77b4; stroke-opacity: 0.600; stroke-width: 0.80"/>
    <use href="#C1_0_be2a2684d0" x="239.673913" y="594.891304" style="fill: #1f77b4; fill-opacity: 0.500; stroke: #1f77b4; stroke-opacity: 0.600; stroke-width: 0.80"/>
    <use href="#C1_0_be2a2684d0" x="226.630435" y="595.543478" style="fill: #1f77b4; fill-opacity: 0.500; stroke: #1f77b4; stroke-opacity: 0.600; stroke-width: 0.80"/>
    <use href="#C1_0_be2a2684d0" x="220.108696" y="595.543478" style="fill: #1f77b4; fill-opacity: 0.500; stroke: #1f77b4; stroke-opacity: 0.600; stroke-width: 0.80"/>
    <use href="#C1_0_be2a2684d0" x="214.565217" y="598.804348" style="fill: #1f77b4; fill-opacity: 0.500; stroke: #1f77b4; stroke-opacity: 0.600; stroke-width: 0.80"/>
    <use href="#C1_0_be2a2684d0" x="207.065217" y="605.326087" style="fill: #1f77b4; fill-opacity: 0.500; stroke: #1f77b4; stroke-opacity: 0.600; stroke-width: 0.80"/>
    <use href="#C1_0_be2a2684d0" x="210.326087" y="604.347826" style="fill: #1f77b4; fill-opacity: 0.500; stroke: #1f77b4; stroke-opacity: 0.600; stroke-width: 0.80"/>
    <use href="#C1_0_be2a2684d0" x="233.804348" y="605.326087" style="fill: #1f77b4; fill-opacity: 0.500; stroke: #1f77b4; stroke-opacity: 0.600; stroke-width: 0.80"/>
    <use href="#C1_0_be2a2684d0" x="236.847826" y="607.934783" style="fill: #1f77b4; fill-opacity: 0.750; stroke: #1f77b4; stroke-opacity: 0.900; stroke-width: 0.80"/>
    <use href="#C1_0_be2a2684d0" x="254.130435" y="604.021739" style="fill: #1f77b4; fill-opacity: 0.500; stroke: #1f77b4; stroke-opacity: 0.600; stroke-width: 0.80"/>
    <use href="#C1_0_be2a2684d0" x="225.978261" y="613.152174" style="fill: #1f77b4; fill-opacity: 0.500; stroke: #1f77b4; stroke-opacity: 0.600; stroke-width: 0.80"/>
    <use href="#C1_0_be2a2684d0" x="230.543478" y="618.369565" style="fill: #1f77b4; fill-opacity: 0.500; stroke: #1f77b4; stroke-opacity: 0.600; stroke-width: 0.80"/>
    <use href="#C1_0_be2a2684d0" x="233.804348" y="615.76087" style="fill: #1f77b4; fill-opacity: 0.500; stroke: #1f77b4; stroke-opacity: 0.600; stroke-width: 0.80"/>
    <use href="#C1_0_be2a2684d0" x="240.326087" y="620.652174" style="fill: #1f77b4; fill-opacity: 0.500; stroke: #1f77b4; stroke-opacity: 0.600; stroke-width: 0.80"/>
    <use href="#C1_0_be2a2684d0" x="214.565217" y="613.804348" style="fill: #1f77b4; fill-opacity: 0.500; stroke: #1f77b4; stroke-opacity: 0.600; stroke-width: 0.80"/>
    <use href="#C1_0_be2a2684d0" x="214.23913" y="617.065217" style="fill: #1f77b4; fill-opacity: 0.500; stroke: #1f77b4; stroke-opacity: 0.600; stroke-width: 0.80"/>
    <use href="#C1_0_be2a2684d0" x="216.195652" y="621.630435" style="fill: #1f77b4; fill-opacity: 0.500; stroke: #1f77b4; stroke-opacity: 0.600; stroke-width: 0.80"/>
    <use href="#C1_0_be2a2684d0" x="209.021739" y="624.891304" style="fill: #1f77b4; fill-opacity: 0.750; stroke: #1f77b4; stroke-opacity: 0.900; stroke-width: 0.80"/>
    <use href="#C1_0_be2a2684d0" x="210.652174" y="635.434783" style="fill: #1f77b4; fill-opacity: 0.500; stroke: #1f77b4; stroke-opacity: 0.600; stroke-width: 0.80"/>
    <use href="#C1_0_be2a2684d0" x="208.043478" y="641.956522" style="fill: #1f77b4; fill-opacity: 0.500; stroke: #1f77b4; stroke-opacity: 0.600; stroke-width: 0.80"/>
    <use href="#C1_0_be2a2684d0" x="208.043478" y="650.217391" style="fill: #1f77b4; fill-opacity: 0.750; stroke: #1f77b4; stroke-opacity: 0.900; stroke-width: 0.80"/>
    <use href="#C1_0_be2a2684d0" x="213.26087" y="649.565217" style="fill: #1f77b4; fill-opacity: 0.500; stroke: #1f77b4; stroke-opacity: 0.600; stroke-width: 0.80"/>
    <use href="#C1_0_be2a2684d0" x="175.108696" y="580.869565" style="fill: #1f77b4; fill-opacity: 0.500; stroke: #1f77b4; stroke-opacity: 0.600; stroke-width: 0.80"/>
   </g>
   <g id="PathCollection_21">
    <defs>
     <path id="C2_0_be2a2684d0" d="M 0 2.44949 
C 0.649612 2.44949 1.272706 2.191396 1.732051 1.732051 
C 2.191396 1.272706 2.44949 0.649612 2.44949 -0 
C 2.44949 -0.649612 2.191396 -1.272706 1.732051 -1.732051 
C 1.272706 -2.191396 0.649612 -2.44949 0 -2.44949 
C -0.649612 -2.44949 -1.272706 -2.191396 -1.732051 -1.732051 
C -2.191396 -1.272706 -2.44949 -0.649612 -2.44949 0 
C -2.44949 0.649612 -2.191396 1.272706 -1.732051 1.732051 
C -1.272706 2.191396 -0.649612 2.44949 0 2.44949 
z
"/>
    </defs>
    <use href="#C2_0_be2a2684d0" x="126.956522" y="518.043478" style="fill: #2ca02c; fill-opacity: 0.750; stroke: #2ca02c; stroke-opacity: 0.900; stroke-width: 0.80"/>
    <use href="#C2_0_be2a2684d0" x="135.434783" y="525.76087" style="fill: #2ca02c; fill-opacity: 0.500; stroke: #2ca02c; stroke-opacity: 0.600; stroke-width: 0.80"/>
    <use href="#C2_0_be2a2684d0" x="143.043478" y="537.5" style="fill: #2ca02c; fill-opacity: 0.500; stroke: #2ca02c; stroke-opacity: 0.600; stroke-width: 0.80"/>
    <use href="#C2_0_be2a2684d0" x="100.326087" y="529.782609" style="fill: #2ca02c; fill-opacity: 0.750; stroke: #2ca02c; stroke-opacity: 0.900; stroke-width: 0.80"/>
    <use href="#C2_0_be2a2684d0" x="107.065217" y="528.152174" style="fill: #2ca02c; fill-opacity: 0.500; stroke: #2ca02c; stroke-opacity: 0.600; stroke-width: 0.80"/>
    <use href="#C2_0_be2a2684d0" x="109.021739" y="529.782609" style="fill: #2ca02c; fill-opacity: 0.750; stroke: #2ca02c; stroke-opacity: 0.900; stroke-width: 0.80"/>
    <use href="#C2_0_be2a2684d0" x="115.543478" y="532.717391" style="fill: #2ca02c; fill-opacity: 0.500; stroke: #2ca02c; stroke-opacity: 0.600; stroke-width: 0.80"/>
    <use href="#C2_0_be2a2684d0" x="117.173913" y="534.23913" style="fill: #2ca02c; fill-opacity: 0.750; stroke: #2ca02c; stroke-opacity: 0.900; stroke-width: 0.80"/>
    <use href="#C2_0_be2a2684d0" x="124.782609" y="533.695652" style="fill: #2ca02c; fill-opacity: 0.500; stroke: #2ca02c; stroke-opacity: 0.600; stroke-width: 0.80"/>
    <use href="#C2_0_be2a2684d0" x="125.652174" y="535.978261" style="fill: #2ca02c; fill-opacity: 0.500; stroke: #2ca02c; stroke-opacity: 0.600; stroke-width: 0.80"/>
    <use href="#C2_0_be2a2684d0" x="97.282609" y="536.847826" style="fill: #2ca02c; fill-opacity: 0.500; stroke: #2ca02c; stroke-opacity: 0.600; stroke-width: 0.80"/>
    <use href="#C2_0_be2a2684d0" x="98.152174" y="539.23913" style="fill: #2ca02c; fill-opacity: 0.500; stroke: #2ca02c; stroke-opacity: 0.600; stroke-width: 0.80"/>
    <use href="#C2_0_be2a2684d0" x="105.108696" y="537.282609" style="fill: #2ca02c; fill-opacity: 0.750; stroke: #2ca02c; stroke-opacity: 0.900; stroke-width: 0.80"/>
    <use href="#C2_0_be2a2684d0" x="106.847826" y="539.891304" style="fill: #2ca02c; fill-opacity: 0.750; stroke: #2ca02c; stroke-opacity: 0.900; stroke-width: 0.80"/>
    <use href="#C2_0_be2a2684d0" x="110.978261" y="540.76087" style="fill: #2ca02c; fill-opacity: 0.500; stroke: #2ca02c; stroke-opacity: 0.600; stroke-width: 0.80"/>
    <use href="#C2_0_be2a2684d0" x="118.152174" y="541.195652" style="fill: #2ca02c; fill-opacity: 0.500; stroke: #2ca02c; stroke-opacity: 0.600; stroke-width: 0.80"/>
    <use href="#C2_0_be2a2684d0" x="122.391304" y="539.23913" style="fill: #2ca02c; fill-opacity: 0.500; stroke: #2ca02c; stroke-opacity: 0.600; stroke-width: 0.80"/>
    <use href="#C2_0_be2a2684d0" x="120.108696" y="544.23913" style="fill: #2ca02c; fill-opacity: 0.500; stroke: #2ca02c; stroke-opacity: 0.600; stroke-width: 0.80"/>
    <use href="#C2_0_be2a2684d0" x="94.891304" y="545.543478" style="fill: #2ca02c; fill-opacity: 0.500; stroke: #2ca02c; stroke-opacity: 0.600; stroke-width: 0.80"/>
    <use href="#C2_0_be2a2684d0" x="103.152174" y="547.717391" style="fill: #2ca02c; fill-opacity: 0.750; stroke: #2ca02c; stroke-opacity: 0.900; stroke-width: 0.80"/>
    <use href="#C2_0_be2a2684d0" x="108.369565" y="546.413043" style="fill: #2ca02c; fill-opacity: 0.750; stroke: #2ca02c; stroke-opacity: 0.900; stroke-width: 0.80"/>
    <use href="#C2_0_be2a2684d0" x="115.543478" y="546.413043" style="fill: #2ca02c; fill-opacity: 0.500; stroke: #2ca02c; stroke-opacity: 0.600; stroke-width: 0.80"/>
    <use href="#C2_0_be2a2684d0" x="124.782609" y="551.630435" style="fill: #2ca02c; fill-opacity: 0.750; stroke: #2ca02c; stroke-opacity: 0.900; stroke-width: 0.80"/>
    <use href="#C2_0_be2a2684d0" x="101.195652" y="553.586957" style="fill: #2ca02c; fill-opacity: 0.500; stroke: #2ca02c; stroke-opacity: 0.600; stroke-width: 0.80"/>
    <use href="#C2_0_be2a2684d0" x="105.76087" y="554.891304" style="fill: #2ca02c; fill-opacity: 0.750; stroke: #2ca02c; stroke-opacity: 0.900; stroke-width: 0.80"/>
    <use href="#C2_0_be2a2684d0" x="110.326087" y="552.934783" style="fill: #2ca02c; fill-opacity: 0.750; stroke: #2ca02c; stroke-opacity: 0.900; stroke-width: 0.80"/>
    <use href="#C2_0_be2a2684d0" x="112.934783" y="551.630435" style="fill: #2ca02c; fill-opacity: 0.500; stroke: #2ca02c; stroke-opacity: 0.600; stroke-width: 0.80"/>
    <use href="#C2_0_be2a2684d0" x="114.891304" y="556.847826" style="fill: #2ca02c; fill-opacity: 0.500; stroke: #2ca02c; stroke-opacity: 0.600; stroke-width: 0.80"/>
    <use href="#C2_0_be2a2684d0" x="100.543478" y="558.26087" style="fill: #2ca02c; fill-opacity: 0.500; stroke: #2ca02c; stroke-opacity: 0.600; stroke-width: 0.80"/>
    <use href="#C2_0_be2a2684d0" x="107.065217" y="558.26087" style="fill: #2ca02c; fill-opacity: 0.750; stroke: #2ca02c; stroke-opacity: 0.900; stroke-width: 0.80"/>
    <use href="#C2_0_be2a2684d0" x="110.326087" y="558.913043" style="fill: #2ca02c; fill-opacity: 0.750; stroke: #2ca02c; stroke-opacity: 0.900; stroke-width: 0.80"/>
    <use href="#C2_0_be2a2684d0" x="112.934783" y="561.521739" style="fill: #2ca02c; fill-opacity: 0.500; stroke: #2ca02c; stroke-opacity: 0.600; stroke-width: 0.80"/>
    <use href="#C2_0_be2a2684d0" x="104.456522" y="563.478261" style="fill: #2ca02c; fill-opacity: 0.750; stroke: #2ca02c; stroke-opacity: 0.900; stroke-width: 0.80"/>
    <use href="#C2_0_be2a2684d0" x="107.717391" y="564.130435" style="fill: #2ca02c; fill-opacity: 0.750; stroke: #2ca02c; stroke-opacity: 0.900; stroke-width: 0.80"/>
    <use href="#C2_0_be2a2684d0" x="98.586957" y="566.73913" style="fill: #2ca02c; fill-opacity: 0.750; stroke: #2ca02c; stroke-opacity: 0.900; stroke-width: 0.80"/>
    <use href="#C2_0_be2a2684d0" x="101.847826" y="566.086957" style="fill: #2ca02c; fill-opacity: 0.750; stroke: #2ca02c; stroke-opacity: 0.900; stroke-width: 0.80"/>
    <use href="#C2_0_be2a2684d0" x="95.326087" y="570" style="fill: #2ca02c; fill-opacity: 0.500; stroke: #2ca02c; stroke-opacity: 0.600; stroke-width: 0.80"/>
    <use href="#C2_0_be2a2684d0" x="99.891304" y="569.347826" style="fill: #2ca02c; fill-opacity: 0.750; stroke: #2ca02c; stroke-opacity: 0.900; stroke-width: 0.80"/>
    <use href="#C2_0_be2a2684d0" x="104.456522" y="570.652174" style="fill: #2ca02c; fill-opacity: 0.750; stroke: #2ca02c; stroke-opacity: 0.900; stroke-width: 0.80"/>
    <use href="#C2_0_be2a2684d0" x="109.021739" y="570.652174" style="fill: #2ca02c; fill-opacity: 0.750; stroke: #2ca02c; stroke-opacity: 0.900; stroke-width: 0.80"/>
    <use href="#C2_0_be2a2684d0" x="110.978261" y="571.956522" style="fill: #2ca02c; fill-opacity: 0.500; stroke: #2ca02c; stroke-opacity: 0.600; stroke-width: 0.80"/>
    <use href="#C2_0_be2a2684d0" x="100.543478" y="573.913043" style="fill: #2ca02c; fill-opacity: 0.500; stroke: #2ca02c; stroke-opacity: 0.600; stroke-width: 0.80"/>
    <use href="#C2_0_be2a2684d0" x="105.76087" y="574.565217" style="fill: #2ca02c; fill-opacity: 0.750; stroke: #2ca02c; stroke-opacity: 0.900; stroke-width: 0.80"/>
    <use href="#C2_0_be2a2684d0" x="122.391304" y="568.695652" style="fill: #2ca02c; fill-opacity: 0.500; stroke: #2ca02c; stroke-opacity: 0.600; stroke-width: 0.80"/>
    <use href="#C2_0_be2a2684d0" x="128.369565" y="566.413043" style="fill: #2ca02c; fill-opacity: 0.500; stroke: #2ca02c; stroke-opacity: 0.600; stroke-width: 0.80"/>
    <use href="#C2_0_be2a2684d0" x="97.608696" y="580.434783" style="fill: #2ca02c; fill-opacity: 0.500; stroke: #2ca02c; stroke-opacity: 0.600; stroke-width: 0.80"/>
    <use href="#C2_0_be2a2684d0" x="110.76087" y="581.304348" style="fill: #2ca02c; fill-opacity: 0.500; stroke: #2ca02c; stroke-opacity: 0.600; stroke-width: 0.80"/>
    <use href="#C2_0_be2a2684d0" x="116.630435" y="579.130435" style="fill: #2ca02c; fill-opacity: 0.500; stroke: #2ca02c; stroke-opacity: 0.600; stroke-width: 0.80"/>
    <use href="#C2_0_be2a2684d0" x="88.152174" y="586.304348" style="fill: #2ca02c; fill-opacity: 0.500; stroke: #2ca02c; stroke-opacity: 0.600; stroke-width: 0.80"/>
    <use href="#C2_0_be2a2684d0" x="100.326087" y="592.173913" style="fill: #2ca02c; fill-opacity: 0.750; stroke: #2ca02c; stroke-opacity: 0.900; stroke-width: 0.80"/>
    <use href="#C2_0_be2a2684d0" x="90.76087" y="601.73913" style="fill: #2ca02c; fill-opacity: 0.500; stroke: #2ca02c; stroke-opacity: 0.600; stroke-width: 0.80"/>
    <use href="#C2_0_be2a2684d0" x="98.586957" y="600.326087" style="fill: #2ca02c; fill-opacity: 0.500; stroke: #2ca02c; stroke-opacity: 0.600; stroke-width: 0.80"/>
    <use href="#C2_0_be2a2684d0" x="95" y="605.978261" style="fill: #2ca02c; fill-opacity: 0.500; stroke: #2ca02c; stroke-opacity: 0.600; stroke-width: 0.80"/>
   </g>
   <g id="PathCollection_22"/>
   <g id="PathCollection_23"/>
   <g id="PathCollection_24"/>
  </g>
  <g id="axes_6">
   <g id="PathCollection_25">
    <defs>
     <path id="C3_0_be2a2684d0" d="M 0 2.44949 
C 0.649612 2.44949 1.272706 2.191396 1.732051 1.732051 
C 2.191396 1.272706 2.44949 0.649612 2.44949 -0 
C 2.44949 -0.649612 2.191396 -1.272706 1.732051 -1.732051 
C 1.272706 -2.191396 0.649612 -2.44949 0 -2.44949 
C -0.649612 -2.44949 -1.272706 -2.191396 -1.732051 -1.732051 
C -2.191396 -1.272706 -2.44949 -0.649612 -2.44949 0 
C -2.44949 0.649612 -2.191396 1.272706 -1.732051 1.732051 
C -1.272706 2.191396 -0.649612 2.44949 0 2.44949 
z
"/>
    </defs>
    <use href="#C3_0_be2a2684d0" x="526.086957" y="545.978261" style="fill: #1f77b4; fill-opacity: 0.500; stroke: #1f77b4; stroke-opacity: 0.600; stroke-width: 0.80"/>
    <use href="#C3_0_be2a2684d0" x="545" y="588.043478" style="fill: #1f77b4; fill-opacity: 0.500; stroke: #1f77b4; stroke-opacity: 0.600; stroke-width: 0.80"/>
    <use href="#C3_0_be2a2684d0" x="519.891304" y="606.847826" style="fill: #1f77b4; fill-opacity: 0.750; stroke: #1f77b4; stroke-opacity: 0.900; stroke-width: 0.80"/>
    <use href="#C3_0_be2a2684d0" x="598.478261" y="501.847826" style="fill: #1f77b4; fill-opacity: 0.500; stroke: #1f77b4; stroke-opacity: 0.600; stroke-width: 0.80"/>
    <use href="#C3_0_be2a2684d0" x="601.086957" y="508.043478" style="fill: #1f77b4; fill-opacity: 0.500; stroke: #1f77b4; stroke-opacity: 0.600; stroke-width: 0.80"/>
    <use href="#C3_0_be2a2684d0" x="561.847826" y="513.695652" style="fill: #1f77b4; fill-opacity: 0.500; stroke: #1f77b4; stroke-opacity: 0.600; stroke-width: 0.80"/>
    <use href="#C3_0_be2a2684d0" x="581.195652" y="515.652174" style="fill: #1f77b4; fill-opacity: 0.500; stroke: #1f77b4; stroke-opacity: 0.600; stroke-width: 0.80"/>
    <use href="#C3_0_be2a2684d0" x="572.282609" y="521.195652" style="fill: #1f77b4; fill-opacity: 0.500; stroke: #1f77b4; stroke-opacity: 0.600; stroke-width: 0.80"/>
    <use href="#C3_0_be2a2684d0" x="591.630435" y="521.195652" style="fill: #1f77b4; fill-opacity: 0.500; stroke: #1f77b4; stroke-opacity: 0.600; stroke-width: 0.80"/>
    <use href="#C3_0_be2a2684d0" x="599.23913" y="521.195652" style="fill: #1f77b4; fill-opacity: 0.500; stroke: #1f77b4; stroke-opacity: 0.600; stroke-width: 0.80"/>
    <use href="#C3_0_be2a2684d0" x="607.391304" y="526.847826" style="fill: #1f77b4; fill-opacity: 0.500; stroke: #1f77b4; stroke-opacity: 0.600; stroke-width: 0.80"/>
    <use href="#C3_0_be2a2684d0" x="616.956522" y="532.065217" style="fill: #1f77b4; fill-opacity: 0.500; stroke: #1f77b4; stroke-opacity: 0.600; stroke-width: 0.80"/>
    <use href="#C3_0_be2a2684d0" x="548.804348" y="540.76087" style="fill: #1f77b4; fill-opacity: 0.500; stroke: #1f77b4; stroke-opacity: 0.600; stroke-width: 0.80"/>
    <use href="#C3_0_be2a2684d0" x="578.586957" y="537.826087" style="fill: #1f77b4; fill-opacity: 0.500; stroke: #1f77b4; stroke-opacity: 0.600; stroke-width: 0.80"/>
    <use href="#C3_0_be2a2684d0" x="581.195652" y="536.521739" style="fill: #1f77b4; fill-opacity: 0.500; stroke: #1f77b4; stroke-opacity: 0.600; stroke-width: 0.80"/>
    <use href="#C3_0_be2a2684d0" x="586.413043" y="535.217391" style="fill: #1f77b4; fill-opacity: 0.500; stroke: #1f77b4; stroke-opacity: 0.600; stroke-width: 0.80"/>
    <use href="#C3_0_be2a2684d0" x="581.195652" y="542.717391" style="fill: #1f77b4; fill-opacity: 0.500; stroke: #1f77b4; stroke-opacity: 0.600; stroke-width: 0.80"/>
    <use href="#C3_0_be2a2684d0" x="603.695652" y="536.195652" style="fill: #1f77b4; fill-opacity: 0.500; stroke: #1f77b4; stroke-opacity: 0.600; stroke-width: 0.80"/>
    <use href="#C3_0_be2a2684d0" x="605" y="540.434783" style="fill: #1f77b4; fill-opacity: 0.500; stroke: #1f77b4; stroke-opacity: 0.600; stroke-width: 0.80"/>
    <use href="#C3_0_be2a2684d0" x="605" y="544.673913" style="fill: #1f77b4; fill-opacity: 0.500; stroke: #1f77b4; stroke-opacity: 0.600; stroke-width: 0.80"/>
    <use href="#C3_0_be2a2684d0" x="599.23913" y="545.108696" style="fill: #1f77b4; fill-opacity: 0.500; stroke: #1f77b4; stroke-opacity: 0.600; stroke-width: 0.80"/>
    <use href="#C3_0_be2a2684d0" x="594.891304" y="546.413043" style="fill: #1f77b4; fill-opacity: 0.500; stroke: #1f77b4; stroke-opacity: 0.600; stroke-width: 0.80"/>
    <use href="#C3_0_be2a2684d0" x="565.869565" y="546.630435" style="fill: #1f77b4; fill-opacity: 0.500; stroke: #1f77b4; stroke-opacity: 0.600; stroke-width: 0.80"/>
    <use href="#C3_0_be2a2684d0" x="623.043478" y="547.282609" style="fill: #1f77b4; fill-opacity: 0.500; stroke: #1f77b4; stroke-opacity: 0.600; stroke-width: 0.80"/>
    <use href="#C3_0_be2a2684d0" x="606.086957" y="553.26087" style="fill: #1f77b4; fill-opacity: 0.500; stroke: #1f77b4; stroke-opacity: 0.600; stroke-width: 0.80"/>
    <use href="#C3_0_be2a2684d0" x="601.521739" y="559.130435" style="fill: #1f77b4; fill-opacity: 0.500; stroke: #1f77b4; stroke-opacity: 0.600; stroke-width: 0.80"/>
    <use href="#C3_0_be2a2684d0" x="557.934783" y="558.804348" style="fill: #1f77b4; fill-opacity: 0.500; stroke: #1f77b4; stroke-opacity: 0.600; stroke-width: 0.80"/>
    <use href="#C3_0_be2a2684d0" x="572.282609" y="559.782609" style="fill: #1f77b4; fill-opacity: 0.500; stroke: #1f77b4; stroke-opacity: 0.600; stroke-width: 0.80"/>
    <use href="#C3_0_be2a2684d0" x="572.717391" y="565" style="fill: #1f77b4; fill-opacity: 0.500; stroke: #1f77b4; stroke-opacity: 0.600; stroke-width: 0.80"/>
    <use href="#C3_0_be2a2684d0" x="579.456522" y="563.913043" style="fill: #1f77b4; fill-opacity: 0.500; stroke: #1f77b4; stroke-opacity: 0.600; stroke-width: 0.80"/>
    <use href="#C3_0_be2a2684d0" x="609.347826" y="561.086957" style="fill: #1f77b4; fill-opacity: 0.500; stroke: #1f77b4; stroke-opacity: 0.600; stroke-width: 0.80"/>
    <use href="#C3_0_be2a2684d0" x="555" y="568.26087" style="fill: #1f77b4; fill-opacity: 0.500; stroke: #1f77b4; stroke-opacity: 0.600; stroke-width: 0.80"/>
    <use href="#C3_0_be2a2684d0" x="589.673913" y="571.304348" style="fill: #1f77b4; fill-opacity: 0.500; stroke: #1f77b4; stroke-opacity: 0.600; stroke-width: 0.80"/>
    <use href="#C3_0_be2a2684d0" x="615.869565" y="574.456522" style="fill: #1f77b4; fill-opacity: 0.500; stroke: #1f77b4; stroke-opacity: 0.600; stroke-width: 0.80"/>
    <use href="#C3_0_be2a2684d0" x="571.73913" y="576.304348" style="fill: #1f77b4; fill-opacity: 0.500; stroke: #1f77b4; stroke-opacity: 0.600; stroke-width: 0.80"/>
    <use href="#C3_0_be2a2684d0" x="575.978261" y="578.913043" style="fill: #1f77b4; fill-opacity: 0.500; stroke: #1f77b4; stroke-opacity: 0.600; stroke-width: 0.80"/>
    <use href="#C3_0_be2a2684d0" x="595.869565" y="579.565217" style="fill: #1f77b4; fill-opacity: 0.500; stroke: #1f77b4; stroke-opacity: 0.600; stroke-width: 0.80"/>
    <use href="#C3_0_be2a2684d0" x="600.543478" y="582.173913" style="fill: #1f77b4; fill-opacity: 0.500; stroke: #1f77b4; stroke-opacity: 0.600; stroke-width: 0.80"/>
    <use href="#C3_0_be2a2684d0" x="600.869565" y="584.130435" style="fill: #1f77b4; fill-opacity: 0.500; stroke: #1f77b4; stroke-opacity: 0.600; stroke-width: 0.80"/>
    <use href="#C3_0_be2a2684d0" x="610.652174" y="582.826087" style="fill: #1f77b4; fill-opacity: 0.500; stroke: #1f77b4; stroke-opacity: 0.600; stroke-width: 0.80"/>
    <use href="#C3_0_be2a2684d0" x="623.695652" y="578.913043" style="fill: #1f77b4; fill-opacity: 0.500; stroke: #1f77b4; stroke-opacity: 0.600; stroke-width: 0.80"/>
    <use href="#C3_0_be2a2684d0" x="570.434783" y="586.847826" style="fill: #1f77b4; fill-opacity: 0.500; stroke: #1f77b4; stroke-opacity: 0.600; stroke-width: 0.80"/>
    <use href="#C3_0_be2a2684d0" x="589.673913" y="589.456522" style="fill: #1f77b4; fill-opacity: 0.500; stroke: #1f77b4; stroke-opacity: 0.600; stroke-width: 0.80"/>
    <use href="#C3_0_be2a2684d0" x="619.130435" y="588.478261" style="fill: #1f77b4; fill-opacity: 0.500; stroke: #1f77b4; stroke-opacity: 0.600; stroke-width: 0.80"/>
    <use href="#C3_0_be2a2684d0" x="595.543478" y="592.934783" style="fill: #1f77b4; fill-opacity: 0.500; stroke: #1f77b4; stroke-opacity: 0.600; stroke-width: 0.80"/>
    <use href="#C3_0_be2a2684d0" x="559.021739" y="594.673913" style="fill: #1f77b4; fill-opacity: 0.500; stroke: #1f77b4; stroke-opacity: 0.600; stroke-width: 0.80"/>
    <use href="#C3_0_be2a2684d0" x="582.282609" y="596.847826" style="fill: #1f77b4; fill-opacity: 0.500; stroke: #1f77b4; stroke-opacity: 0.600; stroke-width: 0.80"/>
    <use href="#C3_0_be2a2684d0" x="551.086957" y="601.195652" style="fill: #1f77b4; fill-opacity: 0.500; stroke: #1f77b4; stroke-opacity: 0.600; stroke-width: 0.80"/>
    <use href="#C3_0_be2a2684d0" x="605.108696" y="598.152174" style="fill: #1f77b4; fill-opacity: 0.500; stroke: #1f77b4; stroke-opacity: 0.600; stroke-width: 0.80"/>
    <use href="#C3_0_be2a2684d0" x="615" y="599.456522" style="fill: #1f77b4; fill-opacity: 0.500; stroke: #1f77b4; stroke-opacity: 0.600; stroke-width: 0.80"/>
    <use href="#C3_0_be2a2684d0" x="582.5" y="603.152174" style="fill: #1f77b4; fill-opacity: 0.500; stroke: #1f77b4; stroke-opacity: 0.600; stroke-width: 0.80"/>
    <use href="#C3_0_be2a2684d0" x="611.956522" y="610.978261" style="fill: #1f77b4; fill-opacity: 0.500; stroke: #1f77b4; stroke-opacity: 0.600; stroke-width: 0.80"/>
    <use href="#C3_0_be2a2684d0" x="590.978261" y="612.608696" style="fill: #1f77b4; fill-opacity: 0.500; stroke: #1f77b4; stroke-opacity: 0.600; stroke-width: 0.80"/>
    <use href="#C3_0_be2a2684d0" x="594.891304" y="613.913043" style="fill: #1f77b4; fill-opacity: 0.500; stroke: #1f77b4; stroke-opacity: 0.600; stroke-width: 0.80"/>
    <use href="#C3_0_be2a2684d0" x="589.673913" y="621.195652" style="fill: #1f77b4; fill-opacity: 0.500; stroke: #1f77b4; stroke-opacity: 0.600; stroke-width: 0.80"/>
    <use href="#C3_0_be2a2684d0" x="606.086957" y="618.152174" style="fill: #1f77b4; fill-opacity: 0.500; stroke: #1f77b4; stroke-opacity: 0.600; stroke-width: 0.80"/>
    <use href="#C3_0_be2a2684d0" x="615.217391" y="616.847826" style="fill: #1f77b4; fill-opacity: 0.500; stroke: #1f77b4; stroke-opacity: 0.600; stroke-width: 0.80"/>
    <use href="#C3_0_be2a2684d0" x="547.5" y="626.086957" style="fill: #1f77b4; fill-opacity: 0.500; stroke: #1f77b4; stroke-opacity: 0.600; stroke-width: 0.80"/>
    <use href="#C3_0_be2a2684d0" x="551.413043" y="632.173913" style="fill: #1f77b4; fill-opacity: 0.500; stroke: #1f77b4; stroke-opacity: 0.600; stroke-width: 0.80"/>
    <use href="#C3_0_be2a2684d0" x="566.195652" y="630" style="fill: #1f77b4; fill-opacity: 0.500; stroke: #1f77b4; stroke-opacity: 0.600; stroke-width: 0.80"/>
    <use href="#C3_0_be2a2684d0" x="570.108696" y="635.217391" style="fill: #1f77b4; fill-opacity: 0.500; stroke: #1f77b4; stroke-opacity: 0.600; stroke-width: 0.80"/>
    <use href="#C3_0_be2a2684d0" x="582.5" y="630.869565" style="fill: #1f77b4; fill-opacity: 0.500; stroke: #1f77b4; stroke-opacity: 0.600; stroke-width: 0.80"/>
    <use href="#C3_0_be2a2684d0" x="592.282609" y="632.173913" style="fill: #1f77b4; fill-opacity: 0.500; stroke: #1f77b4; stroke-opacity: 0.600; stroke-width: 0.80"/>
    <use href="#C3_0_be2a2684d0" x="617.173913" y="634.23913" style="fill: #1f77b4; fill-opacity: 0.500; stroke: #1f77b4; stroke-opacity: 0.600; stroke-width: 0.80"/>
    <use href="#C3_0_be2a2684d0" x="594.891304" y="641.304348" style="fill: #1f77b4; fill-opacity: 0.500; stroke: #1f77b4; stroke-opacity: 0.600; stroke-width: 0.80"/>
    <use href="#C3_0_be2a2684d0" x="603.695652" y="642.173913" style="fill: #1f77b4; fill-opacity: 0.500; stroke: #1f77b4; stroke-opacity: 0.600; stroke-width: 0.80"/>
    <use href="#C3_0_be2a2684d0" x="629.673913" y="535.978261" style="fill: #1f77b4; fill-opacity: 0.500; stroke: #1f77b4; stroke-opacity: 0.600; stroke-width: 0.80"/>
    <use href="#C3_0_be2a2684d0" x="640.76087" y="532.826087" style="fill: #1f77b4; fill-opacity: 0.500; stroke: #1f77b4; stroke-opacity: 0.600; stroke-width: 0.80"/>
    <use href="#C3_0_be2a2684d0" x="635.76087" y="541.304348" style="fill: #1f77b4; fill-opacity: 0.500; stroke: #1f77b4; stroke-opacity: 0.600; stroke-width: 0.80"/>
    <use href="#C3_0_be2a2684d0" x="624.347826" y="551.413043" style="fill: #1f77b4; fill-opacity: 0.500; stroke: #1f77b4; stroke-opacity: 0.600; stroke-width: 0.80"/>
    <use href="#C3_0_be2a2684d0" x="634.23913" y="549.456522" style="fill: #1f77b4; fill-opacity: 0.500; stroke: #1f77b4; stroke-opacity: 0.600; stroke-width: 0.80"/>
    <use href="#C3_0_be2a2684d0" x="650.326087" y="554.673913" style="fill: #1f77b4; fill-opacity: 0.500; stroke: #1f77b4; stroke-opacity: 0.600; stroke-width: 0.80"/>
    <use href="#C3_0_be2a2684d0" x="650.543478" y="561.195652" style="fill: #1f77b4; fill-opacity: 0.500; stroke: #1f77b4; stroke-opacity: 0.600; stroke-width: 0.80"/>
    <use href="#C3_0_be2a2684d0" x="639.021739" y="560.326087" style="fill: #1f77b4; fill-opacity: 0.500; stroke: #1f77b4; stroke-opacity: 0.600; stroke-width: 0.80"/>
    <use href="#C3_0_be2a2684d0" x="667.173913" y="563.478261" style="fill: #1f77b4; fill-opacity: 0.500; stroke: #1f77b4; stroke-opacity: 0.600; stroke-width: 0.80"/>
    <use href="#C3_0_be2a2684d0" x="628.043478" y="564.456522" style="fill: #1f77b4; fill-opacity: 0.500; stroke: #1f77b4; stroke-opacity: 0.600; stroke-width: 0.80"/>
    <use href="#C3_0_be2a2684d0" x="631.630435" y="574.347826" style="fill: #1f77b4; fill-opacity: 0.500; stroke: #1f77b4; stroke-opacity: 0.600; stroke-width: 0.80"/>
    <use href="#C3_0_be2a2684d0" x="625.434783" y="579.130435" style="fill: #1f77b4; fill-opacity: 0.500; stroke: #1f77b4; stroke-opacity: 0.600; stroke-width: 0.80"/>
    <use href="#C3_0_be2a2684d0" x="658.152174" y="581.521739" style="fill: #1f77b4; fill-opacity: 0.500; stroke: #1f77b4; stroke-opacity: 0.600; stroke-width: 0.80"/>
    <use href="#C3_0_be2a2684d0" x="662.065217" y="585.434783" style="fill: #1f77b4; fill-opacity: 0.500; stroke: #1f77b4; stroke-opacity: 0.600; stroke-width: 0.80"/>
    <use href="#C3_0_be2a2684d0" x="634.23913" y="597.173913" style="fill: #1f77b4; fill-opacity: 0.500; stroke: #1f77b4; stroke-opacity: 0.600; stroke-width: 0.80"/>
    <use href="#C3_0_be2a2684d0" x="637.5" y="605.108696" style="fill: #1f77b4; fill-opacity: 0.500; stroke: #1f77b4; stroke-opacity: 0.600; stroke-width: 0.80"/>
    <use href="#C3_0_be2a2684d0" x="645.76087" y="602.934783" style="fill: #1f77b4; fill-opacity: 0.500; stroke: #1f77b4; stroke-opacity: 0.600; stroke-width: 0.80"/>
   </g>
   <g id="PathCollection_26">
    <defs>
     <path id="C4_0_be2a2684d0" d="M 0 2.44949 
C 0.649612 2.44949 1.272706 2.191396 1.732051 1.732051 
C 2.191396 1.272706 2.44949 0.649612 2.44949 -0 
C 2.44949 -0.649612 2.191396 -1.272706 1.732051 -1.732051 
C 1.272706 -2.191396 0.649612 -2.44949 0 -2.44949 
C -0.649612 -2.44949 -1.272706 -2.191396 -1.732051 -1.732051 
C -2.191396 -1.272706 -2.44949 -0.649612 -2.44949 0 
C -2.44949 0.649612 -2.191396 1.272706 -1.732051 1.732051 
C -1.272706 2.191396 -0.649612 2.44949 0 2.44949 
z
"/>
    </defs>
    <use href="#C4_0_be2a2684d0" x="529.347826" y="553.369565" style="fill: #ff7f0e; fill-opacity: 0.500; stroke: #ff7f0e; stroke-opacity: 0.600; stroke-width: 0.80"/>
    <use href="#C4_0_be2a2684d0" x="526.086957" y="598.695652" style="fill: #ff7f0e; fill-opacity: 0.500; stroke: #ff7f0e; stroke-opacity: 0.600; stroke-width: 0.80"/>
    <use href="#C4_0_be2a2684d0" x="528.695652" y="609.456522" style="fill: #ff7f0e; fill-opacity: 0.500; stroke: #ff7f0e; stroke-opacity: 0.600; stroke-width: 0.80"/>
    <use href="#C4_0_be2a2684d0" x="608.043478" y="504.782609" style="fill: #ff7f0e; fill-opacity: 0.750; stroke: #ff7f0e; stroke-opacity: 0.900; stroke-width: 0.80"/>
    <use href="#C4_0_be2a2684d0" x="565.543478" y="514.673913" style="fill: #ff7f0e; fill-opacity: 0.500; stroke: #ff7f0e; stroke-opacity: 0.600; stroke-width: 0.80"/>
    <use href="#C4_0_be2a2684d0" x="573.152174" y="512.391304" style="fill: #ff7f0e; fill-opacity: 0.500; stroke: #ff7f0e; stroke-opacity: 0.600; stroke-width: 0.80"/>
    <use href="#C4_0_be2a2684d0" x="576.847826" y="521.847826" style="fill: #ff7f0e; fill-opacity: 0.500; stroke: #ff7f0e; stroke-opacity: 0.600; stroke-width: 0.80"/>
    <use href="#C4_0_be2a2684d0" x="599.23913" y="521.195652" style="fill: #ff7f0e; fill-opacity: 0.500; stroke: #ff7f0e; stroke-opacity: 0.600; stroke-width: 0.80"/>
    <use href="#C4_0_be2a2684d0" x="598.26087" y="528.152174" style="fill: #ff7f0e; fill-opacity: 0.500; stroke: #ff7f0e; stroke-opacity: 0.600; stroke-width: 0.80"/>
    <use href="#C4_0_be2a2684d0" x="602.173913" y="527.717391" style="fill: #ff7f0e; fill-opacity: 0.500; stroke: #ff7f0e; stroke-opacity: 0.600; stroke-width: 0.80"/>
    <use href="#C4_0_be2a2684d0" x="608.913043" y="532.282609" style="fill: #ff7f0e; fill-opacity: 0.500; stroke: #ff7f0e; stroke-opacity: 0.600; stroke-width: 0.80"/>
    <use href="#C4_0_be2a2684d0" x="612.608696" y="537.5" style="fill: #ff7f0e; fill-opacity: 0.500; stroke: #ff7f0e; stroke-opacity: 0.600; stroke-width: 0.80"/>
    <use href="#C4_0_be2a2684d0" x="548.804348" y="536.195652" style="fill: #ff7f0e; fill-opacity: 0.500; stroke: #ff7f0e; stroke-opacity: 0.600; stroke-width: 0.80"/>
    <use href="#C4_0_be2a2684d0" x="591.413043" y="534.673913" style="fill: #ff7f0e; fill-opacity: 0.500; stroke: #ff7f0e; stroke-opacity: 0.600; stroke-width: 0.80"/>
    <use href="#C4_0_be2a2684d0" x="587.717391" y="540.108696" style="fill: #ff7f0e; fill-opacity: 0.750; stroke: #ff7f0e; stroke-opacity: 0.900; stroke-width: 0.80"/>
    <use href="#C4_0_be2a2684d0" x="590.326087" y="539.456522" style="fill: #ff7f0e; fill-opacity: 0.500; stroke: #ff7f0e; stroke-opacity: 0.600; stroke-width: 0.80"/>
    <use href="#C4_0_be2a2684d0" x="566.195652" y="550.652174" style="fill: #ff7f0e; fill-opacity: 0.500; stroke: #ff7f0e; stroke-opacity: 0.600; stroke-width: 0.80"/>
    <use href="#C4_0_be2a2684d0" x="564.891304" y="555.217391" style="fill: #ff7f0e; fill-opacity: 0.500; stroke: #ff7f0e; stroke-opacity: 0.600; stroke-width: 0.80"/>
    <use href="#C4_0_be2a2684d0" x="579.23913" y="547.717391" style="fill: #ff7f0e; fill-opacity: 0.500; stroke: #ff7f0e; stroke-opacity: 0.600; stroke-width: 0.80"/>
    <use href="#C4_0_be2a2684d0" x="600.543478" y="553.26087" style="fill: #ff7f0e; fill-opacity: 0.750; stroke: #ff7f0e; stroke-opacity: 0.900; stroke-width: 0.80"/>
    <use href="#C4_0_be2a2684d0" x="618.043478" y="553.913043" style="fill: #ff7f0e; fill-opacity: 0.500; stroke: #ff7f0e; stroke-opacity: 0.600; stroke-width: 0.80"/>
    <use href="#C4_0_be2a2684d0" x="620.76087" y="559.130435" style="fill: #ff7f0e; fill-opacity: 0.500; stroke: #ff7f0e; stroke-opacity: 0.600; stroke-width: 0.80"/>
    <use href="#C4_0_be2a2684d0" x="578.586957" y="554.565217" style="fill: #ff7f0e; fill-opacity: 0.500; stroke: #ff7f0e; stroke-opacity: 0.600; stroke-width: 0.80"/>
    <use href="#C4_0_be2a2684d0" x="575.326087" y="557.173913" style="fill: #ff7f0e; fill-opacity: 0.500; stroke: #ff7f0e; stroke-opacity: 0.600; stroke-width: 0.80"/>
    <use href="#C4_0_be2a2684d0" x="594.23913" y="562.065217" style="fill: #ff7f0e; fill-opacity: 0.500; stroke: #ff7f0e; stroke-opacity: 0.600; stroke-width: 0.80"/>
    <use href="#C4_0_be2a2684d0" x="612.608696" y="563.913043" style="fill: #ff7f0e; fill-opacity: 0.500; stroke: #ff7f0e; stroke-opacity: 0.600; stroke-width: 0.80"/>
    <use href="#C4_0_be2a2684d0" x="555" y="565.652174" style="fill: #ff7f0e; fill-opacity: 0.500; stroke: #ff7f0e; stroke-opacity: 0.600; stroke-width: 0.80"/>
    <use href="#C4_0_be2a2684d0" x="557.717391" y="572.173913" style="fill: #ff7f0e; fill-opacity: 0.500; stroke: #ff7f0e; stroke-opacity: 0.600; stroke-width: 0.80"/>
    <use href="#C4_0_be2a2684d0" x="578.586957" y="570.869565" style="fill: #ff7f0e; fill-opacity: 0.750; stroke: #ff7f0e; stroke-opacity: 0.900; stroke-width: 0.80"/>
    <use href="#C4_0_be2a2684d0" x="592.934783" y="572.826087" style="fill: #ff7f0e; fill-opacity: 0.500; stroke: #ff7f0e; stroke-opacity: 0.600; stroke-width: 0.80"/>
    <use href="#C4_0_be2a2684d0" x="549.782609" y="592.934783" style="fill: #ff7f0e; fill-opacity: 0.500; stroke: #ff7f0e; stroke-opacity: 0.600; stroke-width: 0.80"/>
    <use href="#C4_0_be2a2684d0" x="596.956522" y="578.913043" style="fill: #ff7f0e; fill-opacity: 0.500; stroke: #ff7f0e; stroke-opacity: 0.600; stroke-width: 0.80"/>
    <use href="#C4_0_be2a2684d0" x="606.086957" y="584.130435" style="fill: #ff7f0e; fill-opacity: 0.500; stroke: #ff7f0e; stroke-opacity: 0.600; stroke-width: 0.80"/>
    <use href="#C4_0_be2a2684d0" x="616.521739" y="582.173913" style="fill: #ff7f0e; fill-opacity: 0.500; stroke: #ff7f0e; stroke-opacity: 0.600; stroke-width: 0.80"/>
    <use href="#C4_0_be2a2684d0" x="586.413043" y="583.478261" style="fill: #ff7f0e; fill-opacity: 0.500; stroke: #ff7f0e; stroke-opacity: 0.600; stroke-width: 0.80"/>
    <use href="#C4_0_be2a2684d0" x="580.108696" y="584.130435" style="fill: #ff7f0e; fill-opacity: 0.500; stroke: #ff7f0e; stroke-opacity: 0.600; stroke-width: 0.80"/>
    <use href="#C4_0_be2a2684d0" x="575.76087" y="587.5" style="fill: #ff7f0e; fill-opacity: 0.500; stroke: #ff7f0e; stroke-opacity: 0.600; stroke-width: 0.80"/>
    <use href="#C4_0_be2a2684d0" x="565.217391" y="589.021739" style="fill: #ff7f0e; fill-opacity: 0.500; stroke: #ff7f0e; stroke-opacity: 0.600; stroke-width: 0.80"/>
    <use href="#C4_0_be2a2684d0" x="612.608696" y="590.76087" style="fill: #ff7f0e; fill-opacity: 0.500; stroke: #ff7f0e; stroke-opacity: 0.600; stroke-width: 0.80"/>
    <use href="#C4_0_be2a2684d0" x="592.934783" y="596.304348" style="fill: #ff7f0e; fill-opacity: 0.500; stroke: #ff7f0e; stroke-opacity: 0.600; stroke-width: 0.80"/>
    <use href="#C4_0_be2a2684d0" x="562.282609" y="596.304348" style="fill: #ff7f0e; fill-opacity: 0.500; stroke: #ff7f0e; stroke-opacity: 0.600; stroke-width: 0.80"/>
    <use href="#C4_0_be2a2684d0" x="600.869565" y="598.586957" style="fill: #ff7f0e; fill-opacity: 0.500; stroke: #ff7f0e; stroke-opacity: 0.600; stroke-width: 0.80"/>
    <use href="#C4_0_be2a2684d0" x="612.608696" y="603.804348" style="fill: #ff7f0e; fill-opacity: 0.500; stroke: #ff7f0e; stroke-opacity: 0.600; stroke-width: 0.80"/>
    <use href="#C4_0_be2a2684d0" x="621.73913" y="601.847826" style="fill: #ff7f0e; fill-opacity: 0.500; stroke: #ff7f0e; stroke-opacity: 0.600; stroke-width: 0.80"/>
    <use href="#C4_0_be2a2684d0" x="579.673913" y="605.978261" style="fill: #ff7f0e; fill-opacity: 0.750; stroke: #ff7f0e; stroke-opacity: 0.900; stroke-width: 0.80"/>
    <use href="#C4_0_be2a2684d0" x="591.956522" y="604.456522" style="fill: #ff7f0e; fill-opacity: 0.500; stroke: #ff7f0e; stroke-opacity: 0.600; stroke-width: 0.80"/>
    <use href="#C4_0_be2a2684d0" x="552.717391" y="607.717391" style="fill: #ff7f0e; fill-opacity: 0.500; stroke: #ff7f0e; stroke-opacity: 0.600; stroke-width: 0.80"/>
    <use href="#C4_0_be2a2684d0" x="607.391304" y="612.065217" style="fill: #ff7f0e; fill-opacity: 0.500; stroke: #ff7f0e; stroke-opacity: 0.600; stroke-width: 0.80"/>
    <use href="#C4_0_be2a2684d0" x="616.521739" y="610.978261" style="fill: #ff7f0e; fill-opacity: 0.500; stroke: #ff7f0e; stroke-opacity: 0.600; stroke-width: 0.80"/>
    <use href="#C4_0_be2a2684d0" x="590.326087" y="617.5" style="fill: #ff7f0e; fill-opacity: 0.500; stroke: #ff7f0e; stroke-opacity: 0.600; stroke-width: 0.80"/>
    <use href="#C4_0_be2a2684d0" x="595.217391" y="618.152174" style="fill: #ff7f0e; fill-opacity: 0.500; stroke: #ff7f0e; stroke-opacity: 0.600; stroke-width: 0.80"/>
    <use href="#C4_0_be2a2684d0" x="590.978261" y="624.782609" style="fill: #ff7f0e; fill-opacity: 0.750; stroke: #ff7f0e; stroke-opacity: 0.900; stroke-width: 0.80"/>
    <use href="#C4_0_be2a2684d0" x="549.782609" y="621.195652" style="fill: #ff7f0e; fill-opacity: 0.500; stroke: #ff7f0e; stroke-opacity: 0.600; stroke-width: 0.80"/>
    <use href="#C4_0_be2a2684d0" x="557.391304" y="623.478261" style="fill: #ff7f0e; fill-opacity: 0.500; stroke: #ff7f0e; stroke-opacity: 0.600; stroke-width: 0.80"/>
    <use href="#C4_0_be2a2684d0" x="573.369565" y="632.608696" style="fill: #ff7f0e; fill-opacity: 0.500; stroke: #ff7f0e; stroke-opacity: 0.600; stroke-width: 0.80"/>
    <use href="#C4_0_be2a2684d0" x="573.586957" y="635.869565" style="fill: #ff7f0e; fill-opacity: 0.500; stroke: #ff7f0e; stroke-opacity: 0.600; stroke-width: 0.80"/>
    <use href="#C4_0_be2a2684d0" x="601.521739" y="634.782609" style="fill: #ff7f0e; fill-opacity: 0.500; stroke: #ff7f0e; stroke-opacity: 0.600; stroke-width: 0.80"/>
    <use href="#C4_0_be2a2684d0" x="621.086957" y="626.956522" style="fill: #ff7f0e; fill-opacity: 0.500; stroke: #ff7f0e; stroke-opacity: 0.600; stroke-width: 0.80"/>
    <use href="#C4_0_be2a2684d0" x="594.891304" y="641.304348" style="fill: #ff7f0e; fill-opacity: 0.500; stroke: #ff7f0e; stroke-opacity: 0.600; stroke-width: 0.80"/>
    <use href="#C4_0_be2a2684d0" x="629.673913" y="535.978261" style="fill: #ff7f0e; fill-opacity: 0.500; stroke: #ff7f0e; stroke-opacity: 0.600; stroke-width: 0.80"/>
    <use href="#C4_0_be2a2684d0" x="640.108696" y="538.586957" style="fill: #ff7f0e; fill-opacity: 0.500; stroke: #ff7f0e; stroke-opacity: 0.600; stroke-width: 0.80"/>
    <use href="#C4_0_be2a2684d0" x="626.956522" y="545.108696" style="fill: #ff7f0e; fill-opacity: 0.500; stroke: #ff7f0e; stroke-opacity: 0.600; stroke-width: 0.80"/>
    <use href="#C4_0_be2a2684d0" x="631.630435" y="549.891304" style="fill: #ff7f0e; fill-opacity: 0.500; stroke: #ff7f0e; stroke-opacity: 0.600; stroke-width: 0.80"/>
    <use href="#C4_0_be2a2684d0" x="645.76087" y="559.021739" style="fill: #ff7f0e; fill-opacity: 0.500; stroke: #ff7f0e; stroke-opacity: 0.600; stroke-width: 0.80"/>
    <use href="#C4_0_be2a2684d0" x="662.065217" y="560.326087" style="fill: #ff7f0e; fill-opacity: 0.500; stroke: #ff7f0e; stroke-opacity: 0.600; stroke-width: 0.80"/>
    <use href="#C4_0_be2a2684d0" x="634.891304" y="567.391304" style="fill: #ff7f0e; fill-opacity: 0.500; stroke: #ff7f0e; stroke-opacity: 0.600; stroke-width: 0.80"/>
    <use href="#C4_0_be2a2684d0" x="628.043478" y="570.76087" style="fill: #ff7f0e; fill-opacity: 0.500; stroke: #ff7f0e; stroke-opacity: 0.600; stroke-width: 0.80"/>
    <use href="#C4_0_be2a2684d0" x="647.717391" y="569.130435" style="fill: #ff7f0e; fill-opacity: 0.500; stroke: #ff7f0e; stroke-opacity: 0.600; stroke-width: 0.80"/>
    <use href="#C4_0_be2a2684d0" x="629.673913" y="577.608696" style="fill: #ff7f0e; fill-opacity: 0.500; stroke: #ff7f0e; stroke-opacity: 0.600; stroke-width: 0.80"/>
    <use href="#C4_0_be2a2684d0" x="636.521739" y="578.586957" style="fill: #ff7f0e; fill-opacity: 0.500; stroke: #ff7f0e; stroke-opacity: 0.600; stroke-width: 0.80"/>
    <use href="#C4_0_be2a2684d0" x="651.630435" y="581.521739" style="fill: #ff7f0e; fill-opacity: 0.500; stroke: #ff7f0e; stroke-opacity: 0.600; stroke-width: 0.80"/>
    <use href="#C4_0_be2a2684d0" x="655.108696" y="581.521739" style="fill: #ff7f0e; fill-opacity: 0.500; stroke: #ff7f0e; stroke-opacity: 0.600; stroke-width: 0.80"/>
    <use href="#C4_0_be2a2684d0" x="632.282609" y="595.217391" style="fill: #ff7f0e; fill-opacity: 0.500; stroke: #ff7f0e; stroke-opacity: 0.600; stroke-width: 0.80"/>
    <use href="#C4_0_be2a2684d0" x="633.586957" y="600.326087" style="fill: #ff7f0e; fill-opacity: 0.500; stroke: #ff7f0e; stroke-opacity: 0.600; stroke-width: 0.80"/>
    <use href="#C4_0_be2a2684d0" x="647.934783" y="605.543478" style="fill: #ff7f0e; fill-opacity: 0.500; stroke: #ff7f0e; stroke-opacity: 0.600; stroke-width: 0.80"/>
   </g>
   <g id="PathCollection_27">
    <defs>
     <path id="C5_0_be2a2684d0" d="M 0 2.44949 
C 0.649612 2.44949 1.272706 2.191396 1.732051 1.732051 
C 2.191396 1.272706 2.44949 0.649612 2.44949 -0 
C 2.44949 -0.649612 2.191396 -1.272706 1.732051 -1.732051 
C 1.272706 -2.191396 0.649612 -2.44949 0 -2.44949 
C -0.649612 -2.44949 -1.272706 -2.191396 -1.732051 -1.732051 
C -2.191396 -1.272706 -2.44949 -0.649612 -2.44949 0 
C -2.44949 0.649612 -2.191396 1.272706 -1.732051 1.732051 
C -1.272706 2.191396 -0.649612 2.44949 0 2.44949 
z
"/>
    </defs>
    <use href="#C5_0_be2a2684d0" x="531.956522" y="528.478261" style="fill: #2ca02c; fill-opacity: 0.500; stroke: #2ca02c; stroke-opacity: 0.600; stroke-width: 0.80"/>
    <use href="#C5_0_be2a2684d0" x="537.826087" y="530.76087" style="fill: #2ca02c; fill-opacity: 0.500; stroke: #2ca02c; stroke-opacity: 0.600; stroke-width: 0.80"/>
    <use href="#C5_0_be2a2684d0" x="547.608696" y="527.826087" style="fill: #2ca02c; fill-opacity: 0.500; stroke: #2ca02c; stroke-opacity: 0.600; stroke-width: 0.80"/>
    <use href="#C5_0_be2a2684d0" x="503.586957" y="533.152174" style="fill: #2ca02c; fill-opacity: 0.500; stroke: #2ca02c; stroke-opacity: 0.600; stroke-width: 0.80"/>
    <use href="#C5_0_be2a2684d0" x="500.543478" y="536.73913" style="fill: #2ca02c; fill-opacity: 0.500; stroke: #2ca02c; stroke-opacity: 0.600; stroke-width: 0.80"/>
    <use href="#C5_0_be2a2684d0" x="504.891304" y="537.282609" style="fill: #2ca02c; fill-opacity: 0.500; stroke: #2ca02c; stroke-opacity: 0.600; stroke-width: 0.80"/>
    <use href="#C5_0_be2a2684d0" x="518.152174" y="539.673913" style="fill: #2ca02c; fill-opacity: 0.750; stroke: #2ca02c; stroke-opacity: 0.900; stroke-width: 0.80"/>
    <use href="#C5_0_be2a2684d0" x="531.956522" y="549.456522" style="fill: #2ca02c; fill-opacity: 0.500; stroke: #2ca02c; stroke-opacity: 0.600; stroke-width: 0.80"/>
    <use href="#C5_0_be2a2684d0" x="526.73913" y="550.76087" style="fill: #2ca02c; fill-opacity: 0.500; stroke: #2ca02c; stroke-opacity: 0.600; stroke-width: 0.80"/>
    <use href="#C5_0_be2a2684d0" x="501.195652" y="546.195652" style="fill: #2ca02c; fill-opacity: 0.500; stroke: #2ca02c; stroke-opacity: 0.600; stroke-width: 0.80"/>
    <use href="#C5_0_be2a2684d0" x="501.413043" y="549.673913" style="fill: #2ca02c; fill-opacity: 0.500; stroke: #2ca02c; stroke-opacity: 0.600; stroke-width: 0.80"/>
    <use href="#C5_0_be2a2684d0" x="495.978261" y="554.347826" style="fill: #2ca02c; fill-opacity: 0.500; stroke: #2ca02c; stroke-opacity: 0.600; stroke-width: 0.80"/>
    <use href="#C5_0_be2a2684d0" x="521.086957" y="555.108696" style="fill: #2ca02c; fill-opacity: 0.500; stroke: #2ca02c; stroke-opacity: 0.600; stroke-width: 0.80"/>
    <use href="#C5_0_be2a2684d0" x="480.869565" y="559.565217" style="fill: #2ca02c; fill-opacity: 0.750; stroke: #2ca02c; stroke-opacity: 0.900; stroke-width: 0.80"/>
    <use href="#C5_0_be2a2684d0" x="484.891304" y="563.152174" style="fill: #2ca02c; fill-opacity: 0.500; stroke: #2ca02c; stroke-opacity: 0.600; stroke-width: 0.80"/>
    <use href="#C5_0_be2a2684d0" x="502.5" y="559.23913" style="fill: #2ca02c; fill-opacity: 0.500; stroke: #2ca02c; stroke-opacity: 0.600; stroke-width: 0.80"/>
    <use href="#C5_0_be2a2684d0" x="501.630435" y="562.282609" style="fill: #2ca02c; fill-opacity: 0.500; stroke: #2ca02c; stroke-opacity: 0.600; stroke-width: 0.80"/>
    <use href="#C5_0_be2a2684d0" x="507.717391" y="563.478261" style="fill: #2ca02c; fill-opacity: 0.500; stroke: #2ca02c; stroke-opacity: 0.600; stroke-width: 0.80"/>
    <use href="#C5_0_be2a2684d0" x="474.673913" y="564.891304" style="fill: #2ca02c; fill-opacity: 0.500; stroke: #2ca02c; stroke-opacity: 0.600; stroke-width: 0.80"/>
    <use href="#C5_0_be2a2684d0" x="524.782609" y="563.152174" style="fill: #2ca02c; fill-opacity: 0.500; stroke: #2ca02c; stroke-opacity: 0.600; stroke-width: 0.80"/>
    <use href="#C5_0_be2a2684d0" x="527.391304" y="561.847826" style="fill: #2ca02c; fill-opacity: 0.500; stroke: #2ca02c; stroke-opacity: 0.600; stroke-width: 0.80"/>
    <use href="#C5_0_be2a2684d0" x="531.304348" y="561.195652" style="fill: #2ca02c; fill-opacity: 0.500; stroke: #2ca02c; stroke-opacity: 0.600; stroke-width: 0.80"/>
    <use href="#C5_0_be2a2684d0" x="535.217391" y="561.195652" style="fill: #2ca02c; fill-opacity: 0.500; stroke: #2ca02c; stroke-opacity: 0.600; stroke-width: 0.80"/>
    <use href="#C5_0_be2a2684d0" x="539.130435" y="561.847826" style="fill: #2ca02c; fill-opacity: 0.500; stroke: #2ca02c; stroke-opacity: 0.600; stroke-width: 0.80"/>
    <use href="#C5_0_be2a2684d0" x="524.130435" y="567.391304" style="fill: #2ca02c; fill-opacity: 0.500; stroke: #2ca02c; stroke-opacity: 0.600; stroke-width: 0.80"/>
    <use href="#C5_0_be2a2684d0" x="515.326087" y="565.543478" style="fill: #2ca02c; fill-opacity: 0.500; stroke: #2ca02c; stroke-opacity: 0.600; stroke-width: 0.80"/>
    <use href="#C5_0_be2a2684d0" x="514.23913" y="570.434783" style="fill: #2ca02c; fill-opacity: 0.500; stroke: #2ca02c; stroke-opacity: 0.600; stroke-width: 0.80"/>
    <use href="#C5_0_be2a2684d0" x="480" y="568.152174" style="fill: #2ca02c; fill-opacity: 0.500; stroke: #2ca02c; stroke-opacity: 0.600; stroke-width: 0.80"/>
    <use href="#C5_0_be2a2684d0" x="483.586957" y="573.043478" style="fill: #2ca02c; fill-opacity: 0.750; stroke: #2ca02c; stroke-opacity: 0.900; stroke-width: 0.80"/>
    <use href="#C5_0_be2a2684d0" x="496.195652" y="570.434783" style="fill: #2ca02c; fill-opacity: 0.500; stroke: #2ca02c; stroke-opacity: 0.600; stroke-width: 0.80"/>
    <use href="#C5_0_be2a2684d0" x="500.543478" y="568.152174" style="fill: #2ca02c; fill-opacity: 0.500; stroke: #2ca02c; stroke-opacity: 0.600; stroke-width: 0.80"/>
    <use href="#C5_0_be2a2684d0" x="497.065217" y="576.304348" style="fill: #2ca02c; fill-opacity: 0.500; stroke: #2ca02c; stroke-opacity: 0.600; stroke-width: 0.80"/>
    <use href="#C5_0_be2a2684d0" x="529.673913" y="569.782609" style="fill: #2ca02c; fill-opacity: 0.500; stroke: #2ca02c; stroke-opacity: 0.600; stroke-width: 0.80"/>
    <use href="#C5_0_be2a2684d0" x="531.521739" y="572.608696" style="fill: #2ca02c; fill-opacity: 0.500; stroke: #2ca02c; stroke-opacity: 0.600; stroke-width: 0.80"/>
    <use href="#C5_0_be2a2684d0" x="519.456522" y="573.369565" style="fill: #2ca02c; fill-opacity: 0.500; stroke: #2ca02c; stroke-opacity: 0.600; stroke-width: 0.80"/>
    <use href="#C5_0_be2a2684d0" x="524.456522" y="576.630435" style="fill: #2ca02c; fill-opacity: 0.500; stroke: #2ca02c; stroke-opacity: 0.600; stroke-width: 0.80"/>
    <use href="#C5_0_be2a2684d0" x="510.652174" y="576.956522" style="fill: #2ca02c; fill-opacity: 0.750; stroke: #2ca02c; stroke-opacity: 0.900; stroke-width: 0.80"/>
    <use href="#C5_0_be2a2684d0" x="544.347826" y="575" style="fill: #2ca02c; fill-opacity: 0.500; stroke: #2ca02c; stroke-opacity: 0.600; stroke-width: 0.80"/>
    <use href="#C5_0_be2a2684d0" x="515.326087" y="580.217391" style="fill: #2ca02c; fill-opacity: 0.500; stroke: #2ca02c; stroke-opacity: 0.600; stroke-width: 0.80"/>
    <use href="#C5_0_be2a2684d0" x="533.26087" y="579.891304" style="fill: #2ca02c; fill-opacity: 0.500; stroke: #2ca02c; stroke-opacity: 0.600; stroke-width: 0.80"/>
    <use href="#C5_0_be2a2684d0" x="540.217391" y="579.565217" style="fill: #2ca02c; fill-opacity: 0.500; stroke: #2ca02c; stroke-opacity: 0.600; stroke-width: 0.80"/>
    <use href="#C5_0_be2a2684d0" x="494.673913" y="583.478261" style="fill: #2ca02c; fill-opacity: 0.500; stroke: #2ca02c; stroke-opacity: 0.600; stroke-width: 0.80"/>
    <use href="#C5_0_be2a2684d0" x="496.195652" y="587.173913" style="fill: #2ca02c; fill-opacity: 0.500; stroke: #2ca02c; stroke-opacity: 0.600; stroke-width: 0.80"/>
    <use href="#C5_0_be2a2684d0" x="513.586957" y="585.217391" style="fill: #2ca02c; fill-opacity: 0.500; stroke: #2ca02c; stroke-opacity: 0.600; stroke-width: 0.80"/>
    <use href="#C5_0_be2a2684d0" x="514.23913" y="591.956522" style="fill: #2ca02c; fill-opacity: 0.500; stroke: #2ca02c; stroke-opacity: 0.600; stroke-width: 0.80"/>
    <use href="#C5_0_be2a2684d0" x="526.73913" y="582.826087" style="fill: #2ca02c; fill-opacity: 0.500; stroke: #2ca02c; stroke-opacity: 0.600; stroke-width: 0.80"/>
    <use href="#C5_0_be2a2684d0" x="527.391304" y="587.391304" style="fill: #2ca02c; fill-opacity: 0.500; stroke: #2ca02c; stroke-opacity: 0.600; stroke-width: 0.80"/>
    <use href="#C5_0_be2a2684d0" x="536.521739" y="586.086957" style="fill: #2ca02c; fill-opacity: 0.500; stroke: #2ca02c; stroke-opacity: 0.600; stroke-width: 0.80"/>
    <use href="#C5_0_be2a2684d0" x="535.217391" y="589.347826" style="fill: #2ca02c; fill-opacity: 0.500; stroke: #2ca02c; stroke-opacity: 0.600; stroke-width: 0.80"/>
    <use href="#C5_0_be2a2684d0" x="540.434783" y="589.130435" style="fill: #2ca02c; fill-opacity: 0.500; stroke: #2ca02c; stroke-opacity: 0.600; stroke-width: 0.80"/>
    <use href="#C5_0_be2a2684d0" x="532.608696" y="593.26087" style="fill: #2ca02c; fill-opacity: 0.500; stroke: #2ca02c; stroke-opacity: 0.600; stroke-width: 0.80"/>
    <use href="#C5_0_be2a2684d0" x="547.608696" y="559.23913" style="fill: #2ca02c; fill-opacity: 0.500; stroke: #2ca02c; stroke-opacity: 0.600; stroke-width: 0.80"/>
    <use href="#C5_0_be2a2684d0" x="487.065217" y="601.630435" style="fill: #2ca02c; fill-opacity: 0.500; stroke: #2ca02c; stroke-opacity: 0.600; stroke-width: 0.80"/>
    <use href="#C5_0_be2a2684d0" x="493.369565" y="603.913043" style="fill: #2ca02c; fill-opacity: 0.500; stroke: #2ca02c; stroke-opacity: 0.600; stroke-width: 0.80"/>
    <use href="#C5_0_be2a2684d0" x="491.73913" y="607.282609" style="fill: #2ca02c; fill-opacity: 0.500; stroke: #2ca02c; stroke-opacity: 0.600; stroke-width: 0.80"/>
    <use href="#C5_0_be2a2684d0" x="501.847826" y="598.478261" style="fill: #2ca02c; fill-opacity: 0.500; stroke: #2ca02c; stroke-opacity: 0.600; stroke-width: 0.80"/>
    <use href="#C5_0_be2a2684d0" x="503.586957" y="599.347826" style="fill: #2ca02c; fill-opacity: 0.500; stroke: #2ca02c; stroke-opacity: 0.600; stroke-width: 0.80"/>
    <use href="#C5_0_be2a2684d0" x="507.5" y="605.543478" style="fill: #2ca02c; fill-opacity: 0.500; stroke: #2ca02c; stroke-opacity: 0.600; stroke-width: 0.80"/>
    <use href="#C5_0_be2a2684d0" x="519.130435" y="596.413043" style="fill: #2ca02c; fill-opacity: 0.500; stroke: #2ca02c; stroke-opacity: 0.600; stroke-width: 0.80"/>
    <use href="#C5_0_be2a2684d0" x="526.73913" y="596.73913" style="fill: #2ca02c; fill-opacity: 0.500; stroke: #2ca02c; stroke-opacity: 0.600; stroke-width: 0.80"/>
    <use href="#C5_0_be2a2684d0" x="540.434783" y="606.630435" style="fill: #2ca02c; fill-opacity: 0.500; stroke: #2ca02c; stroke-opacity: 0.600; stroke-width: 0.80"/>
    <use href="#C5_0_be2a2684d0" x="544.347826" y="599.021739" style="fill: #2ca02c; fill-opacity: 0.500; stroke: #2ca02c; stroke-opacity: 0.600; stroke-width: 0.80"/>
    <use href="#C5_0_be2a2684d0" x="536.521739" y="596.086957" style="fill: #2ca02c; fill-opacity: 0.500; stroke: #2ca02c; stroke-opacity: 0.600; stroke-width: 0.80"/>
    <use href="#C5_0_be2a2684d0" x="535.434783" y="620.652174" style="fill: #2ca02c; fill-opacity: 0.750; stroke: #2ca02c; stroke-opacity: 0.900; stroke-width: 0.80"/>
    <use href="#C5_0_be2a2684d0" x="548.478261" y="528.152174" style="fill: #2ca02c; fill-opacity: 0.750; stroke: #2ca02c; stroke-opacity: 0.900; stroke-width: 0.80"/>
    <use href="#C5_0_be2a2684d0" x="552.391304" y="536.195652" style="fill: #2ca02c; fill-opacity: 0.500; stroke: #2ca02c; stroke-opacity: 0.600; stroke-width: 0.80"/>
    <use href="#C5_0_be2a2684d0" x="559.673913" y="580.869565" style="fill: #2ca02c; fill-opacity: 0.750; stroke: #2ca02c; stroke-opacity: 0.900; stroke-width: 0.80"/>
    <use href="#C5_0_be2a2684d0" x="564.23913" y="600.76087" style="fill: #2ca02c; fill-opacity: 0.750; stroke: #2ca02c; stroke-opacity: 0.900; stroke-width: 0.80"/>
   </g>
   <g id="PathCollection_28"/>
   <g id="PathCollection_29"/>
   <g id="PathCollection_30"/>
  </g>
 </g>
 <defs>
  <clipPath id="p00e8a8040b">
   <rect x="40.76087" y="18.369565" width="306.032609" height="333.043478"/>
  </clipPath>
  <clipPath id="pc8015aed4d">
   <rect x="407.173913" y="18.369565" width="305.934783" height="333.043478"/>
  </clipPath>
 </defs>
</svg>

</body></html>
